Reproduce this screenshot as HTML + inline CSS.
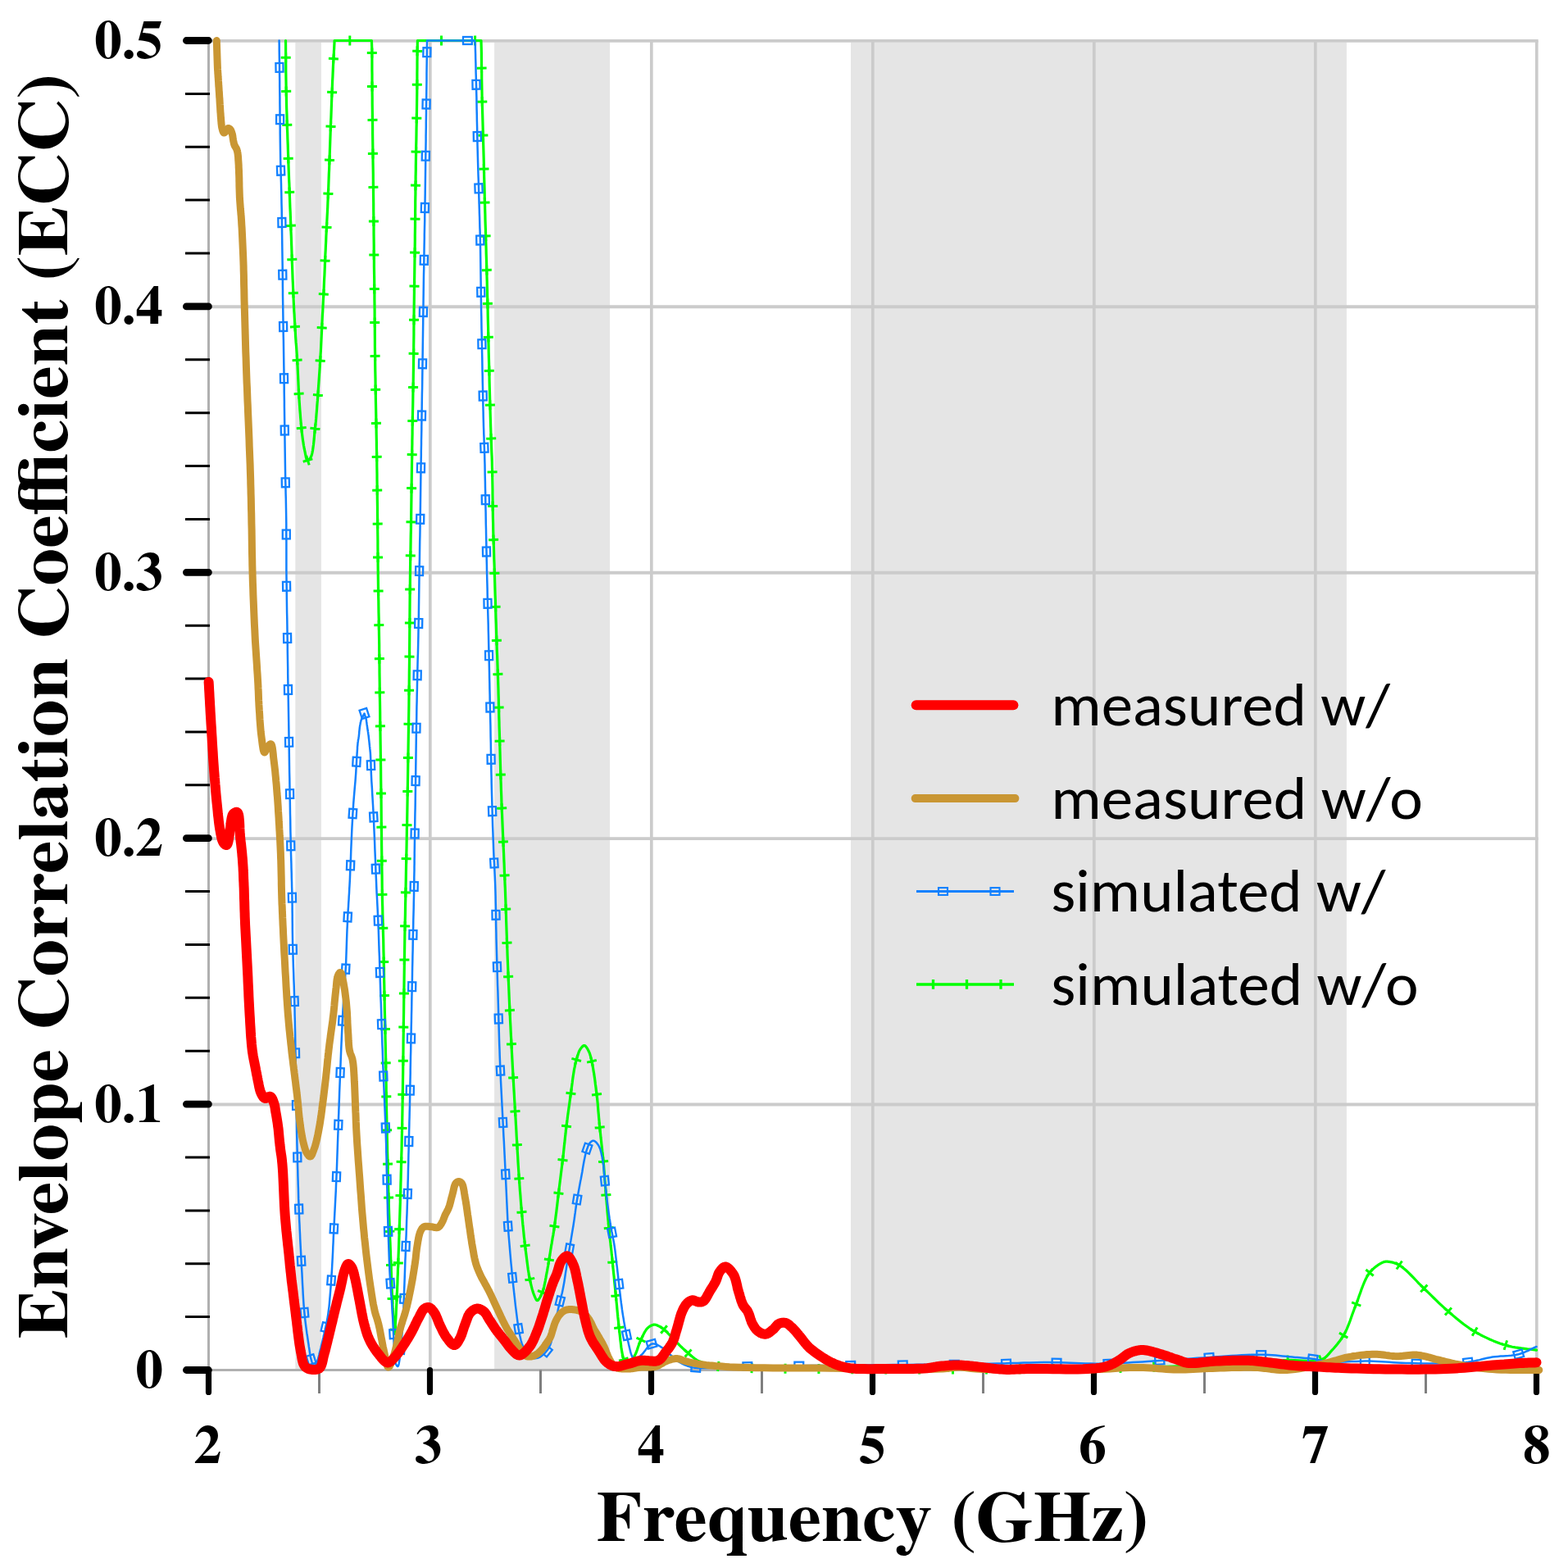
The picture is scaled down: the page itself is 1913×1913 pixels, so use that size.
<!DOCTYPE html><html><head><meta charset="utf-8"><title>Envelope Correlation Coefficient (ECC) vs Frequency</title>
<style>html,body{margin:0;padding:0;background:#fff;}svg{display:block;}</style></head><body>
<svg xmlns="http://www.w3.org/2000/svg" width="1913" height="1913" viewBox="0 0 1913 1913">
<rect x="0" y="0" width="1913" height="1913" fill="#ffffff"/>
<rect x="360.3" y="51.5" width="31.6" height="1618.5" fill="#e5e5e5"/>
<rect x="603.1" y="51.5" width="140.9" height="1618.5" fill="#e5e5e5"/>
<rect x="1038.0" y="51.5" width="604.9" height="1618.5" fill="#e5e5e5"/>
<path d="M256.0,1347.5 H1876.7 M256.0,1023.1 H1876.7 M256.0,698.7 H1876.7 M256.0,374.3 H1876.7 M256.0,49.9 H1876.7" stroke="#cbcbcb" stroke-width="3.9" fill="none"/>
<path d="M524.8,49.9 V1670.0 M794.8,49.9 V1670.0 M1064.8,49.9 V1670.0 M1334.8,49.9 V1670.0 M1604.8,49.9 V1670.0 M1874.8,49.9 V1670.0" stroke="#cbcbcb" stroke-width="3.7" fill="none"/>
<path d="M254.5,47.7 V1671.5 M254.5,1671.5 H1876.2" stroke="#b0b0b0" stroke-width="3" fill="none"/>
<path d="M389.5,1671.5 V1700 M659.5,1671.5 V1700 M929.5,1671.5 V1700 M1199.5,1671.5 V1700 M1469.5,1671.5 V1700 M1739.5,1671.5 V1700" stroke="#7f7f7f" stroke-width="3" fill="none"/>
<path d="M226,1606.6 H256 M226,1541.7 H256 M226,1476.9 H256 M226,1412.0 H256 M226,1282.2 H256 M226,1217.3 H256 M226,1152.5 H256 M226,1087.6 H256 M226,957.8 H256 M226,892.9 H256 M226,828.1 H256 M226,763.2 H256 M226,633.4 H256 M226,568.5 H256 M226,503.7 H256 M226,438.8 H256 M226,309.0 H256 M226,244.1 H256 M226,179.3 H256 M226,114.4 H256" stroke="#000" stroke-width="3" fill="none"/>
<path d="M227.4,1671.5 H254.4 M227.4,1347.1 H254.4 M227.4,1022.7 H254.4 M227.4,698.3 H254.4 M227.4,373.9 H254.4 M227.4,49.5 H254.4" stroke="#000" stroke-width="8.8" stroke-linecap="round" fill="none"/>
<path d="M254.5,1671.5 V1698.4 M524.5,1671.5 V1698.4 M794.5,1671.5 V1698.4 M1064.5,1671.5 V1698.4 M1334.5,1671.5 V1698.4 M1604.5,1671.5 V1698.4 M1874.5,1671.5 V1698.4" stroke="#000" stroke-width="7.2" stroke-linecap="round" fill="none"/>
<path d="M348.5,49.5 L348.6,55.7 L348.6,61.9 L348.7,68.1 L348.7,74.2 L348.8,80.4 L348.8,86.6 L348.9,92.9 L349.0,99.1 L349.1,105.5 L349.2,111.9 L349.4,118.9 L349.5,126.1 L349.7,133.3 L350.0,140.7 L350.2,148.0 L350.4,155.4 L350.7,162.7 L350.9,169.9 L351.2,176.9 L351.4,183.8 L351.6,189.8 L351.8,195.7 L352.0,201.5 L352.2,207.2 L352.4,212.9 L352.6,218.6 L352.9,224.2 L353.1,229.9 L353.3,235.6 L353.5,241.3 L353.7,247.1 L353.9,253.0 L354.2,258.9 L354.4,264.8 L354.6,270.6 L354.8,276.5 L355.0,282.4 L355.3,288.3 L355.5,294.2 L355.7,300.0 L355.9,305.8 L356.1,311.7 L356.3,317.6 L356.5,323.4 L356.7,329.3 L356.9,335.1 L357.1,340.9 L357.4,346.5 L357.6,352.1 L357.8,357.5 L358.0,362.1 L358.2,366.5 L358.4,370.9 L358.6,375.2 L358.8,379.4 L359.1,383.7 L359.3,387.9 L359.5,392.1 L359.8,396.3 L360.0,400.6 L360.3,404.9 L360.5,409.2 L360.8,413.6 L361.1,417.9 L361.5,422.2 L361.8,426.5 L362.1,430.8 L362.4,435.2 L362.6,439.5 L362.9,443.8 L363.1,448.1 L363.3,452.4 L363.5,456.7 L363.7,461.0 L363.9,465.4 L364.1,469.7 L364.3,474.0 L364.5,478.3 L364.7,482.6 L365.0,486.9 L365.3,491.3 L365.6,495.8 L365.9,500.3 L366.3,504.9 L366.6,509.4 L367.0,513.9 L367.4,518.2 L367.8,522.4 L368.2,526.3 L368.6,530.0 L368.9,532.4 L369.2,534.8 L369.5,537.1 L369.9,539.3 L370.2,541.4 L370.5,543.5 L370.9,545.5 L371.2,547.4 L371.6,549.2 L372.0,551.0 L372.3,552.3 L372.5,553.7 L372.8,555.1 L373.1,556.4 L373.3,557.7 L373.6,558.9 L373.9,559.9 L374.3,560.7 L374.7,561.3 L375.1,561.6 L375.5,561.6 L375.9,561.5 L376.3,561.3 L376.8,560.9 L377.2,560.5 L377.7,559.9 L378.2,559.4 L378.6,558.7 L379.0,558.0 L379.4,557.3 L380.2,555.3 L380.9,552.6 L381.5,549.6 L382.0,546.1 L382.5,542.4 L382.9,538.5 L383.3,534.5 L383.6,530.5 L384.0,526.6 L384.4,522.8 L384.8,518.7 L385.3,514.5 L385.7,510.2 L386.0,505.9 L386.4,501.6 L386.7,497.2 L387.0,492.8 L387.4,488.4 L387.7,484.0 L388.0,479.7 L388.3,475.4 L388.6,471.1 L388.9,466.8 L389.2,462.5 L389.5,458.2 L389.8,453.8 L390.1,449.5 L390.4,445.2 L390.6,440.9 L390.9,436.6 L391.1,432.3 L391.4,428.0 L391.6,423.6 L391.8,419.3 L392.0,415.0 L392.2,410.7 L392.4,406.4 L392.6,402.0 L392.8,397.7 L393.0,393.4 L393.2,389.1 L393.4,384.8 L393.7,380.6 L393.9,376.3 L394.1,372.1 L394.3,367.8 L394.5,363.5 L394.8,359.1 L395.0,354.7 L395.2,350.3 L395.4,345.4 L395.6,340.6 L395.9,335.6 L396.1,330.6 L396.3,325.6 L396.5,320.6 L396.7,315.5 L396.9,310.4 L397.2,305.2 L397.4,300.0 L397.7,294.3 L397.9,288.5 L398.2,282.7 L398.5,276.8 L398.8,270.9 L399.1,265.0 L399.4,259.0 L399.7,253.1 L399.9,247.2 L400.2,241.3 L400.4,235.5 L400.7,229.8 L400.9,224.0 L401.1,218.3 L401.3,212.5 L401.6,206.8 L401.8,201.0 L402.0,195.3 L402.2,189.5 L402.4,183.8 L402.6,178.0 L402.8,172.2 L403.0,166.4 L403.2,160.6 L403.4,154.8 L403.6,149.0 L403.9,143.3 L404.1,137.6 L404.3,131.9 L404.5,126.3 L404.7,121.0 L404.9,115.6 L405.2,110.0 L405.4,104.5 L405.6,99.1 L405.9,93.9 L406.1,88.8 L406.3,84.1 L406.5,79.8 L406.7,75.9 L406.8,73.9 L406.9,72.1 L407.0,70.4 L407.1,68.7 L407.2,67.2 L407.3,65.7 L407.4,64.2 L407.4,62.8 L407.5,61.4 L407.6,60.0 L407.7,58.9 L407.7,57.8 L407.8,56.7 L407.8,55.6 L407.9,54.6 L407.9,53.6 L408.0,52.6 L408.0,51.6 L408.1,50.5 L408.1,49.5 L453.4,49.5 L453.8,60.0 L453.8,65.2 L453.9,70.2 L453.9,75.3 L453.9,80.4 L453.9,85.4 L454.0,90.5 L454.0,95.7 L454.0,101.0 L454.1,106.4 L454.1,111.9 L454.2,118.7 L454.2,125.7 L454.3,132.9 L454.4,140.2 L454.5,147.6 L454.6,155.1 L454.6,162.5 L454.7,169.7 L454.8,176.9 L454.9,183.8 L455.0,189.8 L455.0,195.6 L455.1,201.3 L455.2,207.0 L455.3,212.6 L455.3,218.1 L455.4,223.8 L455.5,229.5 L455.5,235.3 L455.6,241.3 L455.7,248.2 L455.7,255.3 L455.8,262.5 L455.9,269.8 L456.0,277.1 L456.0,284.5 L456.1,291.8 L456.2,299.1 L456.2,306.2 L456.3,313.1 L456.4,319.2 L456.4,325.1 L456.5,331.0 L456.6,336.8 L456.7,342.5 L456.7,348.2 L456.8,354.0 L456.9,359.9 L456.9,365.8 L457.0,371.9 L457.1,378.8 L457.1,385.7 L457.2,392.7 L457.3,399.8 L457.3,407.0 L457.4,414.2 L457.4,421.5 L457.5,428.9 L457.6,436.3 L457.7,443.8 L457.8,452.2 L458.0,461.0 L458.1,470.0 L458.3,479.1 L458.4,488.3 L458.6,497.3 L458.8,506.1 L458.9,514.5 L459.1,522.5 L459.2,530.0 L459.3,534.9 L459.4,539.5 L459.4,543.8 L459.5,548.0 L459.6,552.1 L459.6,556.1 L459.7,560.1 L459.8,564.3 L459.8,568.6 L459.9,573.1 L460.0,578.6 L460.0,584.2 L460.1,589.9 L460.2,595.7 L460.3,601.6 L460.3,607.5 L460.4,613.5 L460.5,619.6 L460.5,625.7 L460.6,631.9 L460.7,638.8 L460.7,645.8 L460.8,652.9 L460.9,660.1 L460.9,667.4 L461.0,674.7 L461.1,682.0 L461.1,689.3 L461.2,696.6 L461.3,703.8 L461.4,711.0 L461.5,718.3 L461.6,725.6 L461.8,732.9 L461.9,740.2 L462.0,747.5 L462.2,754.6 L462.3,761.8 L462.4,768.7 L462.5,775.6 L462.6,781.5 L462.7,787.1 L462.7,792.6 L462.8,797.9 L462.9,803.3 L462.9,808.7 L463.0,814.3 L463.0,820.2 L463.1,826.4 L463.2,833.1 L463.3,844.0 L463.5,855.9 L463.7,868.4 L463.8,881.6 L464.0,895.2 L464.2,909.0 L464.4,923.0 L464.6,936.9 L464.7,950.5 L464.9,963.8 L465.1,977.0 L465.2,990.5 L465.3,1004.2 L465.5,1018.0 L465.6,1031.6 L465.8,1045.0 L465.9,1058.0 L466.1,1070.5 L466.2,1082.2 L466.4,1093.1 L466.5,1099.9 L466.7,1106.2 L466.8,1112.2 L466.9,1118.0 L467.1,1123.6 L467.2,1129.1 L467.4,1134.5 L467.5,1140.1 L467.7,1145.9 L467.8,1151.9 L467.9,1158.8 L468.1,1165.8 L468.2,1172.9 L468.4,1180.1 L468.5,1187.4 L468.6,1194.7 L468.8,1202.0 L468.9,1209.3 L469.1,1216.6 L469.2,1223.8 L469.3,1231.0 L469.5,1238.3 L469.7,1245.6 L469.8,1252.8 L470.0,1260.1 L470.1,1267.4 L470.3,1274.6 L470.4,1281.7 L470.6,1288.7 L470.7,1295.6 L470.8,1301.8 L470.9,1308.0 L471.0,1314.1 L471.1,1320.2 L471.2,1326.3 L471.2,1332.2 L471.3,1338.1 L471.4,1343.8 L471.5,1349.5 L471.6,1355.0 L471.7,1359.5 L471.8,1363.8 L471.8,1367.9 L471.9,1372.0 L472.0,1376.0 L472.1,1380.0 L472.2,1384.2 L472.3,1388.4 L472.4,1392.8 L472.5,1397.5 L472.6,1404.0 L472.8,1410.8 L473.0,1417.9 L473.1,1425.3 L473.3,1432.8 L473.5,1440.3 L473.7,1447.8 L473.9,1455.2 L474.1,1462.5 L474.3,1469.4 L474.5,1475.4 L474.7,1481.3 L474.9,1487.1 L475.1,1492.9 L475.3,1498.6 L475.5,1504.2 L475.7,1509.9 L476.0,1515.5 L476.2,1521.2 L476.4,1526.9 L476.6,1532.7 L476.8,1538.7 L477.0,1544.8 L477.3,1550.9 L477.5,1557.0 L477.7,1562.9 L477.9,1568.7 L478.2,1574.2 L478.4,1579.5 L478.6,1584.4 L478.8,1587.6 L478.9,1590.7 L479.1,1593.8 L479.2,1596.7 L479.4,1599.5 L479.5,1602.3 L479.7,1604.9 L479.9,1607.4 L480.0,1609.7 L480.2,1612.0 L480.3,1613.5 L480.5,1615.1 L480.6,1616.7 L480.7,1618.3 L480.9,1619.8 L481.0,1621.2 L481.1,1622.3 L481.2,1623.2 L481.4,1623.8 L481.5,1624.0 L481.6,1623.8 L481.7,1623.2 L481.8,1622.4 L482.0,1621.2 L482.1,1619.9 L482.2,1618.4 L482.3,1616.8 L482.4,1615.2 L482.5,1613.6 L482.6,1612.0 L482.8,1609.3 L483.0,1606.3 L483.2,1603.0 L483.3,1599.6 L483.5,1596.0 L483.7,1592.3 L483.9,1588.6 L484.1,1584.9 L484.2,1581.2 L484.4,1577.6 L484.6,1573.9 L484.7,1570.1 L484.9,1566.3 L485.0,1562.4 L485.1,1558.5 L485.3,1554.7 L485.4,1550.9 L485.5,1547.2 L485.7,1543.5 L485.8,1540.0 L485.9,1537.1 L486.0,1534.4 L486.1,1531.8 L486.2,1529.2 L486.3,1526.6 L486.4,1524.0 L486.5,1521.4 L486.6,1518.6 L486.7,1515.6 L486.8,1512.5 L487.0,1507.6 L487.1,1502.3 L487.3,1496.8 L487.5,1491.0 L487.7,1485.1 L487.9,1479.0 L488.1,1472.9 L488.3,1466.8 L488.4,1460.8 L488.6,1455.0 L488.8,1449.3 L488.9,1443.5 L489.1,1437.8 L489.2,1432.0 L489.4,1426.3 L489.5,1420.5 L489.7,1414.8 L489.8,1409.0 L490.0,1403.3 L490.1,1397.5 L490.2,1391.8 L490.3,1386.3 L490.5,1380.9 L490.6,1375.5 L490.7,1370.0 L490.8,1364.4 L490.9,1358.7 L491.0,1352.8 L491.1,1346.6 L491.2,1340.0 L491.4,1329.9 L491.5,1318.9 L491.7,1307.2 L491.8,1295.1 L492.0,1282.7 L492.1,1270.2 L492.3,1257.9 L492.4,1245.9 L492.6,1234.5 L492.7,1223.8 L492.8,1215.9 L492.9,1208.3 L493.0,1201.0 L493.1,1193.8 L493.2,1186.8 L493.3,1179.8 L493.4,1172.9 L493.5,1166.0 L493.6,1159.0 L493.7,1151.9 L493.8,1144.8 L493.9,1137.8 L494.1,1130.9 L494.2,1124.0 L494.4,1117.0 L494.5,1110.0 L494.6,1102.8 L494.8,1095.5 L494.9,1087.9 L495.1,1080.0 L495.3,1069.5 L495.5,1058.6 L495.7,1047.4 L496.0,1035.8 L496.2,1024.1 L496.4,1012.1 L496.7,1000.0 L496.9,987.9 L497.1,975.8 L497.3,963.8 L497.5,951.0 L497.7,938.1 L497.9,925.1 L498.1,912.0 L498.3,898.8 L498.5,885.6 L498.7,872.4 L498.9,859.2 L499.0,846.1 L499.2,833.0 L499.3,819.9 L499.5,806.5 L499.6,793.0 L499.7,779.5 L499.8,766.0 L499.9,752.7 L500.0,739.8 L500.1,727.2 L500.3,715.2 L500.4,703.8 L500.5,695.8 L500.6,688.1 L500.7,680.7 L500.9,673.5 L501.0,666.5 L501.1,659.7 L501.2,652.8 L501.4,645.9 L501.5,639.0 L501.6,631.9 L501.7,624.6 L501.8,617.2 L501.9,609.8 L502.0,602.3 L502.1,594.9 L502.2,587.5 L502.3,580.3 L502.4,573.3 L502.5,566.5 L502.6,560.0 L502.7,555.2 L502.7,550.6 L502.8,546.2 L502.9,542.0 L502.9,537.8 L503.0,533.6 L503.1,529.4 L503.1,525.0 L503.2,520.4 L503.3,515.6 L503.4,509.1 L503.5,502.3 L503.7,495.3 L503.8,488.1 L503.9,480.8 L504.0,473.3 L504.2,465.9 L504.3,458.4 L504.4,451.1 L504.5,443.8 L504.6,436.6 L504.7,429.4 L504.7,422.2 L504.8,415.0 L504.9,407.9 L504.9,400.7 L505.0,393.5 L505.0,386.3 L505.1,379.1 L505.2,371.9 L505.3,364.7 L505.4,357.4 L505.5,350.1 L505.6,342.8 L505.7,335.5 L505.8,328.2 L505.9,321.0 L506.0,313.9 L506.1,306.9 L506.2,300.0 L506.3,293.8 L506.3,287.7 L506.4,281.7 L506.5,275.7 L506.5,269.7 L506.6,263.8 L506.6,258.1 L506.7,252.4 L506.7,246.8 L506.8,241.3 L506.9,236.8 L506.9,232.4 L507.0,228.2 L507.0,224.1 L507.1,220.0 L507.1,215.8 L507.2,211.7 L507.3,207.3 L507.3,202.8 L507.4,198.1 L507.5,191.6 L507.6,184.9 L507.7,177.8 L507.9,170.5 L508.0,163.2 L508.1,155.7 L508.3,148.2 L508.4,140.8 L508.5,133.4 L508.6,126.3 L508.7,119.3 L508.8,112.0 L508.8,104.4 L508.9,96.8 L508.9,89.4 L509.0,82.3 L509.0,75.6 L509.1,69.6 L509.1,64.3 L509.2,60.0 L509.2,58.6 L509.2,57.3 L509.3,56.2 L509.3,55.1 L509.3,54.2 L509.3,53.3 L509.3,52.4 L509.4,51.5 L509.4,50.5 L509.4,49.5 L587.0,49.5 L587.3,60.0 L587.4,65.2 L587.4,70.2 L587.5,75.3 L587.5,80.4 L587.6,85.4 L587.7,90.5 L587.7,95.7 L587.8,101.0 L587.9,106.4 L588.0,111.9 L588.1,118.6 L588.3,125.5 L588.5,132.6 L588.7,139.8 L588.9,147.1 L589.1,154.5 L589.3,161.9 L589.5,169.2 L589.7,176.6 L589.9,183.8 L590.1,191.0 L590.3,198.3 L590.4,205.6 L590.6,212.9 L590.8,220.1 L591.0,227.4 L591.2,234.6 L591.3,241.7 L591.5,248.7 L591.7,255.6 L591.9,261.8 L592.0,267.9 L592.2,273.9 L592.4,279.8 L592.6,285.7 L592.7,291.6 L592.9,297.5 L593.1,303.3 L593.2,309.1 L593.4,315.0 L593.6,320.7 L593.7,326.4 L593.9,332.0 L594.0,337.5 L594.2,343.1 L594.3,348.7 L594.5,354.4 L594.6,360.1 L594.8,365.9 L594.9,371.9 L595.1,378.7 L595.2,385.7 L595.4,392.9 L595.6,400.1 L595.7,407.3 L595.9,414.6 L596.1,422.0 L596.2,429.3 L596.4,436.6 L596.6,443.8 L596.8,451.0 L597.0,458.3 L597.1,465.6 L597.3,472.9 L597.5,480.1 L597.7,487.4 L597.9,494.6 L598.1,501.7 L598.3,508.7 L598.5,515.6 L598.7,521.8 L598.9,527.9 L599.1,533.9 L599.4,539.8 L599.6,545.7 L599.8,551.6 L600.1,557.5 L600.3,563.3 L600.4,569.1 L600.6,575.0 L600.7,580.7 L600.8,586.4 L600.9,591.9 L601.0,597.5 L601.0,603.1 L601.1,608.7 L601.1,614.4 L601.2,620.1 L601.3,625.9 L601.4,631.9 L601.6,638.8 L601.7,645.7 L601.9,652.9 L602.1,660.1 L602.4,667.3 L602.6,674.6 L602.8,682.0 L603.1,689.3 L603.3,696.6 L603.5,703.8 L603.7,711.0 L603.9,718.3 L604.1,725.6 L604.4,732.9 L604.6,740.1 L604.8,747.4 L605.0,754.6 L605.3,761.7 L605.5,768.7 L605.7,775.6 L605.9,781.8 L606.1,787.9 L606.3,793.9 L606.6,799.8 L606.8,805.7 L607.0,811.6 L607.2,817.5 L607.4,823.3 L607.6,829.1 L607.8,835.0 L608.0,840.7 L608.1,846.4 L608.3,851.9 L608.4,857.5 L608.6,863.1 L608.7,868.7 L608.8,874.4 L609.0,880.1 L609.1,885.9 L609.3,891.9 L609.5,898.8 L609.7,905.7 L609.9,912.9 L610.1,920.1 L610.3,927.3 L610.5,934.6 L610.7,942.0 L610.9,949.3 L611.2,956.6 L611.4,963.8 L611.7,971.0 L611.9,978.3 L612.2,985.6 L612.5,992.9 L612.8,1000.1 L613.1,1007.4 L613.4,1014.6 L613.7,1021.7 L614.0,1028.7 L614.3,1035.6 L614.6,1041.8 L614.8,1047.9 L615.1,1053.9 L615.3,1059.8 L615.5,1065.7 L615.8,1071.6 L616.0,1077.5 L616.3,1083.3 L616.5,1089.1 L616.7,1095.0 L616.9,1100.7 L617.1,1106.4 L617.3,1112.0 L617.5,1117.5 L617.6,1123.1 L617.8,1128.7 L618.0,1134.4 L618.2,1140.1 L618.4,1145.9 L618.6,1151.9 L618.9,1158.8 L619.1,1165.7 L619.4,1172.9 L619.7,1180.1 L620.0,1187.3 L620.3,1194.6 L620.6,1202.0 L620.9,1209.3 L621.2,1216.6 L621.5,1223.8 L621.8,1231.0 L622.2,1238.1 L622.5,1245.3 L622.9,1252.4 L623.2,1259.5 L623.6,1266.7 L624.0,1273.9 L624.3,1281.1 L624.7,1288.3 L625.1,1295.6 L625.5,1303.3 L625.9,1311.0 L626.4,1318.8 L626.8,1326.7 L627.3,1334.6 L627.7,1342.4 L628.2,1350.2 L628.6,1357.9 L629.1,1365.5 L629.5,1372.9 L629.9,1379.5 L630.2,1386.0 L630.6,1392.4 L631.0,1398.7 L631.3,1405.0 L631.7,1411.2 L632.0,1417.4 L632.4,1423.5 L632.8,1429.6 L633.2,1435.7 L633.6,1441.4 L634.0,1447.0 L634.4,1452.7 L634.9,1458.4 L635.3,1464.0 L635.7,1469.5 L636.2,1474.9 L636.6,1480.1 L637.1,1485.2 L637.5,1490.0 L637.8,1493.5 L638.2,1496.9 L638.5,1500.1 L638.8,1503.2 L639.1,1506.3 L639.4,1509.3 L639.8,1512.3 L640.1,1515.4 L640.5,1518.6 L640.9,1521.8 L641.3,1525.5 L641.8,1529.3 L642.3,1533.2 L642.8,1537.2 L643.3,1541.2 L643.8,1545.1 L644.3,1548.9 L644.9,1552.6 L645.5,1556.1 L646.1,1559.4 L646.6,1561.7 L647.1,1564.0 L647.6,1566.2 L648.1,1568.3 L648.6,1570.4 L649.1,1572.4 L649.7,1574.3 L650.2,1576.1 L650.8,1577.8 L651.4,1579.3 L651.8,1580.3 L652.2,1581.3 L652.6,1582.3 L653.0,1583.2 L653.4,1584.1 L653.8,1584.9 L654.2,1585.6 L654.6,1586.1 L655.0,1586.5 L655.5,1586.6 L656.1,1586.4 L656.7,1585.9 L657.3,1585.2 L658.0,1584.2 L658.7,1583.0 L659.4,1581.7 L660.0,1580.4 L660.7,1578.9 L661.3,1577.5 L661.8,1576.2 L662.5,1574.3 L663.1,1572.3 L663.7,1570.1 L664.2,1567.9 L664.7,1565.6 L665.2,1563.1 L665.6,1560.7 L666.1,1558.2 L666.5,1555.7 L667.0,1553.2 L667.6,1550.2 L668.1,1547.2 L668.7,1544.1 L669.2,1540.9 L669.7,1537.6 L670.3,1534.4 L670.8,1531.2 L671.3,1528.0 L671.8,1524.8 L672.3,1521.8 L672.7,1519.1 L673.2,1516.6 L673.6,1514.1 L674.0,1511.6 L674.4,1509.1 L674.9,1506.6 L675.3,1504.1 L675.7,1501.5 L676.1,1498.8 L676.5,1496.0 L677.0,1492.2 L677.5,1488.3 L678.0,1484.3 L678.6,1480.1 L679.1,1475.8 L679.6,1471.5 L680.1,1467.2 L680.6,1462.9 L681.1,1458.7 L681.6,1454.5 L682.1,1450.5 L682.6,1446.4 L683.1,1442.4 L683.6,1438.4 L684.1,1434.4 L684.6,1430.3 L685.1,1426.3 L685.6,1422.3 L686.1,1418.3 L686.6,1414.3 L687.1,1410.3 L687.5,1406.3 L687.9,1402.3 L688.3,1398.3 L688.8,1394.3 L689.2,1390.3 L689.6,1386.3 L690.1,1382.3 L690.5,1378.2 L691.0,1374.2 L691.5,1370.0 L692.1,1365.8 L692.6,1361.6 L693.2,1357.3 L693.8,1353.0 L694.4,1348.8 L695.0,1344.6 L695.5,1340.6 L696.1,1336.6 L696.6,1332.8 L697.0,1329.8 L697.4,1326.7 L697.8,1323.8 L698.2,1320.9 L698.5,1318.0 L698.9,1315.2 L699.3,1312.5 L699.7,1309.9 L700.1,1307.4 L700.5,1305.0 L700.8,1303.3 L701.2,1301.6 L701.5,1300.0 L701.8,1298.5 L702.2,1297.0 L702.5,1295.5 L702.9,1294.1 L703.3,1292.7 L703.7,1291.3 L704.1,1290.0 L704.4,1288.9 L704.8,1287.8 L705.1,1286.7 L705.5,1285.6 L705.8,1284.6 L706.2,1283.5 L706.6,1282.6 L707.0,1281.7 L707.5,1280.8 L708.0,1280.0 L708.4,1279.4 L708.9,1278.8 L709.4,1278.1 L709.9,1277.5 L710.4,1277.0 L710.9,1276.5 L711.4,1276.0 L711.9,1275.7 L712.4,1275.5 L712.9,1275.5 L713.4,1275.6 L714.0,1276.0 L714.5,1276.5 L715.0,1277.1 L715.6,1277.8 L716.1,1278.6 L716.6,1279.4 L717.1,1280.3 L717.6,1281.2 L718.0,1282.0 L718.5,1283.1 L719.0,1284.2 L719.5,1285.4 L719.9,1286.7 L720.3,1288.0 L720.6,1289.3 L721.0,1290.8 L721.4,1292.3 L721.7,1293.9 L722.1,1295.6 L722.8,1298.7 L723.4,1302.2 L724.0,1305.9 L724.7,1309.9 L725.3,1314.1 L725.9,1318.4 L726.4,1322.7 L727.0,1327.0 L727.5,1331.2 L728.0,1335.3 L728.5,1339.3 L728.9,1343.3 L729.3,1347.3 L729.6,1351.3 L729.9,1355.3 L730.3,1359.3 L730.6,1363.3 L731.0,1367.3 L731.3,1371.4 L731.7,1375.4 L732.1,1379.5 L732.6,1383.6 L733.0,1387.8 L733.5,1391.9 L733.9,1396.1 L734.4,1400.2 L734.8,1404.4 L735.3,1408.5 L735.7,1412.7 L736.1,1416.8 L736.5,1420.8 L736.8,1424.9 L737.1,1428.9 L737.4,1432.9 L737.7,1436.8 L738.0,1440.8 L738.3,1444.9 L738.7,1448.9 L739.0,1452.9 L739.3,1457.0 L739.7,1461.3 L740.0,1465.7 L740.4,1470.3 L740.8,1474.8 L741.1,1479.3 L741.5,1483.8 L741.9,1488.1 L742.3,1492.3 L742.6,1496.3 L743.0,1500.0 L743.2,1502.4 L743.5,1504.7 L743.7,1506.8 L743.9,1508.8 L744.2,1510.8 L744.4,1512.8 L744.6,1514.8 L744.9,1517.0 L745.1,1519.3 L745.4,1521.8 L745.9,1526.1 L746.3,1530.8 L746.9,1535.8 L747.4,1541.1 L747.9,1546.5 L748.5,1552.1 L749.1,1557.7 L749.6,1563.3 L750.2,1568.8 L750.7,1574.1 L751.2,1579.4 L751.7,1584.8 L752.3,1590.3 L752.8,1595.8 L753.3,1601.3 L753.8,1606.7 L754.4,1611.9 L754.9,1617.0 L755.4,1621.8 L755.9,1626.3 L756.3,1629.4 L756.6,1632.5 L756.9,1635.4 L757.3,1638.4 L757.6,1641.2 L757.9,1643.8 L758.3,1646.4 L758.7,1648.8 L759.1,1651.0 L759.5,1653.0 L759.8,1654.1 L760.0,1655.2 L760.2,1656.3 L760.5,1657.3 L760.7,1658.2 L761.0,1659.1 L761.3,1659.9 L761.6,1660.6 L762.0,1661.1 L762.5,1661.5 L762.9,1661.7 L763.3,1661.8 L763.7,1661.8 L764.1,1661.8 L764.6,1661.8 L765.1,1661.7 L765.6,1661.5 L766.1,1661.4 L766.5,1661.2 L767.0,1661.0 L767.7,1660.7 L768.3,1660.3 L769.0,1659.8 L769.7,1659.3 L770.4,1658.7 L771.1,1658.1 L771.8,1657.4 L772.4,1656.6 L773.1,1655.8 L773.7,1655.0 L774.5,1653.6 L775.3,1652.0 L776.1,1650.3 L776.8,1648.4 L777.5,1646.5 L778.1,1644.5 L778.8,1642.5 L779.5,1640.5 L780.2,1638.6 L781.0,1636.8 L781.8,1635.1 L782.6,1633.4 L783.4,1631.6 L784.2,1629.9 L785.0,1628.1 L785.8,1626.5 L786.7,1624.9 L787.6,1623.5 L788.4,1622.2 L789.3,1621.1 L789.9,1620.5 L790.4,1619.9 L791.0,1619.4 L791.6,1619.0 L792.1,1618.6 L792.7,1618.2 L793.3,1617.8 L793.9,1617.5 L794.4,1617.3 L795.0,1617.0 L795.5,1616.8 L795.9,1616.6 L796.3,1616.5 L796.8,1616.4 L797.2,1616.2 L797.7,1616.2 L798.1,1616.1 L798.6,1616.1 L799.1,1616.1 L799.6,1616.2 L800.5,1616.4 L801.4,1616.7 L802.4,1617.2 L803.5,1617.7 L804.6,1618.3 L805.7,1619.0 L806.8,1619.7 L807.8,1620.4 L808.9,1621.2 L809.9,1621.9 L811.0,1622.8 L812.0,1623.7 L813.1,1624.7 L814.1,1625.7 L815.1,1626.8 L816.2,1627.9 L817.2,1629.0 L818.2,1630.1 L819.2,1631.2 L820.3,1632.3 L821.4,1633.4 L822.6,1634.6 L823.7,1635.7 L824.8,1636.9 L826.0,1638.1 L827.2,1639.2 L828.3,1640.4 L829.5,1641.6 L830.6,1642.7 L831.8,1643.8 L832.9,1644.9 L834.1,1646.0 L835.3,1647.1 L836.5,1648.1 L837.6,1649.2 L838.8,1650.3 L840.0,1651.3 L841.1,1652.3 L842.2,1653.2 L843.3,1654.1 L844.1,1654.8 L844.9,1655.4 L845.6,1656.0 L846.4,1656.6 L847.1,1657.2 L847.8,1657.8 L848.6,1658.3 L849.4,1658.9 L850.3,1659.4 L851.3,1659.9 L852.8,1660.6 L854.4,1661.3 L856.1,1662.0 L857.9,1662.7 L859.8,1663.3 L861.7,1663.9 L863.8,1664.5 L865.8,1665.1 L867.9,1665.5 L870.0,1666.0 L872.6,1666.5 L875.2,1666.9 L877.9,1667.2 L880.6,1667.5 L883.4,1667.7 L886.4,1667.9 L889.5,1668.0 L892.8,1668.2 L896.3,1668.3 L900.0,1668.5 L907.4,1668.8 L915.4,1669.1 L924.0,1669.3 L933.2,1669.4 L943.0,1669.6 L953.3,1669.7 L964.2,1669.8 L975.6,1669.8 L987.6,1669.9 L1000.0,1670.0 L1024.2,1670.2 L1052.3,1670.3 L1083.2,1670.4 L1116.1,1670.4 L1150.0,1670.5 L1183.9,1670.5 L1216.8,1670.4 L1247.7,1670.3 L1275.8,1670.2 L1300.0,1670.0 L1312.2,1669.9 L1323.4,1669.7 L1333.9,1669.6 L1343.9,1669.4 L1353.4,1669.2 L1362.6,1669.0 L1371.7,1668.8 L1380.9,1668.6 L1390.2,1668.3 L1400.0,1668.0 L1410.1,1667.7 L1420.3,1667.4 L1430.6,1667.0 L1440.9,1666.6 L1451.1,1666.2 L1461.3,1665.8 L1471.3,1665.4 L1481.1,1664.9 L1490.7,1664.5 L1500.0,1664.0 L1507.6,1663.6 L1515.1,1663.1 L1522.5,1662.6 L1529.8,1662.1 L1536.9,1661.5 L1543.9,1661.0 L1550.7,1660.6 L1557.3,1660.1 L1563.8,1659.8 L1570.0,1659.5 L1574.7,1659.4 L1579.5,1659.6 L1584.1,1659.8 L1588.7,1660.1 L1593.2,1660.4 L1597.4,1660.6 L1601.5,1660.6 L1605.3,1660.4 L1608.7,1659.9 L1611.8,1659.0 L1613.6,1658.2 L1615.2,1657.3 L1616.6,1656.3 L1618.0,1655.2 L1619.2,1654.0 L1620.4,1652.7 L1621.6,1651.4 L1622.7,1650.0 L1623.9,1648.6 L1625.2,1647.2 L1626.8,1645.5 L1628.3,1643.7 L1629.9,1641.9 L1631.5,1640.0 L1633.0,1638.0 L1634.6,1636.0 L1636.1,1633.9 L1637.5,1631.7 L1638.9,1629.4 L1640.3,1627.1 L1641.8,1624.2 L1643.3,1621.1 L1644.6,1617.9 L1645.9,1614.6 L1647.2,1611.2 L1648.4,1607.8 L1649.6,1604.3 L1650.9,1600.7 L1652.2,1597.2 L1653.6,1593.7 L1655.2,1589.7 L1656.7,1585.5 L1658.2,1581.1 L1659.8,1576.7 L1661.3,1572.3 L1663.0,1568.0 L1664.7,1563.9 L1666.5,1560.0 L1668.4,1556.5 L1670.4,1553.5 L1671.9,1551.6 L1673.6,1549.8 L1675.3,1548.1 L1677.1,1546.5 L1678.9,1545.1 L1680.7,1543.8 L1682.4,1542.6 L1684.1,1541.6 L1685.7,1540.8 L1687.1,1540.1 L1687.8,1539.8 L1688.5,1539.6 L1689.2,1539.4 L1689.8,1539.3 L1690.4,1539.2 L1691.1,1539.2 L1691.7,1539.2 L1692.4,1539.2 L1693.1,1539.2 L1693.8,1539.3 L1694.9,1539.4 L1696.1,1539.6 L1697.4,1539.8 L1698.7,1540.1 L1700.0,1540.4 L1701.4,1540.9 L1702.8,1541.4 L1704.3,1542.0 L1705.7,1542.7 L1707.2,1543.5 L1709.8,1545.3 L1712.6,1547.5 L1715.6,1550.0 L1718.6,1552.9 L1721.7,1556.0 L1724.8,1559.2 L1728.0,1562.5 L1731.1,1565.8 L1734.3,1568.9 L1737.3,1571.9 L1740.3,1574.8 L1743.3,1577.7 L1746.3,1580.6 L1749.2,1583.5 L1752.2,1586.4 L1755.2,1589.3 L1758.2,1592.1 L1761.2,1594.9 L1764.3,1597.7 L1767.4,1600.4 L1770.5,1603.0 L1773.5,1605.6 L1776.6,1608.2 L1779.7,1610.7 L1782.8,1613.2 L1786.0,1615.7 L1789.2,1618.0 L1792.4,1620.3 L1795.8,1622.5 L1799.2,1624.6 L1802.8,1626.7 L1806.5,1628.7 L1810.3,1630.6 L1814.1,1632.4 L1818.0,1634.2 L1822.0,1635.9 L1825.9,1637.4 L1829.9,1638.9 L1833.8,1640.2 L1837.7,1641.4 L1841.4,1642.4 L1845.0,1643.2 L1848.7,1643.9 L1852.4,1644.4 L1856.1,1644.9 L1859.8,1645.3 L1863.4,1645.8 L1867.1,1646.2 L1870.8,1646.7 L1874.5,1647.2" stroke="#00ff00" stroke-width="3.2" stroke-linecap="round" stroke-linejoin="round" fill="none"/>
<path d="M348.6,64.2 L348.7,76.2 M354.7,70.2 L342.7,70.2 M349.1,105.4 L349.3,117.4 M355.2,111.3 L343.2,111.5 M350.1,146.4 L350.5,158.4 M356.3,152.2 L344.3,152.6 M351.5,187.4 L351.9,199.4 M357.7,193.2 L345.7,193.6 M353.0,228.5 L353.5,240.5 M359.2,234.3 L347.3,234.7 M354.5,269.3 L355.0,281.3 M360.8,275.0 L348.8,275.5 M356.1,310.5 L356.5,322.5 M362.3,316.3 L350.3,316.7 M357.5,351.5 L358.1,363.5 M363.8,357.2 L351.8,357.8 M359.5,392.5 L360.2,404.5 M365.9,398.2 L353.9,398.9 M362.2,433.4 L363.0,445.4 M368.6,439.0 L356.6,439.8 M364.3,474.4 L364.9,486.4 M370.6,480.1 L358.6,480.7 M367.2,516.1 L368.3,528.1 M373.7,521.5 L361.8,522.7 M369.7,563.3 L381.3,559.9 M373.8,555.8 L377.2,567.4 M383.8,528.8 L385.0,516.9 M378.4,522.2 L390.4,523.5 M387.4,487.9 L388.3,475.9 M381.9,481.5 L393.8,482.4 M390.3,446.2 L391.0,434.2 M384.7,439.8 L396.7,440.5 M392.4,405.9 L393.0,393.9 M386.7,399.6 L398.7,400.2 M394.5,364.9 L395.1,352.9 M388.8,358.6 L400.8,359.2 M396.4,324.0 L396.9,312.0 M390.6,317.7 L402.6,318.3 M398.2,283.2 L398.8,271.2 M392.5,276.9 L404.5,277.5 M400.2,242.2 L400.7,230.2 M394.4,235.9 L406.4,236.4 M401.8,201.3 L402.2,189.3 M396.0,195.1 L408.0,195.5 M403.2,160.3 L403.7,148.3 M397.5,154.1 L409.5,154.5 M404.8,118.6 L405.3,106.6 M399.1,112.3 L411.1,112.8 M406.6,77.6 L407.3,65.6 M400.9,71.3 L412.9,72.0 M420.8,49.5 L432.8,49.5 M426.8,43.5 L426.8,55.5 M453.8,58.4 L453.9,70.4 M459.8,64.4 L447.8,64.4 M454.0,99.4 L454.1,111.4 M460.0,105.4 L448.0,105.4 M454.4,140.4 L454.5,152.4 M460.5,146.3 L448.5,146.5 M454.9,181.4 L455.0,193.4 M460.9,187.3 L448.9,187.5 M455.4,222.3 L455.5,234.3 M461.4,228.2 L449.5,228.4 M455.8,264.0 L455.9,276.0 M461.9,269.9 L449.9,270.1 M456.2,305.0 L456.3,317.0 M462.3,310.9 L450.3,311.1 M456.7,346.5 L456.8,358.5 M462.8,352.4 L450.8,352.6 M457.2,387.4 L457.3,399.4 M463.2,393.4 L451.2,393.5 M457.5,428.4 L457.7,440.4 M463.6,434.3 L451.6,434.5 M458.1,469.4 L458.3,481.4 M464.2,475.3 L452.2,475.5 M458.9,510.4 L459.1,522.4 M465.0,516.3 L453.0,516.5 M459.6,551.3 L459.8,563.3 M465.7,557.2 L453.7,557.4 M460.1,592.1 L460.3,604.1 M466.2,598.0 L454.2,598.2 M460.6,633.1 L460.7,645.1 M466.7,639.0 L454.7,639.2 M461.0,674.0 L461.1,686.0 M467.0,679.9 L455.0,680.1 M461.5,715.0 L461.7,727.0 M467.6,720.9 L455.6,721.1 M462.2,756.7 L462.4,768.7 M468.3,762.6 L456.3,762.8 M462.8,797.7 L462.9,809.7 M468.9,803.6 L456.9,803.8 M463.3,838.8 L463.4,850.8 M469.3,844.7 L457.3,844.9 M463.8,879.9 L464.0,891.9 M469.9,885.8 L457.9,886.0 M464.4,921.0 L464.5,933.0 M470.4,926.9 L458.4,927.1 M464.9,962.1 L465.0,974.1 M470.9,968.0 L459.0,968.1 M465.3,1003.2 L465.5,1015.2 M471.4,1009.1 L459.4,1009.2 M465.8,1044.2 L465.9,1056.2 M471.8,1050.2 L459.8,1050.3 M466.3,1085.3 L466.5,1097.3 M472.4,1091.2 L460.4,1091.4 M467.2,1126.4 L467.5,1138.4 M473.3,1132.3 L461.3,1132.6 M468.1,1167.5 L468.4,1179.5 M474.2,1173.4 L462.2,1173.6 M468.9,1208.6 L469.1,1220.6 M475.0,1214.5 L463.0,1214.7 M469.7,1249.7 L470.0,1261.7 M475.9,1255.5 L463.9,1255.8 M470.6,1290.8 L470.8,1302.8 M476.7,1296.7 L464.7,1296.9 M471.2,1331.9 L471.4,1343.8 M477.3,1337.8 L465.3,1337.9 M471.9,1372.9 L472.2,1384.9 M478.1,1378.8 L466.1,1379.1 M472.9,1414.0 L473.2,1426.0 M479.0,1419.9 L467.0,1420.2 M473.9,1455.1 L474.2,1467.1 M480.1,1460.9 L468.1,1461.3 M475.2,1496.2 L475.7,1508.2 M481.4,1501.9 L469.5,1502.4 M476.8,1537.2 L477.2,1549.2 M483.0,1543.0 L471.0,1543.4 M478.3,1578.3 L478.9,1590.3 M484.6,1584.0 L472.6,1584.6 M481.0,1628.8 L482.6,1616.9 M475.8,1622.0 L487.7,1623.6 M483.9,1587.8 L484.5,1575.8 M478.2,1581.5 L490.2,1582.1 M485.6,1546.7 L486.0,1534.7 M479.8,1540.5 L491.8,1540.9 M487.0,1505.6 L487.4,1493.7 M481.2,1499.5 L493.2,1499.8 M488.3,1464.6 L488.7,1452.6 M482.5,1458.4 L494.5,1458.8 M489.5,1423.5 L489.8,1411.5 M483.6,1417.3 L495.6,1417.7 M490.4,1382.4 L490.7,1370.4 M484.6,1376.3 L496.5,1376.5 M491.2,1341.3 L491.4,1329.3 M485.3,1335.2 L497.3,1335.4 M491.8,1300.2 L491.9,1288.2 M485.8,1294.2 L497.8,1294.3 M492.3,1259.1 L492.4,1247.1 M486.3,1253.1 L498.3,1253.2 M492.8,1218.1 L492.9,1206.1 M486.9,1212.0 L498.9,1212.1 M493.3,1177.0 L493.5,1165.0 M487.4,1170.9 L499.4,1171.1 M494.0,1135.9 L494.2,1123.9 M488.1,1129.8 L500.1,1130.0 M494.8,1094.8 L495.0,1082.8 M488.9,1088.7 L500.9,1088.9 M495.6,1053.7 L495.9,1041.7 M489.7,1047.6 L501.7,1047.8 M496.4,1012.6 L496.6,1000.6 M490.5,1006.5 L502.5,1006.7 M497.2,971.5 L497.4,959.5 M491.3,965.4 L503.3,965.6 M497.8,930.4 L498.0,918.4 M491.9,924.4 L503.9,924.5 M498.5,889.4 L498.6,877.4 M492.5,883.3 L504.5,883.4 M499.0,848.3 L499.2,836.3 M493.1,842.2 L505.1,842.3 M499.5,807.2 L499.6,795.2 M493.5,801.1 L505.5,801.2 M499.8,766.1 L499.9,754.1 M493.9,760.0 L505.9,760.1 M500.2,725.0 L500.3,713.0 M494.2,718.9 L506.2,719.1 M500.7,683.9 L500.9,671.9 M494.8,677.8 L506.8,678.0 M501.4,642.8 L501.6,630.8 M495.5,636.7 L507.5,636.9 M502.0,601.7 L502.2,589.7 M496.1,595.6 L508.1,595.8 M502.6,560.6 L502.8,548.6 M496.7,554.5 L508.7,554.7 M503.2,519.5 L503.4,507.5 M497.3,513.4 L509.3,513.6 M504.0,478.5 L504.2,466.5 M498.1,472.4 L510.1,472.6 M504.6,437.4 L504.7,425.4 M498.6,431.3 L510.6,431.4 M505.0,396.3 L505.1,384.3 M499.0,390.2 L511.0,390.3 M505.4,355.2 L505.6,343.2 M499.5,349.1 L511.5,349.3 M506.0,314.1 L506.2,302.1 M500.1,308.0 L512.1,308.2 M506.5,273.1 L506.6,261.1 M500.5,267.0 L512.5,267.2 M506.9,232.2 L507.1,220.2 M501.0,226.1 L513.0,226.3 M507.5,191.2 L507.7,179.2 M501.6,185.1 L513.6,185.3 M508.2,150.2 L508.4,138.2 M502.3,144.1 L514.3,144.3 M508.8,109.3 L508.9,97.3 M502.8,103.3 L514.8,103.3 M509.1,68.3 L509.2,56.3 M503.2,62.2 L515.2,62.4 M532.5,49.5 L544.5,49.5 M538.5,43.5 L538.5,55.5 M573.6,49.5 L585.6,49.5 M579.6,43.5 L579.6,55.5 M587.5,77.1 L587.6,89.1 M593.6,83.0 L581.6,83.2 M588.1,118.1 L588.4,130.1 M594.3,124.0 L582.3,124.3 M589.2,159.1 L589.6,171.1 M595.4,164.9 L583.4,165.3 M590.3,200.0 L590.6,212.0 M596.5,205.9 L584.5,206.2 M591.3,241.0 L591.6,253.0 M597.5,246.9 L585.5,247.2 M592.4,282.0 L592.8,294.0 M598.6,287.8 L586.6,288.2 M593.6,323.5 L594.0,335.5 M599.8,329.3 L587.8,329.7 M594.7,364.4 L595.0,376.4 M600.9,370.3 L588.9,370.6 M595.7,405.4 L596.0,417.4 M601.8,411.3 L589.8,411.5 M596.7,446.4 L597.0,458.4 M602.8,452.3 L590.8,452.6 M597.7,488.1 L598.0,500.1 M603.9,493.9 L591.9,494.3 M599.0,529.0 L599.4,541.0 M605.2,534.8 L593.2,535.2 M600.5,569.8 L600.7,581.8 M606.6,575.7 L594.6,575.9 M601.1,611.5 L601.2,623.5 M607.2,617.4 L595.2,617.6 M601.9,652.5 L602.3,664.5 M608.1,658.3 L596.1,658.7 M603.2,693.4 L603.5,705.4 M609.4,699.2 L597.4,699.6 M604.4,734.4 L604.8,746.4 M610.6,740.2 L598.6,740.6 M605.7,775.4 L606.1,787.4 M611.9,781.2 L599.9,781.6 M607.2,816.4 L607.6,828.4 M613.4,822.2 L601.4,822.7 M608.4,857.1 L608.7,869.1 M614.6,863.0 L602.6,863.3 M609.5,898.1 L609.8,910.1 M615.6,904.0 L603.6,904.3 M610.6,939.1 L611.0,951.1 M616.8,945.0 L604.8,945.3 M612.0,980.1 L612.5,992.1 M618.2,985.8 L606.2,986.3 M613.7,1021.0 L614.2,1033.0 M619.9,1026.8 L608.0,1027.3 M615.4,1062.0 L615.9,1074.0 M621.6,1067.8 L609.6,1068.3 M617.0,1103.2 L617.4,1115.2 M623.2,1109.0 L611.2,1109.4 M618.3,1144.3 L618.8,1156.3 M624.5,1150.1 L612.5,1150.5 M619.9,1185.4 L620.4,1197.4 M626.1,1191.2 L614.1,1191.7 M621.6,1226.6 L622.2,1238.6 M627.9,1232.3 L615.9,1232.9 M623.6,1267.7 L624.3,1279.7 M629.9,1273.4 L618.0,1274.0 M625.8,1308.8 L626.5,1320.8 M632.1,1314.5 L620.2,1315.1 M628.2,1349.9 L628.9,1361.9 M634.5,1355.5 L622.5,1356.2 M630.5,1390.8 L631.2,1402.8 M636.8,1396.5 L624.9,1397.1 M632.9,1431.8 L633.8,1443.8 M639.3,1437.4 L627.4,1438.2 M636.0,1472.7 L637.0,1484.7 M642.5,1478.2 L630.5,1479.2 M639.9,1513.8 L641.4,1525.7 M646.6,1519.0 L634.7,1520.5 M645.1,1554.7 L647.6,1566.5 M652.2,1559.4 L640.5,1561.8 M659.3,1582.3 L663.8,1571.2 M656.0,1574.5 L667.1,1579.0 M668.9,1542.8 L670.8,1531.0 M663.9,1535.9 L675.8,1537.8 M675.6,1502.1 L677.3,1490.2 M670.5,1495.3 L682.4,1497.0 M680.7,1461.6 L682.2,1449.7 M675.5,1454.9 L687.4,1456.4 M685.8,1421.2 L687.2,1409.3 M680.5,1414.5 L692.5,1415.9 M690.3,1379.9 L691.8,1368.0 M685.1,1373.2 L697.0,1374.7 M695.6,1339.9 L697.3,1328.0 M690.5,1333.2 L702.4,1334.8 M701.6,1298.8 L704.8,1287.2 M697.4,1291.4 L709.0,1294.5 M720.6,1288.9 L723.2,1300.6 M727.8,1293.5 L716.1,1296.1 M727.3,1329.3 L728.7,1341.3 M734.0,1334.6 L722.0,1336.0 M731.1,1369.3 L732.3,1381.3 M737.7,1374.7 L725.7,1375.9 M735.6,1410.9 L736.6,1422.9 M742.1,1416.4 L730.1,1417.4 M738.9,1451.9 L739.9,1463.8 M745.4,1457.4 L733.4,1458.3 M742.2,1492.1 L743.4,1504.1 M748.8,1497.5 L736.8,1498.7 M746.6,1533.7 L747.8,1545.6 M753.2,1539.0 L741.3,1540.3 M750.8,1574.7 L751.9,1586.7 M757.3,1580.1 L745.4,1581.3 M754.5,1613.8 L755.8,1625.7 M761.1,1619.1 L749.2,1620.4 M759.0,1652.8 L762.6,1664.3 M766.5,1656.8 L755.1,1660.3 M779.5,1640.1 L784.4,1629.2 M776.5,1632.2 L787.4,1637.2 M805.3,1618.3 L814.7,1625.7 M813.8,1617.3 L806.3,1626.7 M835.1,1647.0 L844.1,1654.9 M843.5,1646.4 L835.6,1655.4 M870.3,1666.3 L882.3,1667.7 M877.0,1661.0 L875.6,1673.0 M911.1,1669.0 L923.1,1669.3 M917.3,1663.1 L917.0,1675.1 M952.0,1669.7 L964.0,1669.8 M958.1,1663.7 L958.0,1675.7 M992.9,1669.9 L1004.9,1670.0 M999.0,1664.0 L998.9,1676.0 M1033.8,1670.2 L1045.8,1670.3 M1039.8,1664.2 L1039.8,1676.2 M1074.7,1670.4 L1086.7,1670.4 M1080.7,1664.4 L1080.7,1676.4 M1115.6,1670.4 L1127.6,1670.5 M1121.6,1664.5 L1121.6,1676.5 M1156.5,1670.5 L1168.5,1670.5 M1162.5,1664.5 L1162.5,1676.5 M1197.4,1670.5 L1209.4,1670.4 M1203.4,1664.4 L1203.4,1676.4 M1238.3,1670.4 L1250.3,1670.3 M1244.3,1664.3 L1244.3,1676.3 M1279.2,1670.2 L1291.2,1670.1 M1285.1,1664.1 L1285.2,1676.1 M1320.1,1669.8 L1332.1,1669.6 M1326.0,1663.7 L1326.1,1675.7 M1360.9,1669.1 L1372.9,1668.8 M1366.8,1662.9 L1367.1,1674.9 M1401.8,1667.9 L1413.8,1667.6 M1407.6,1661.8 L1408.0,1673.8 M1442.7,1666.5 L1454.7,1666.1 M1448.5,1660.3 L1448.9,1672.3 M1483.5,1664.8 L1495.5,1664.2 M1489.2,1658.5 L1489.8,1670.5 M1524.4,1662.5 L1536.3,1661.6 M1529.9,1656.0 L1530.8,1668.0 M1565.2,1659.6 L1577.2,1659.4 M1571.1,1653.5 L1571.2,1665.5 M1606.4,1661.4 L1617.3,1656.6 M1609.4,1653.5 L1614.3,1664.5 M1636.1,1634.3 L1642.2,1623.9 M1633.9,1626.1 L1644.3,1632.1 M1652.5,1596.5 L1656.8,1585.4 M1649.1,1588.8 L1660.3,1593.1 M1667.3,1557.4 L1674.8,1548.0 M1666.4,1549.0 L1675.7,1556.5 M1702.2,1540.2 L1712.2,1546.8 M1710.5,1538.5 L1703.9,1548.5 M1733.0,1567.8 L1741.6,1576.0 M1741.4,1567.6 L1733.2,1576.2 M1762.4,1596.1 L1771.5,1603.9 M1770.9,1595.5 L1763.0,1604.5 M1794.0,1621.6 L1804.4,1627.6 M1802.2,1619.4 L1796.2,1629.8 M1831.1,1639.4 L1842.6,1642.9 M1838.6,1635.4 L1835.1,1646.9" stroke="#00ff00" stroke-width="3" fill="none"/>
<path d="M340.6,49.5 L340.7,55.7 L340.7,61.9 L340.8,68.1 L340.9,74.2 L341.0,80.4 L341.0,86.6 L341.1,92.9 L341.2,99.1 L341.2,105.5 L341.3,111.9 L341.4,118.9 L341.4,126.1 L341.5,133.3 L341.5,140.7 L341.6,148.0 L341.7,155.4 L341.7,162.7 L341.8,169.9 L341.9,176.9 L342.0,183.8 L342.1,189.8 L342.2,195.6 L342.4,201.3 L342.5,207.0 L342.7,212.6 L342.8,218.1 L343.0,223.8 L343.1,229.5 L343.3,235.3 L343.4,241.3 L343.5,248.2 L343.7,255.3 L343.8,262.5 L343.9,269.8 L344.0,277.1 L344.1,284.5 L344.2,291.8 L344.3,299.1 L344.4,306.2 L344.5,313.1 L344.6,319.2 L344.7,325.1 L344.7,331.0 L344.8,336.8 L344.9,342.5 L344.9,348.2 L345.0,354.0 L345.0,359.9 L345.1,365.8 L345.2,371.9 L345.3,378.8 L345.4,385.9 L345.5,393.2 L345.6,400.5 L345.7,407.9 L345.9,415.3 L346.0,422.6 L346.1,429.8 L346.2,436.9 L346.3,443.8 L346.4,449.8 L346.5,455.6 L346.5,461.3 L346.6,467.0 L346.7,472.6 L346.7,478.1 L346.8,483.8 L346.9,489.5 L346.9,495.3 L347.0,501.3 L347.1,508.2 L347.2,515.3 L347.3,522.5 L347.4,529.8 L347.5,537.2 L347.6,544.5 L347.7,551.8 L347.8,559.1 L347.9,566.2 L348.0,573.1 L348.1,579.2 L348.2,585.1 L348.4,591.0 L348.5,596.8 L348.6,602.5 L348.8,608.2 L348.9,614.0 L349.0,619.9 L349.1,625.8 L349.2,631.9 L349.3,638.8 L349.3,645.8 L349.3,652.9 L349.4,660.1 L349.4,667.4 L349.4,674.7 L349.4,682.0 L349.4,689.3 L349.4,696.6 L349.5,703.8 L349.6,711.0 L349.7,718.3 L349.8,725.6 L349.9,732.9 L350.0,740.2 L350.1,747.5 L350.3,754.6 L350.4,761.8 L350.5,768.7 L350.6,775.6 L350.7,781.6 L350.8,787.5 L350.8,793.3 L350.9,799.0 L351.0,804.7 L351.1,810.4 L351.2,816.0 L351.2,821.7 L351.3,827.4 L351.4,833.1 L351.5,838.9 L351.6,844.7 L351.7,850.5 L351.8,856.3 L351.9,862.1 L352.0,867.9 L352.1,873.8 L352.2,879.8 L352.3,885.8 L352.4,891.9 L352.5,898.8 L352.6,905.8 L352.7,912.9 L352.8,920.1 L352.9,927.4 L353.0,934.7 L353.1,942.0 L353.3,949.3 L353.4,956.6 L353.5,963.8 L353.6,971.0 L353.8,978.3 L353.9,985.6 L354.0,992.9 L354.2,1000.2 L354.3,1007.5 L354.4,1014.6 L354.6,1021.8 L354.7,1028.7 L354.9,1035.6 L355.0,1041.6 L355.2,1047.5 L355.4,1053.3 L355.5,1059.0 L355.7,1064.7 L355.8,1070.4 L356.0,1076.0 L356.1,1081.7 L356.3,1087.4 L356.4,1093.1 L356.5,1098.9 L356.6,1104.7 L356.6,1110.5 L356.7,1116.3 L356.7,1122.1 L356.8,1127.9 L356.8,1133.8 L356.9,1139.8 L357.0,1145.8 L357.1,1151.9 L357.3,1158.8 L357.5,1165.8 L357.7,1172.9 L357.9,1180.1 L358.2,1187.4 L358.4,1194.7 L358.7,1202.0 L358.9,1209.3 L359.1,1216.6 L359.3,1223.8 L359.5,1231.0 L359.6,1238.1 L359.8,1245.2 L359.9,1252.3 L360.1,1259.5 L360.2,1266.6 L360.3,1273.8 L360.4,1281.0 L360.6,1288.3 L360.7,1295.6 L360.8,1303.4 L361.0,1311.3 L361.1,1319.4 L361.2,1327.4 L361.3,1335.5 L361.5,1343.6 L361.6,1351.6 L361.7,1359.5 L361.9,1367.3 L362.0,1375.0 L362.1,1381.9 L362.3,1388.7 L362.4,1395.6 L362.6,1402.3 L362.8,1409.0 L362.9,1415.6 L363.1,1422.1 L363.3,1428.5 L363.4,1434.6 L363.6,1440.6 L363.7,1445.3 L363.9,1449.7 L364.0,1454.0 L364.1,1458.3 L364.2,1462.4 L364.4,1466.5 L364.5,1470.7 L364.7,1474.9 L364.8,1479.3 L365.0,1483.8 L365.2,1489.1 L365.5,1494.5 L365.7,1500.0 L366.0,1505.6 L366.2,1511.2 L366.5,1516.9 L366.8,1522.7 L367.1,1528.4 L367.4,1534.2 L367.7,1540.0 L368.0,1546.2 L368.4,1552.6 L368.7,1559.1 L369.0,1565.6 L369.4,1572.1 L369.7,1578.6 L370.1,1585.0 L370.5,1591.1 L371.0,1597.1 L371.5,1602.7 L371.9,1606.9 L372.4,1611.1 L372.9,1615.1 L373.4,1619.1 L373.9,1622.9 L374.4,1626.7 L375.0,1630.3 L375.5,1633.8 L376.0,1637.2 L376.5,1640.4 L376.8,1642.7 L377.2,1644.9 L377.5,1647.1 L377.8,1649.3 L378.1,1651.3 L378.5,1653.3 L378.8,1655.2 L379.2,1656.9 L379.6,1658.5 L380.0,1660.0 L380.3,1660.8 L380.5,1661.6 L380.8,1662.4 L381.1,1663.2 L381.4,1663.9 L381.7,1664.6 L382.0,1665.1 L382.3,1665.6 L382.7,1665.9 L383.0,1666.0 L383.3,1666.0 L383.7,1665.8 L384.0,1665.6 L384.4,1665.2 L384.8,1664.8 L385.1,1664.3 L385.5,1663.7 L385.8,1663.2 L386.2,1662.6 L386.5,1662.0 L387.0,1661.0 L387.4,1659.8 L387.9,1658.6 L388.3,1657.2 L388.6,1655.7 L389.0,1654.2 L389.4,1652.7 L389.7,1651.1 L390.1,1649.5 L390.5,1648.0 L391.0,1646.1 L391.5,1644.2 L391.9,1642.3 L392.4,1640.3 L392.9,1638.3 L393.4,1636.2 L393.9,1634.1 L394.4,1632.0 L394.8,1629.9 L395.3,1627.8 L395.8,1625.4 L396.4,1623.1 L396.9,1620.7 L397.4,1618.4 L398.0,1615.9 L398.5,1613.5 L399.0,1610.9 L399.5,1608.3 L400.0,1605.6 L400.4,1602.7 L400.9,1598.6 L401.5,1594.3 L401.9,1589.8 L402.3,1585.2 L402.7,1580.4 L403.1,1575.5 L403.5,1570.6 L403.8,1565.6 L404.2,1560.6 L404.5,1555.6 L404.9,1550.1 L405.2,1544.5 L405.5,1538.8 L405.8,1533.0 L406.1,1527.2 L406.3,1521.4 L406.6,1515.5 L406.8,1509.7 L407.1,1503.9 L407.4,1498.1 L407.7,1492.4 L408.0,1486.6 L408.3,1480.9 L408.6,1475.1 L408.9,1469.4 L409.2,1463.6 L409.5,1457.9 L409.8,1452.1 L410.0,1446.4 L410.3,1440.6 L410.5,1434.8 L410.8,1429.0 L411.0,1423.1 L411.2,1417.2 L411.4,1411.3 L411.6,1405.5 L411.8,1399.7 L412.0,1394.1 L412.2,1388.5 L412.4,1383.1 L412.6,1378.6 L412.7,1374.3 L412.9,1370.1 L413.0,1366.0 L413.1,1361.9 L413.3,1357.8 L413.4,1353.6 L413.6,1349.2 L413.7,1344.7 L413.9,1340.0 L414.1,1333.4 L414.4,1326.3 L414.7,1318.9 L415.0,1311.2 L415.3,1303.4 L415.6,1295.7 L415.9,1288.0 L416.2,1280.6 L416.5,1273.5 L416.8,1266.9 L417.0,1262.1 L417.2,1257.6 L417.4,1253.1 L417.6,1248.8 L417.8,1244.6 L418.0,1240.5 L418.2,1236.4 L418.4,1232.2 L418.7,1228.1 L418.9,1223.8 L419.2,1219.5 L419.4,1215.3 L419.7,1211.0 L420.0,1206.8 L420.4,1202.6 L420.7,1198.3 L421.0,1194.0 L421.3,1189.6 L421.5,1185.2 L421.8,1180.6 L422.1,1175.1 L422.3,1169.5 L422.5,1163.7 L422.7,1157.8 L422.9,1151.8 L423.1,1145.9 L423.3,1140.0 L423.5,1134.2 L423.8,1128.6 L424.0,1123.1 L424.2,1118.6 L424.5,1114.3 L424.7,1110.2 L425.0,1106.1 L425.2,1102.1 L425.5,1098.0 L425.7,1093.8 L426.0,1089.5 L426.2,1084.9 L426.5,1080.0 L426.9,1072.4 L427.2,1064.0 L427.6,1055.2 L428.0,1045.9 L428.3,1036.5 L428.7,1027.1 L429.1,1017.8 L429.5,1008.8 L430.0,1000.3 L430.4,992.5 L430.8,987.1 L431.1,981.8 L431.5,976.7 L431.9,971.7 L432.3,966.8 L432.7,962.2 L433.1,957.6 L433.5,953.2 L433.8,949.0 L434.1,945.0 L434.3,942.2 L434.4,939.6 L434.6,937.0 L434.7,934.5 L434.9,932.1 L435.0,929.8 L435.1,927.5 L435.2,925.3 L435.4,923.1 L435.5,921.0 L435.6,919.4 L435.7,917.9 L435.8,916.3 L435.9,914.9 L436.0,913.4 L436.0,912.0 L436.1,910.7 L436.3,909.3 L436.4,908.0 L436.5,906.7 L436.6,905.7 L436.8,904.7 L436.9,903.7 L437.0,902.8 L437.2,901.9 L437.4,901.0 L437.5,900.1 L437.6,899.1 L437.8,898.2 L437.9,897.3 L438.0,896.4 L438.1,895.4 L438.2,894.5 L438.2,893.6 L438.3,892.7 L438.4,891.7 L438.5,890.8 L438.6,889.9 L438.7,888.9 L438.8,888.0 L438.9,887.0 L439.1,886.1 L439.2,885.1 L439.4,884.1 L439.6,883.2 L439.7,882.2 L439.9,881.3 L440.2,880.3 L440.4,879.4 L440.7,878.5 L441.0,877.7 L441.3,876.8 L441.7,876.0 L442.1,875.2 L442.5,874.4 L442.9,873.6 L443.3,872.9 L443.7,872.1 L444.1,871.3 L444.5,870.5 L446.8,877.6 L446.9,878.6 L447.1,879.7 L447.2,880.7 L447.4,881.8 L447.5,882.8 L447.6,883.9 L447.8,884.9 L447.9,886.0 L448.1,887.0 L448.2,888.0 L448.3,889.0 L448.5,889.9 L448.6,890.8 L448.8,891.8 L448.9,892.7 L449.1,893.6 L449.2,894.5 L449.3,895.4 L449.5,896.4 L449.6,897.3 L449.7,898.2 L449.8,899.1 L449.9,900.1 L450.0,901.0 L450.1,901.9 L450.2,902.8 L450.3,903.7 L450.4,904.7 L450.5,905.7 L450.6,906.7 L450.7,908.0 L450.9,909.3 L451.0,910.7 L451.2,912.0 L451.3,913.4 L451.5,914.9 L451.6,916.3 L451.8,917.9 L451.9,919.4 L452.0,921.0 L452.1,923.1 L452.2,925.3 L452.3,927.5 L452.4,929.8 L452.5,932.1 L452.5,934.5 L452.6,937.0 L452.7,939.6 L452.8,942.2 L452.9,945.0 L453.1,949.0 L453.3,953.2 L453.6,957.6 L453.9,962.2 L454.1,966.8 L454.4,971.7 L454.7,976.7 L455.0,981.8 L455.3,987.1 L455.6,992.5 L456.0,1000.3 L456.3,1008.8 L456.7,1017.8 L457.1,1027.1 L457.4,1036.5 L457.8,1045.9 L458.2,1055.2 L458.5,1064.0 L458.9,1072.4 L459.2,1080.0 L459.4,1084.9 L459.6,1089.5 L459.9,1093.8 L460.1,1097.9 L460.3,1102.0 L460.5,1106.0 L460.7,1110.0 L460.9,1114.2 L461.1,1118.5 L461.3,1123.1 L461.5,1128.9 L461.8,1135.0 L462.0,1141.2 L462.2,1147.5 L462.4,1154.0 L462.6,1160.5 L462.9,1167.0 L463.1,1173.5 L463.3,1180.0 L463.5,1186.4 L463.7,1192.7 L463.9,1199.0 L464.1,1205.4 L464.3,1211.7 L464.5,1218.0 L464.8,1224.3 L465.0,1230.6 L465.2,1237.0 L465.4,1243.3 L465.6,1249.6 L465.8,1255.9 L466.0,1262.2 L466.2,1268.5 L466.4,1274.8 L466.7,1281.0 L466.9,1287.3 L467.1,1293.7 L467.3,1300.0 L467.6,1306.4 L467.8,1312.9 L468.1,1319.8 L468.4,1326.8 L468.7,1333.9 L469.0,1341.1 L469.3,1348.2 L469.6,1355.3 L469.9,1362.4 L470.2,1369.4 L470.5,1376.3 L470.7,1383.1 L470.9,1389.1 L471.1,1395.0 L471.2,1400.8 L471.3,1406.5 L471.5,1412.2 L471.6,1417.9 L471.7,1423.5 L471.8,1429.2 L472.0,1434.9 L472.1,1440.6 L472.2,1446.4 L472.4,1452.1 L472.5,1457.9 L472.6,1463.6 L472.8,1469.4 L472.9,1475.1 L473.0,1480.9 L473.2,1486.6 L473.3,1492.4 L473.5,1498.1 L473.7,1503.9 L473.9,1509.7 L474.1,1515.6 L474.3,1521.5 L474.5,1527.4 L474.7,1533.2 L474.9,1539.0 L475.2,1544.6 L475.4,1550.2 L475.7,1555.6 L476.0,1560.2 L476.2,1564.6 L476.5,1569.0 L476.8,1573.4 L477.1,1577.6 L477.5,1581.9 L477.8,1586.1 L478.1,1590.3 L478.3,1594.5 L478.6,1598.8 L478.8,1603.0 L479.1,1607.4 L479.3,1611.7 L479.5,1616.1 L479.7,1620.4 L479.9,1624.7 L480.1,1628.9 L480.3,1632.9 L480.5,1636.8 L480.7,1640.4 L480.8,1643.0 L481.0,1645.7 L481.0,1648.3 L481.1,1650.9 L481.2,1653.3 L481.4,1655.7 L481.5,1657.8 L481.8,1659.8 L482.1,1661.5 L482.5,1663.0 L482.7,1663.6 L483.0,1664.2 L483.3,1664.8 L483.6,1665.3 L483.9,1665.8 L484.2,1666.2 L484.5,1666.6 L484.8,1666.8 L485.0,1667.0 L485.3,1667.0 L485.7,1666.7 L486.0,1666.0 L486.4,1665.0 L486.7,1663.7 L486.9,1662.2 L487.2,1660.5 L487.5,1658.6 L487.7,1656.7 L487.9,1654.8 L488.2,1652.9 L488.7,1649.1 L489.1,1644.6 L489.6,1639.6 L490.0,1634.2 L490.4,1628.7 L490.8,1623.1 L491.1,1617.5 L491.5,1612.2 L491.7,1607.2 L492.0,1602.7 L492.2,1599.9 L492.3,1597.2 L492.4,1594.7 L492.5,1592.4 L492.6,1590.1 L492.6,1587.7 L492.7,1585.3 L492.8,1582.8 L492.9,1580.1 L493.0,1577.2 L493.2,1572.4 L493.4,1567.2 L493.6,1561.8 L493.8,1556.0 L494.0,1550.1 L494.2,1544.1 L494.4,1537.9 L494.7,1531.8 L494.9,1525.7 L495.1,1519.7 L495.3,1513.4 L495.6,1506.9 L495.8,1500.5 L496.0,1493.9 L496.2,1487.4 L496.5,1480.8 L496.7,1474.3 L496.9,1467.8 L497.1,1461.3 L497.3,1455.0 L497.5,1449.1 L497.6,1443.3 L497.8,1437.5 L497.9,1431.8 L498.0,1426.0 L498.2,1420.3 L498.3,1414.6 L498.4,1408.9 L498.6,1403.2 L498.7,1397.5 L498.8,1391.7 L499.0,1385.9 L499.1,1380.0 L499.3,1374.1 L499.4,1368.3 L499.6,1362.5 L499.7,1356.7 L499.9,1351.0 L500.0,1345.4 L500.1,1340.0 L500.2,1335.4 L500.3,1330.9 L500.4,1326.6 L500.4,1322.3 L500.5,1318.1 L500.6,1313.8 L500.7,1309.5 L500.7,1305.1 L500.8,1300.4 L500.9,1295.6 L501.0,1289.1 L501.2,1282.3 L501.3,1275.3 L501.4,1268.1 L501.6,1260.8 L501.7,1253.3 L501.9,1245.9 L502.0,1238.4 L502.2,1231.1 L502.3,1223.8 L502.4,1216.6 L502.6,1209.4 L502.7,1202.2 L502.9,1195.0 L503.0,1187.9 L503.1,1180.7 L503.3,1173.5 L503.4,1166.3 L503.6,1159.1 L503.7,1151.9 L503.8,1144.6 L504.0,1137.2 L504.2,1129.8 L504.3,1122.3 L504.5,1114.9 L504.7,1107.5 L504.8,1100.3 L505.0,1093.3 L505.1,1086.5 L505.2,1080.0 L505.3,1075.2 L505.3,1070.6 L505.4,1066.2 L505.5,1062.0 L505.5,1057.8 L505.6,1053.6 L505.6,1049.4 L505.7,1045.0 L505.7,1040.4 L505.8,1035.6 L505.9,1029.1 L506.0,1022.3 L506.1,1015.3 L506.2,1008.1 L506.3,1000.8 L506.4,993.3 L506.6,985.9 L506.7,978.4 L506.8,971.1 L506.9,963.8 L507.0,956.6 L507.1,949.4 L507.2,942.2 L507.3,935.0 L507.4,927.9 L507.5,920.7 L507.6,913.5 L507.7,906.3 L507.8,899.1 L507.9,891.9 L508.0,884.6 L508.2,877.2 L508.3,869.8 L508.4,862.3 L508.6,854.9 L508.7,847.5 L508.9,840.3 L509.0,833.3 L509.2,826.5 L509.3,820.0 L509.4,815.2 L509.5,810.6 L509.6,806.2 L509.7,802.0 L509.9,797.8 L510.0,793.6 L510.1,789.4 L510.2,785.0 L510.3,780.4 L510.4,775.6 L510.5,769.1 L510.6,762.3 L510.8,755.3 L510.9,748.1 L511.0,740.8 L511.1,733.3 L511.2,725.9 L511.3,718.4 L511.4,711.1 L511.5,703.8 L511.6,696.6 L511.7,689.4 L511.9,682.2 L512.0,675.0 L512.1,667.9 L512.2,660.7 L512.4,653.5 L512.5,646.3 L512.6,639.1 L512.7,631.9 L512.8,624.6 L512.9,617.2 L513.0,609.8 L513.1,602.3 L513.2,594.9 L513.3,587.5 L513.4,580.3 L513.5,573.3 L513.6,566.5 L513.7,560.0 L513.8,555.2 L513.8,550.6 L513.9,546.2 L514.0,542.0 L514.0,537.8 L514.1,533.6 L514.2,529.4 L514.3,525.0 L514.3,520.4 L514.4,515.6 L514.5,509.1 L514.6,502.3 L514.7,495.3 L514.8,488.1 L514.9,480.8 L515.1,473.3 L515.2,465.9 L515.3,458.4 L515.4,451.1 L515.5,443.8 L515.6,436.6 L515.7,429.4 L515.8,422.2 L515.9,415.0 L516.0,407.9 L516.1,400.7 L516.2,393.5 L516.3,386.3 L516.4,379.1 L516.5,371.9 L516.6,364.6 L516.7,357.2 L516.8,349.8 L516.9,342.3 L517.0,334.9 L517.2,327.5 L517.3,320.3 L517.4,313.3 L517.5,306.5 L517.6,300.0 L517.7,295.2 L517.8,290.6 L517.8,286.2 L517.9,282.0 L518.0,277.8 L518.1,273.6 L518.2,269.4 L518.2,265.0 L518.3,260.4 L518.4,255.6 L518.5,249.1 L518.6,242.2 L518.7,235.1 L518.8,227.7 L518.9,220.3 L519.0,212.8 L519.1,205.3 L519.2,197.9 L519.3,190.7 L519.4,183.8 L519.5,177.8 L519.6,172.0 L519.6,166.2 L519.7,160.5 L519.8,154.9 L519.8,149.3 L519.9,143.6 L520.0,138.0 L520.0,132.2 L520.1,126.3 L520.2,119.6 L520.3,112.4 L520.4,105.0 L520.5,97.4 L520.5,89.9 L520.6,82.6 L520.7,75.8 L520.8,69.7 L520.9,64.3 L520.9,60.0 L520.9,58.6 L520.9,57.3 L520.9,56.2 L520.9,55.1 L521.0,54.2 L521.0,53.3 L521.0,52.4 L521.0,51.5 L521.0,50.5 L521.0,49.5 L579.1,49.5 L579.8,54.4 L579.9,60.1 L580.1,65.8 L580.2,71.4 L580.4,77.1 L580.5,82.7 L580.6,88.4 L580.8,94.2 L580.9,100.0 L581.1,105.9 L581.2,111.9 L581.4,118.8 L581.5,125.8 L581.6,132.9 L581.8,140.1 L581.9,147.4 L582.1,154.7 L582.2,162.0 L582.4,169.3 L582.5,176.6 L582.7,183.8 L582.9,191.1 L583.1,198.4 L583.3,205.9 L583.5,213.3 L583.8,220.8 L584.0,228.1 L584.2,235.3 L584.4,242.3 L584.6,249.1 L584.8,255.6 L584.9,260.4 L585.1,265.0 L585.2,269.4 L585.3,273.6 L585.4,277.8 L585.6,282.0 L585.7,286.2 L585.8,290.6 L585.9,295.2 L586.0,300.0 L586.1,306.5 L586.2,313.3 L586.3,320.3 L586.4,327.5 L586.5,334.9 L586.6,342.3 L586.7,349.8 L586.8,357.2 L586.9,364.6 L587.0,371.9 L587.1,379.1 L587.3,386.3 L587.4,393.5 L587.5,400.7 L587.7,407.9 L587.8,415.0 L588.0,422.2 L588.1,429.4 L588.3,436.6 L588.4,443.8 L588.5,451.1 L588.7,458.4 L588.8,465.9 L589.0,473.3 L589.1,480.8 L589.3,488.1 L589.4,495.3 L589.6,502.3 L589.7,509.1 L589.9,515.6 L590.0,520.4 L590.2,525.0 L590.3,529.4 L590.5,533.6 L590.6,537.8 L590.7,542.0 L590.9,546.2 L591.0,550.6 L591.2,555.2 L591.3,560.0 L591.5,566.5 L591.6,573.3 L591.7,580.3 L591.9,587.5 L592.0,594.9 L592.2,602.3 L592.3,609.8 L592.4,617.2 L592.6,624.6 L592.7,631.9 L592.8,639.1 L593.0,646.3 L593.1,653.5 L593.3,660.7 L593.4,667.9 L593.6,675.0 L593.7,682.2 L593.9,689.4 L594.0,696.6 L594.2,703.8 L594.4,711.1 L594.6,718.4 L594.7,725.9 L594.9,733.3 L595.1,740.8 L595.3,748.1 L595.5,755.3 L595.7,762.3 L595.8,769.1 L596.0,775.6 L596.1,780.4 L596.2,785.0 L596.3,789.4 L596.4,793.6 L596.5,797.8 L596.6,802.0 L596.7,806.2 L596.8,810.6 L596.9,815.2 L597.0,820.0 L597.1,826.5 L597.3,833.3 L597.4,840.3 L597.6,847.5 L597.7,854.9 L597.9,862.3 L598.0,869.8 L598.2,877.2 L598.4,884.6 L598.5,891.9 L598.6,899.1 L598.8,906.3 L598.9,913.5 L599.0,920.7 L599.2,927.9 L599.3,935.0 L599.4,942.2 L599.6,949.4 L599.7,956.6 L599.9,963.8 L600.1,971.1 L600.3,978.4 L600.5,985.9 L600.7,993.3 L600.9,1000.8 L601.1,1008.1 L601.4,1015.3 L601.6,1022.3 L601.9,1029.1 L602.1,1035.6 L602.3,1040.4 L602.5,1045.0 L602.7,1049.4 L603.0,1053.6 L603.2,1057.8 L603.4,1062.0 L603.6,1066.2 L603.8,1070.6 L604.0,1075.2 L604.2,1080.0 L604.4,1086.5 L604.6,1093.3 L604.7,1100.3 L604.9,1107.5 L605.0,1114.9 L605.1,1122.3 L605.2,1129.8 L605.4,1137.2 L605.5,1144.6 L605.7,1151.9 L605.9,1159.1 L606.1,1166.3 L606.3,1173.5 L606.5,1180.7 L606.7,1187.9 L606.9,1195.0 L607.1,1202.2 L607.4,1209.4 L607.6,1216.6 L607.8,1223.8 L608.0,1231.0 L608.2,1238.1 L608.4,1245.3 L608.6,1252.4 L608.8,1259.5 L609.0,1266.7 L609.2,1273.9 L609.5,1281.1 L609.7,1288.3 L610.0,1295.6 L610.3,1303.3 L610.7,1311.0 L611.0,1318.8 L611.4,1326.7 L611.8,1334.6 L612.2,1342.4 L612.6,1350.2 L613.0,1357.9 L613.4,1365.5 L613.8,1372.9 L614.1,1379.4 L614.4,1385.9 L614.8,1392.2 L615.1,1398.5 L615.4,1404.7 L615.7,1410.8 L616.0,1417.0 L616.3,1423.2 L616.6,1429.4 L616.9,1435.7 L617.2,1442.1 L617.5,1448.6 L617.8,1455.0 L618.1,1461.5 L618.4,1468.0 L618.7,1474.5 L619.0,1480.9 L619.3,1487.3 L619.7,1493.7 L620.1,1500.0 L620.5,1506.0 L621.0,1512.0 L621.5,1517.9 L622.0,1523.9 L622.5,1529.8 L623.0,1535.6 L623.5,1541.4 L624.1,1547.2 L624.6,1552.8 L625.2,1558.4 L625.7,1563.4 L626.2,1568.4 L626.8,1573.5 L627.3,1578.5 L627.9,1583.4 L628.4,1588.2 L628.9,1592.8 L629.5,1597.3 L630.0,1601.5 L630.5,1605.4 L630.8,1607.8 L631.1,1610.2 L631.4,1612.4 L631.7,1614.5 L632.0,1616.6 L632.2,1618.6 L632.5,1620.5 L632.9,1622.5 L633.2,1624.4 L633.6,1626.3 L634.0,1628.0 L634.3,1629.7 L634.7,1631.3 L635.0,1632.9 L635.4,1634.5 L635.8,1636.1 L636.3,1637.6 L636.7,1639.1 L637.3,1640.6 L637.8,1642.0 L638.3,1643.2 L638.8,1644.5 L639.4,1645.7 L640.0,1646.9 L640.6,1648.1 L641.2,1649.2 L641.9,1650.3 L642.5,1651.3 L643.3,1652.2 L644.0,1653.0 L644.6,1653.6 L645.3,1654.2 L646.0,1654.7 L646.6,1655.2 L647.4,1655.6 L648.1,1656.0 L648.8,1656.3 L649.5,1656.6 L650.3,1656.8 L651.0,1657.0 L651.7,1657.1 L652.4,1657.2 L653.1,1657.2 L653.8,1657.1 L654.5,1657.0 L655.2,1656.9 L655.9,1656.7 L656.6,1656.5 L657.3,1656.3 L658.0,1656.0 L658.8,1655.6 L659.7,1655.1 L660.5,1654.5 L661.4,1653.8 L662.2,1653.1 L663.0,1652.4 L663.8,1651.6 L664.6,1650.9 L665.3,1650.1 L666.0,1649.3 L666.6,1648.6 L667.2,1647.8 L667.8,1647.1 L668.3,1646.4 L668.8,1645.6 L669.3,1644.8 L669.8,1644.0 L670.3,1643.0 L670.7,1642.1 L671.2,1641.0 L671.9,1639.0 L672.6,1636.8 L673.2,1634.3 L673.8,1631.7 L674.3,1628.9 L674.8,1626.1 L675.4,1623.3 L675.9,1620.4 L676.4,1617.7 L677.0,1615.0 L677.6,1612.4 L678.2,1609.9 L678.7,1607.3 L679.3,1604.7 L679.9,1602.1 L680.5,1599.5 L681.0,1597.0 L681.6,1594.6 L682.2,1592.1 L682.7,1589.8 L683.1,1587.9 L683.6,1586.2 L684.0,1584.5 L684.4,1582.8 L684.8,1581.2 L685.2,1579.5 L685.7,1577.8 L686.1,1576.0 L686.5,1574.1 L686.9,1572.0 L687.5,1568.7 L688.2,1565.1 L688.8,1561.2 L689.4,1557.2 L690.0,1553.0 L690.7,1548.8 L691.3,1544.6 L691.9,1540.4 L692.6,1536.3 L693.2,1532.3 L693.8,1528.6 L694.5,1524.8 L695.1,1521.1 L695.7,1517.4 L696.4,1513.8 L697.0,1510.1 L697.6,1506.5 L698.2,1502.9 L698.8,1499.3 L699.4,1495.7 L699.9,1492.4 L700.4,1489.1 L700.9,1485.8 L701.3,1482.5 L701.8,1479.2 L702.2,1476.0 L702.7,1472.8 L703.1,1469.6 L703.6,1466.4 L704.1,1463.3 L704.6,1460.5 L705.1,1457.7 L705.6,1454.9 L706.1,1452.2 L706.6,1449.5 L707.1,1446.8 L707.6,1444.0 L708.1,1441.3 L708.7,1438.5 L709.2,1435.7 L709.8,1432.6 L710.4,1429.3 L710.9,1425.9 L711.5,1422.4 L712.1,1419.0 L712.7,1415.7 L713.4,1412.5 L714.0,1409.5 L714.7,1406.7 L715.4,1404.3 L715.8,1403.0 L716.2,1401.7 L716.7,1400.5 L717.1,1399.3 L717.5,1398.2 L718.0,1397.2 L718.4,1396.3 L718.9,1395.4 L719.4,1394.7 L720.0,1394.0 L720.4,1393.6 L720.8,1393.2 L721.2,1392.9 L721.6,1392.5 L722.0,1392.3 L722.4,1392.0 L722.9,1391.9 L723.3,1391.7 L723.8,1391.7 L724.2,1391.7 L724.8,1391.9 L725.5,1392.2 L726.1,1392.6 L726.8,1393.2 L727.5,1393.8 L728.1,1394.6 L728.8,1395.4 L729.4,1396.2 L730.0,1397.1 L730.5,1398.0 L731.2,1399.4 L731.9,1401.0 L732.5,1402.7 L733.0,1404.6 L733.5,1406.5 L733.9,1408.5 L734.4,1410.6 L734.8,1412.7 L735.1,1414.7 L735.5,1416.8 L735.9,1419.1 L736.2,1421.5 L736.5,1424.0 L736.7,1426.4 L736.9,1428.9 L737.1,1431.5 L737.3,1434.0 L737.5,1436.6 L737.7,1439.3 L738.0,1441.9 L738.3,1444.9 L738.7,1448.1 L739.1,1451.2 L739.4,1454.5 L739.8,1457.7 L740.2,1461.0 L740.6,1464.2 L741.0,1467.3 L741.4,1470.4 L741.8,1473.3 L742.1,1475.6 L742.4,1477.9 L742.7,1480.1 L743.0,1482.2 L743.3,1484.3 L743.6,1486.4 L744.0,1488.5 L744.3,1490.6 L744.6,1492.8 L745.0,1495.0 L745.4,1497.4 L745.9,1499.8 L746.3,1502.2 L746.8,1504.5 L747.3,1507.0 L747.7,1509.4 L748.2,1511.9 L748.7,1514.5 L749.2,1517.2 L749.6,1520.0 L750.2,1523.9 L750.7,1528.0 L751.2,1532.2 L751.7,1536.6 L752.2,1541.1 L752.8,1545.6 L753.3,1550.2 L753.8,1554.7 L754.3,1559.2 L754.8,1563.6 L755.3,1567.8 L755.8,1572.1 L756.3,1576.4 L756.8,1580.7 L757.3,1584.9 L757.8,1589.2 L758.4,1593.3 L758.9,1597.4 L759.5,1601.5 L760.1,1605.4 L760.7,1608.8 L761.2,1612.1 L761.8,1615.4 L762.4,1618.7 L763.1,1621.9 L763.7,1625.1 L764.3,1628.1 L765.0,1631.1 L765.6,1634.0 L766.3,1636.8 L766.8,1639.0 L767.3,1641.2 L767.8,1643.4 L768.3,1645.5 L768.8,1647.6 L769.3,1649.6 L769.8,1651.4 L770.4,1653.0 L771.0,1654.4 L771.6,1655.6 L771.9,1656.1 L772.2,1656.5 L772.5,1656.9 L772.8,1657.3 L773.2,1657.6 L773.5,1657.9 L773.8,1658.2 L774.2,1658.3 L774.6,1658.5 L775.0,1658.5 L775.7,1658.4 L776.4,1658.1 L777.2,1657.7 L778.1,1657.1 L778.9,1656.4 L779.8,1655.6 L780.7,1654.8 L781.5,1654.0 L782.3,1653.2 L783.1,1652.5 L783.9,1651.7 L784.6,1650.9 L785.3,1650.0 L786.0,1649.1 L786.7,1648.2 L787.4,1647.3 L788.0,1646.4 L788.7,1645.5 L789.3,1644.7 L790.0,1644.0 L790.5,1643.5 L791.0,1642.9 L791.5,1642.4 L792.0,1641.9 L792.5,1641.4 L793.0,1641.0 L793.5,1640.6 L794.0,1640.2 L794.5,1639.9 L795.0,1639.7 L795.5,1639.6 L795.9,1639.5 L796.4,1639.4 L796.9,1639.4 L797.4,1639.5 L797.9,1639.5 L798.4,1639.6 L798.9,1639.7 L799.5,1639.8 L800.0,1640.0 L800.8,1640.3 L801.6,1640.6 L802.5,1641.0 L803.4,1641.5 L804.3,1642.0 L805.2,1642.5 L806.1,1643.1 L807.0,1643.7 L807.9,1644.3 L808.8,1644.9 L809.7,1645.6 L810.7,1646.3 L811.6,1647.1 L812.5,1647.9 L813.4,1648.8 L814.3,1649.6 L815.2,1650.5 L816.1,1651.3 L817.0,1652.2 L818.0,1653.0 L819.1,1653.9 L820.2,1654.9 L821.3,1655.8 L822.4,1656.8 L823.5,1657.8 L824.7,1658.8 L825.8,1659.7 L827.0,1660.6 L828.3,1661.4 L829.5,1662.2 L830.8,1662.9 L832.1,1663.6 L833.5,1664.3 L834.9,1665.0 L836.3,1665.6 L837.7,1666.1 L839.1,1666.7 L840.5,1667.1 L841.9,1667.5 L843.3,1667.9 L844.5,1668.2 L845.6,1668.4 L846.6,1668.5 L847.7,1668.7 L848.7,1668.8 L849.8,1668.8 L850.9,1668.9 L852.2,1668.9 L853.5,1669.0 L855.0,1669.0 L858.2,1669.0 L861.8,1668.9 L865.8,1668.8 L870.0,1668.5 L874.6,1668.3 L879.3,1668.0 L884.3,1667.7 L889.4,1667.4 L894.6,1667.2 L900.0,1667.0 L908.4,1666.8 L917.5,1666.6 L927.1,1666.5 L937.2,1666.4 L947.5,1666.4 L958.1,1666.3 L968.8,1666.2 L979.4,1666.2 L989.8,1666.1 L1000.0,1666.0 L1010.0,1665.9 L1020.0,1665.8 L1030.0,1665.7 L1040.0,1665.6 L1050.0,1665.5 L1060.0,1665.4 L1070.0,1665.3 L1080.0,1665.2 L1090.0,1665.1 L1100.0,1665.0 L1110.1,1664.9 L1120.2,1664.8 L1130.4,1664.7 L1140.5,1664.7 L1150.7,1664.6 L1160.8,1664.5 L1170.8,1664.4 L1180.7,1664.3 L1190.5,1664.1 L1200.0,1664.0 L1208.4,1663.8 L1216.7,1663.6 L1225.0,1663.4 L1233.1,1663.1 L1241.2,1662.9 L1249.1,1662.6 L1257.0,1662.4 L1264.8,1662.2 L1272.4,1662.1 L1280.0,1662.1 L1286.6,1662.2 L1293.1,1662.3 L1299.5,1662.5 L1305.8,1662.7 L1312.0,1663.0 L1318.2,1663.2 L1324.3,1663.5 L1330.5,1663.6 L1336.6,1663.7 L1342.7,1663.7 L1348.5,1663.6 L1354.2,1663.5 L1359.8,1663.2 L1365.4,1663.0 L1371.0,1662.7 L1376.6,1662.4 L1382.3,1662.1 L1388.1,1661.7 L1394.0,1661.4 L1400.0,1661.0 L1407.2,1660.6 L1414.6,1660.1 L1422.2,1659.6 L1430.0,1659.0 L1437.8,1658.5 L1445.6,1657.9 L1453.4,1657.4 L1461.1,1656.8 L1468.6,1656.4 L1476.0,1655.9 L1482.6,1655.5 L1489.1,1655.0 L1495.7,1654.6 L1502.1,1654.1 L1508.5,1653.7 L1514.8,1653.3 L1521.0,1653.0 L1527.1,1652.8 L1533.0,1652.7 L1538.7,1652.7 L1543.2,1652.8 L1547.7,1653.0 L1552.1,1653.3 L1556.4,1653.6 L1560.6,1654.0 L1564.7,1654.4 L1568.7,1654.8 L1572.6,1655.2 L1576.4,1655.6 L1580.0,1655.9 L1582.6,1656.1 L1585.2,1656.3 L1587.7,1656.5 L1590.1,1656.7 L1592.4,1656.9 L1594.7,1657.1 L1597.0,1657.3 L1599.2,1657.5 L1601.3,1657.8 L1603.5,1658.1 L1605.2,1658.4 L1606.9,1658.7 L1608.4,1659.1 L1610.0,1659.5 L1611.5,1659.8 L1613.0,1660.2 L1614.6,1660.6 L1616.3,1660.9 L1618.2,1661.2 L1620.2,1661.4 L1624.1,1661.6 L1628.5,1661.7 L1633.3,1661.7 L1638.3,1661.5 L1643.6,1661.3 L1649.0,1661.1 L1654.5,1660.9 L1659.9,1660.7 L1665.3,1660.6 L1670.4,1660.6 L1675.4,1660.7 L1680.3,1660.9 L1685.2,1661.2 L1690.1,1661.5 L1695.0,1661.8 L1700.0,1662.2 L1705.0,1662.5 L1710.1,1662.7 L1715.3,1663.0 L1720.6,1663.1 L1727.0,1663.2 L1733.7,1663.4 L1740.7,1663.5 L1747.8,1663.5 L1754.9,1663.6 L1762.0,1663.5 L1768.9,1663.4 L1775.5,1663.2 L1781.7,1662.8 L1787.5,1662.3 L1791.3,1661.8 L1795.0,1661.2 L1798.4,1660.6 L1801.7,1659.8 L1805.0,1659.1 L1808.2,1658.3 L1811.3,1657.5 L1814.4,1656.8 L1817.6,1656.2 L1820.9,1655.6 L1824.1,1655.2 L1827.4,1654.9 L1830.7,1654.6 L1834.0,1654.4 L1837.3,1654.2 L1840.5,1654.0 L1843.7,1653.7 L1846.8,1653.3 L1849.8,1652.8 L1852.7,1652.2 L1855.1,1651.5 L1857.4,1650.7 L1859.6,1649.9 L1861.8,1648.9 L1863.9,1648.0 L1866.0,1647.0 L1868.1,1645.9 L1870.2,1644.9 L1872.3,1643.9 L1874.5,1643.0" stroke="#1281ff" stroke-width="2.5" stroke-linecap="round" stroke-linejoin="round" fill="none"/>
<rect x="-5.4" y="-4.5" width="10.8" height="9" transform="translate(341.0,82.4) rotate(89)" stroke="#1281ff" stroke-width="2.3" fill="none"/>
<rect x="-5.4" y="-4.5" width="10.8" height="9" transform="translate(341.6,145.7) rotate(90)" stroke="#1281ff" stroke-width="2.3" fill="none"/>
<rect x="-5.4" y="-4.5" width="10.8" height="9" transform="translate(342.6,208.2) rotate(88)" stroke="#1281ff" stroke-width="2.3" fill="none"/>
<rect x="-5.4" y="-4.5" width="10.8" height="9" transform="translate(343.9,271.5) rotate(89)" stroke="#1281ff" stroke-width="2.3" fill="none"/>
<rect x="-5.4" y="-4.5" width="10.8" height="9" transform="translate(344.8,335.2) rotate(89)" stroke="#1281ff" stroke-width="2.3" fill="none"/>
<rect x="-5.4" y="-4.5" width="10.8" height="9" transform="translate(345.6,398.5) rotate(89)" stroke="#1281ff" stroke-width="2.3" fill="none"/>
<rect x="-5.4" y="-4.5" width="10.8" height="9" transform="translate(346.5,461.7) rotate(89)" stroke="#1281ff" stroke-width="2.3" fill="none"/>
<rect x="-5.4" y="-4.5" width="10.8" height="9" transform="translate(347.3,525.0) rotate(89)" stroke="#1281ff" stroke-width="2.3" fill="none"/>
<rect x="-5.4" y="-4.5" width="10.8" height="9" transform="translate(348.3,588.8) rotate(89)" stroke="#1281ff" stroke-width="2.3" fill="none"/>
<rect x="-5.4" y="-4.5" width="10.8" height="9" transform="translate(349.3,652.0) rotate(90)" stroke="#1281ff" stroke-width="2.3" fill="none"/>
<rect x="-5.4" y="-4.5" width="10.8" height="9" transform="translate(349.6,715.3) rotate(89)" stroke="#1281ff" stroke-width="2.3" fill="none"/>
<rect x="-5.4" y="-4.5" width="10.8" height="9" transform="translate(350.6,778.5) rotate(89)" stroke="#1281ff" stroke-width="2.3" fill="none"/>
<rect x="-5.4" y="-4.5" width="10.8" height="9" transform="translate(351.5,841.5) rotate(89)" stroke="#1281ff" stroke-width="2.3" fill="none"/>
<rect x="-5.4" y="-4.5" width="10.8" height="9" transform="translate(352.6,905.4) rotate(89)" stroke="#1281ff" stroke-width="2.3" fill="none"/>
<rect x="-5.4" y="-4.5" width="10.8" height="9" transform="translate(353.6,968.6) rotate(89)" stroke="#1281ff" stroke-width="2.3" fill="none"/>
<rect x="-5.4" y="-4.5" width="10.8" height="9" transform="translate(354.8,1031.8) rotate(89)" stroke="#1281ff" stroke-width="2.3" fill="none"/>
<rect x="-5.4" y="-4.5" width="10.8" height="9" transform="translate(356.4,1095.1) rotate(89)" stroke="#1281ff" stroke-width="2.3" fill="none"/>
<rect x="-5.4" y="-4.5" width="10.8" height="9" transform="translate(357.3,1158.3) rotate(89)" stroke="#1281ff" stroke-width="2.3" fill="none"/>
<rect x="-5.4" y="-4.5" width="10.8" height="9" transform="translate(359.2,1221.6) rotate(88)" stroke="#1281ff" stroke-width="2.3" fill="none"/>
<rect x="-5.4" y="-4.5" width="10.8" height="9" transform="translate(360.5,1284.9) rotate(89)" stroke="#1281ff" stroke-width="2.3" fill="none"/>
<rect x="-5.4" y="-4.5" width="10.8" height="9" transform="translate(361.5,1348.4) rotate(89)" stroke="#1281ff" stroke-width="2.3" fill="none"/>
<rect x="-5.4" y="-4.5" width="10.8" height="9" transform="translate(362.8,1411.9) rotate(89)" stroke="#1281ff" stroke-width="2.3" fill="none"/>
<rect x="-5.4" y="-4.5" width="10.8" height="9" transform="translate(364.7,1475.1) rotate(88)" stroke="#1281ff" stroke-width="2.3" fill="none"/>
<rect x="-5.4" y="-4.5" width="10.8" height="9" transform="translate(367.6,1538.4) rotate(87)" stroke="#1281ff" stroke-width="2.3" fill="none"/>
<rect x="-5.4" y="-4.5" width="10.8" height="9" transform="translate(371.4,1601.5) rotate(85)" stroke="#1281ff" stroke-width="2.3" fill="none"/>
<rect x="-5.4" y="-4.5" width="10.8" height="9" transform="translate(379.6,1658.7) rotate(73)" stroke="#1281ff" stroke-width="2.3" fill="none"/>
<rect x="-5.4" y="-4.5" width="10.8" height="9" transform="translate(397.2,1619.3) rotate(-77)" stroke="#1281ff" stroke-width="2.3" fill="none"/>
<rect x="-5.4" y="-4.5" width="10.8" height="9" transform="translate(404.1,1562.1) rotate(-86)" stroke="#1281ff" stroke-width="2.3" fill="none"/>
<rect x="-5.4" y="-4.5" width="10.8" height="9" transform="translate(407.4,1498.9) rotate(-87)" stroke="#1281ff" stroke-width="2.3" fill="none"/>
<rect x="-5.4" y="-4.5" width="10.8" height="9" transform="translate(410.5,1435.6) rotate(-88)" stroke="#1281ff" stroke-width="2.3" fill="none"/>
<rect x="-5.4" y="-4.5" width="10.8" height="9" transform="translate(412.8,1372.3) rotate(-88)" stroke="#1281ff" stroke-width="2.3" fill="none"/>
<rect x="-5.4" y="-4.5" width="10.8" height="9" transform="translate(415.1,1308.6) rotate(-88)" stroke="#1281ff" stroke-width="2.3" fill="none"/>
<rect x="-5.4" y="-4.5" width="10.8" height="9" transform="translate(417.8,1245.3) rotate(-87)" stroke="#1281ff" stroke-width="2.3" fill="none"/>
<rect x="-5.4" y="-4.5" width="10.8" height="9" transform="translate(421.7,1182.1) rotate(-87)" stroke="#1281ff" stroke-width="2.3" fill="none"/>
<rect x="-5.4" y="-4.5" width="10.8" height="9" transform="translate(424.2,1118.8) rotate(-87)" stroke="#1281ff" stroke-width="2.3" fill="none"/>
<rect x="-5.4" y="-4.5" width="10.8" height="9" transform="translate(427.6,1055.8) rotate(-88)" stroke="#1281ff" stroke-width="2.3" fill="none"/>
<rect x="-5.4" y="-4.5" width="10.8" height="9" transform="translate(430.4,992.5) rotate(-86)" stroke="#1281ff" stroke-width="2.3" fill="none"/>
<rect x="-5.4" y="-4.5" width="10.8" height="9" transform="translate(435.0,929.3) rotate(-87)" stroke="#1281ff" stroke-width="2.3" fill="none"/>
<rect x="-5.4" y="-4.5" width="10.8" height="9" transform="translate(444.5,870.5) rotate(72)" stroke="#1281ff" stroke-width="2.3" fill="none"/>
<rect x="-5.4" y="-4.5" width="10.8" height="9" transform="translate(452.5,933.6) rotate(88)" stroke="#1281ff" stroke-width="2.3" fill="none"/>
<rect x="-5.4" y="-4.5" width="10.8" height="9" transform="translate(455.8,996.8) rotate(87)" stroke="#1281ff" stroke-width="2.3" fill="none"/>
<rect x="-5.4" y="-4.5" width="10.8" height="9" transform="translate(458.4,1060.1) rotate(88)" stroke="#1281ff" stroke-width="2.3" fill="none"/>
<rect x="-5.4" y="-4.5" width="10.8" height="9" transform="translate(461.3,1123.1) rotate(88)" stroke="#1281ff" stroke-width="2.3" fill="none"/>
<rect x="-5.4" y="-4.5" width="10.8" height="9" transform="translate(463.5,1186.4) rotate(88)" stroke="#1281ff" stroke-width="2.3" fill="none"/>
<rect x="-5.4" y="-4.5" width="10.8" height="9" transform="translate(465.6,1249.6) rotate(88)" stroke="#1281ff" stroke-width="2.3" fill="none"/>
<rect x="-5.4" y="-4.5" width="10.8" height="9" transform="translate(467.8,1312.9) rotate(88)" stroke="#1281ff" stroke-width="2.3" fill="none"/>
<rect x="-5.4" y="-4.5" width="10.8" height="9" transform="translate(470.4,1375.9) rotate(88)" stroke="#1281ff" stroke-width="2.3" fill="none"/>
<rect x="-5.4" y="-4.5" width="10.8" height="9" transform="translate(472.1,1439.2) rotate(89)" stroke="#1281ff" stroke-width="2.3" fill="none"/>
<rect x="-5.4" y="-4.5" width="10.8" height="9" transform="translate(473.6,1502.4) rotate(88)" stroke="#1281ff" stroke-width="2.3" fill="none"/>
<rect x="-5.4" y="-4.5" width="10.8" height="9" transform="translate(476.3,1565.8) rotate(86)" stroke="#1281ff" stroke-width="2.3" fill="none"/>
<rect x="-5.4" y="-4.5" width="10.8" height="9" transform="translate(480.0,1627.6) rotate(87)" stroke="#1281ff" stroke-width="2.3" fill="none"/>
<rect x="-5.4" y="-4.5" width="10.8" height="9" transform="translate(489.0,1646.2) rotate(-84)" stroke="#1281ff" stroke-width="2.3" fill="none"/>
<rect x="-5.4" y="-4.5" width="10.8" height="9" transform="translate(492.8,1584.4) rotate(-88)" stroke="#1281ff" stroke-width="2.3" fill="none"/>
<rect x="-5.4" y="-4.5" width="10.8" height="9" transform="translate(495.1,1520.4) rotate(-88)" stroke="#1281ff" stroke-width="2.3" fill="none"/>
<rect x="-5.4" y="-4.5" width="10.8" height="9" transform="translate(497.3,1456.4) rotate(-88)" stroke="#1281ff" stroke-width="2.3" fill="none"/>
<rect x="-5.4" y="-4.5" width="10.8" height="9" transform="translate(498.8,1392.5) rotate(-89)" stroke="#1281ff" stroke-width="2.3" fill="none"/>
<rect x="-5.4" y="-4.5" width="10.8" height="9" transform="translate(500.3,1330.1) rotate(-89)" stroke="#1281ff" stroke-width="2.3" fill="none"/>
<rect x="-5.4" y="-4.5" width="10.8" height="9" transform="translate(501.5,1266.9) rotate(-89)" stroke="#1281ff" stroke-width="2.3" fill="none"/>
<rect x="-5.4" y="-4.5" width="10.8" height="9" transform="translate(502.7,1203.6) rotate(-89)" stroke="#1281ff" stroke-width="2.3" fill="none"/>
<rect x="-5.4" y="-4.5" width="10.8" height="9" transform="translate(503.9,1140.4) rotate(-89)" stroke="#1281ff" stroke-width="2.3" fill="none"/>
<rect x="-5.4" y="-4.5" width="10.8" height="9" transform="translate(505.2,1081.4) rotate(-89)" stroke="#1281ff" stroke-width="2.3" fill="none"/>
<rect x="-5.4" y="-4.5" width="10.8" height="9" transform="translate(506.1,1017.0) rotate(-89)" stroke="#1281ff" stroke-width="2.3" fill="none"/>
<rect x="-5.4" y="-4.5" width="10.8" height="9" transform="translate(507.1,952.6) rotate(-89)" stroke="#1281ff" stroke-width="2.3" fill="none"/>
<rect x="-5.4" y="-4.5" width="10.8" height="9" transform="translate(508.0,888.2) rotate(-89)" stroke="#1281ff" stroke-width="2.3" fill="none"/>
<rect x="-5.4" y="-4.5" width="10.8" height="9" transform="translate(509.2,823.8) rotate(-89)" stroke="#1281ff" stroke-width="2.3" fill="none"/>
<rect x="-5.4" y="-4.5" width="10.8" height="9" transform="translate(510.7,760.5) rotate(-89)" stroke="#1281ff" stroke-width="2.3" fill="none"/>
<rect x="-5.4" y="-4.5" width="10.8" height="9" transform="translate(511.6,696.6) rotate(-89)" stroke="#1281ff" stroke-width="2.3" fill="none"/>
<rect x="-5.4" y="-4.5" width="10.8" height="9" transform="translate(512.7,633.3) rotate(-89)" stroke="#1281ff" stroke-width="2.3" fill="none"/>
<rect x="-5.4" y="-4.5" width="10.8" height="9" transform="translate(513.5,570.8) rotate(-89)" stroke="#1281ff" stroke-width="2.3" fill="none"/>
<rect x="-5.4" y="-4.5" width="10.8" height="9" transform="translate(514.5,507.0) rotate(-89)" stroke="#1281ff" stroke-width="2.3" fill="none"/>
<rect x="-5.4" y="-4.5" width="10.8" height="9" transform="translate(515.5,443.8) rotate(-89)" stroke="#1281ff" stroke-width="2.3" fill="none"/>
<rect x="-5.4" y="-4.5" width="10.8" height="9" transform="translate(516.4,380.5) rotate(-89)" stroke="#1281ff" stroke-width="2.3" fill="none"/>
<rect x="-5.4" y="-4.5" width="10.8" height="9" transform="translate(517.3,317.3) rotate(-89)" stroke="#1281ff" stroke-width="2.3" fill="none"/>
<rect x="-5.4" y="-4.5" width="10.8" height="9" transform="translate(518.4,253.5) rotate(-89)" stroke="#1281ff" stroke-width="2.3" fill="none"/>
<rect x="-5.4" y="-4.5" width="10.8" height="9" transform="translate(519.3,190.2) rotate(-89)" stroke="#1281ff" stroke-width="2.3" fill="none"/>
<rect x="-5.4" y="-4.5" width="10.8" height="9" transform="translate(520.1,127.0) rotate(-89)" stroke="#1281ff" stroke-width="2.3" fill="none"/>
<rect x="-5.4" y="-4.5" width="10.8" height="9" transform="translate(520.9,63.7) rotate(-89)" stroke="#1281ff" stroke-width="2.3" fill="none"/>
<rect x="-5.4" y="-4.5" width="10.8" height="9" transform="translate(570.4,49.5) rotate(0)" stroke="#1281ff" stroke-width="2.3" fill="none"/>
<rect x="-5.4" y="-4.5" width="10.8" height="9" transform="translate(581.0,103.3) rotate(89)" stroke="#1281ff" stroke-width="2.3" fill="none"/>
<rect x="-5.4" y="-4.5" width="10.8" height="9" transform="translate(582.3,166.5) rotate(89)" stroke="#1281ff" stroke-width="2.3" fill="none"/>
<rect x="-5.4" y="-4.5" width="10.8" height="9" transform="translate(584.0,229.8) rotate(88)" stroke="#1281ff" stroke-width="2.3" fill="none"/>
<rect x="-5.4" y="-4.5" width="10.8" height="9" transform="translate(585.8,293.0) rotate(89)" stroke="#1281ff" stroke-width="2.3" fill="none"/>
<rect x="-5.4" y="-4.5" width="10.8" height="9" transform="translate(586.8,356.3) rotate(89)" stroke="#1281ff" stroke-width="2.3" fill="none"/>
<rect x="-5.4" y="-4.5" width="10.8" height="9" transform="translate(587.9,419.7) rotate(89)" stroke="#1281ff" stroke-width="2.3" fill="none"/>
<rect x="-5.4" y="-4.5" width="10.8" height="9" transform="translate(589.2,483.0) rotate(89)" stroke="#1281ff" stroke-width="2.3" fill="none"/>
<rect x="-5.4" y="-4.5" width="10.8" height="9" transform="translate(590.9,546.3) rotate(88)" stroke="#1281ff" stroke-width="2.3" fill="none"/>
<rect x="-5.4" y="-4.5" width="10.8" height="9" transform="translate(592.3,609.7) rotate(89)" stroke="#1281ff" stroke-width="2.3" fill="none"/>
<rect x="-5.4" y="-4.5" width="10.8" height="9" transform="translate(593.5,673.0) rotate(89)" stroke="#1281ff" stroke-width="2.3" fill="none"/>
<rect x="-5.4" y="-4.5" width="10.8" height="9" transform="translate(595.0,736.3) rotate(89)" stroke="#1281ff" stroke-width="2.3" fill="none"/>
<rect x="-5.4" y="-4.5" width="10.8" height="9" transform="translate(596.6,799.7) rotate(89)" stroke="#1281ff" stroke-width="2.3" fill="none"/>
<rect x="-5.4" y="-4.5" width="10.8" height="9" transform="translate(597.9,863.0) rotate(89)" stroke="#1281ff" stroke-width="2.3" fill="none"/>
<rect x="-5.4" y="-4.5" width="10.8" height="9" transform="translate(599.1,926.3) rotate(89)" stroke="#1281ff" stroke-width="2.3" fill="none"/>
<rect x="-5.4" y="-4.5" width="10.8" height="9" transform="translate(600.6,989.7) rotate(88)" stroke="#1281ff" stroke-width="2.3" fill="none"/>
<rect x="-5.4" y="-4.5" width="10.8" height="9" transform="translate(602.9,1053.0) rotate(87)" stroke="#1281ff" stroke-width="2.3" fill="none"/>
<rect x="-5.4" y="-4.5" width="10.8" height="9" transform="translate(605.0,1116.3) rotate(89)" stroke="#1281ff" stroke-width="2.3" fill="none"/>
<rect x="-5.4" y="-4.5" width="10.8" height="9" transform="translate(606.5,1179.6) rotate(88)" stroke="#1281ff" stroke-width="2.3" fill="none"/>
<rect x="-5.4" y="-4.5" width="10.8" height="9" transform="translate(608.3,1242.9) rotate(88)" stroke="#1281ff" stroke-width="2.3" fill="none"/>
<rect x="-5.4" y="-4.5" width="10.8" height="9" transform="translate(610.5,1306.2) rotate(87)" stroke="#1281ff" stroke-width="2.3" fill="none"/>
<rect x="-5.4" y="-4.5" width="10.8" height="9" transform="translate(613.6,1369.5) rotate(87)" stroke="#1281ff" stroke-width="2.3" fill="none"/>
<rect x="-5.4" y="-4.5" width="10.8" height="9" transform="translate(616.8,1432.7) rotate(87)" stroke="#1281ff" stroke-width="2.3" fill="none"/>
<rect x="-5.4" y="-4.5" width="10.8" height="9" transform="translate(619.8,1496.1) rotate(86)" stroke="#1281ff" stroke-width="2.3" fill="none"/>
<rect x="-5.4" y="-4.5" width="10.8" height="9" transform="translate(625.2,1558.8) rotate(84)" stroke="#1281ff" stroke-width="2.3" fill="none"/>
<rect x="-5.4" y="-4.5" width="10.8" height="9" transform="translate(632.6,1621.1) rotate(81)" stroke="#1281ff" stroke-width="2.3" fill="none"/>
<rect x="-5.4" y="-4.5" width="10.8" height="9" transform="translate(666.9,1648.3) rotate(-51)" stroke="#1281ff" stroke-width="2.3" fill="none"/>
<rect x="-5.4" y="-4.5" width="10.8" height="9" transform="translate(683.3,1587.4) rotate(-76)" stroke="#1281ff" stroke-width="2.3" fill="none"/>
<rect x="-5.4" y="-4.5" width="10.8" height="9" transform="translate(694.7,1523.5) rotate(-80)" stroke="#1281ff" stroke-width="2.3" fill="none"/>
<rect x="-5.4" y="-4.5" width="10.8" height="9" transform="translate(704.1,1463.5) rotate(-81)" stroke="#1281ff" stroke-width="2.3" fill="none"/>
<rect x="-5.4" y="-4.5" width="10.8" height="9" transform="translate(716.4,1401.2) rotate(-71)" stroke="#1281ff" stroke-width="2.3" fill="none"/>
<rect x="-5.4" y="-4.5" width="10.8" height="9" transform="translate(737.9,1440.7) rotate(84)" stroke="#1281ff" stroke-width="2.3" fill="none"/>
<rect x="-5.4" y="-4.5" width="10.8" height="9" transform="translate(746.6,1503.8) rotate(79)" stroke="#1281ff" stroke-width="2.3" fill="none"/>
<rect x="-5.4" y="-4.5" width="10.8" height="9" transform="translate(755.2,1566.6) rotate(83)" stroke="#1281ff" stroke-width="2.3" fill="none"/>
<rect x="-5.4" y="-4.5" width="10.8" height="9" transform="translate(764.5,1628.9) rotate(78)" stroke="#1281ff" stroke-width="2.3" fill="none"/>
<rect x="-5.4" y="-4.5" width="10.8" height="9" transform="translate(795.0,1639.7) rotate(-16)" stroke="#1281ff" stroke-width="2.3" fill="none"/>
<rect x="-5.4" y="-4.5" width="10.8" height="9" transform="translate(849.0,1668.8) rotate(4)" stroke="#1281ff" stroke-width="2.3" fill="none"/>
<rect x="-5.4" y="-4.5" width="10.8" height="9" transform="translate(911.9,1666.7) rotate(-1)" stroke="#1281ff" stroke-width="2.3" fill="none"/>
<rect x="-5.4" y="-4.5" width="10.8" height="9" transform="translate(974.8,1666.2) rotate(-0)" stroke="#1281ff" stroke-width="2.3" fill="none"/>
<rect x="-5.4" y="-4.5" width="10.8" height="9" transform="translate(1037.8,1665.6) rotate(-1)" stroke="#1281ff" stroke-width="2.3" fill="none"/>
<rect x="-5.4" y="-4.5" width="10.8" height="9" transform="translate(1101.3,1665.0) rotate(-1)" stroke="#1281ff" stroke-width="2.3" fill="none"/>
<rect x="-5.4" y="-4.5" width="10.8" height="9" transform="translate(1164.4,1664.4) rotate(-1)" stroke="#1281ff" stroke-width="2.3" fill="none"/>
<rect x="-5.4" y="-4.5" width="10.8" height="9" transform="translate(1227.6,1663.3) rotate(-2)" stroke="#1281ff" stroke-width="2.3" fill="none"/>
<rect x="-5.4" y="-4.5" width="10.8" height="9" transform="translate(1289.0,1662.2) rotate(1)" stroke="#1281ff" stroke-width="2.3" fill="none"/>
<rect x="-5.4" y="-4.5" width="10.8" height="9" transform="translate(1352.0,1663.5) rotate(-2)" stroke="#1281ff" stroke-width="2.3" fill="none"/>
<rect x="-5.4" y="-4.5" width="10.8" height="9" transform="translate(1414.8,1660.1) rotate(-4)" stroke="#1281ff" stroke-width="2.3" fill="none"/>
<rect x="-5.4" y="-4.5" width="10.8" height="9" transform="translate(1475.2,1655.9) rotate(-4)" stroke="#1281ff" stroke-width="2.3" fill="none"/>
<rect x="-5.4" y="-4.5" width="10.8" height="9" transform="translate(1538.7,1652.7) rotate(0)" stroke="#1281ff" stroke-width="2.3" fill="none"/>
<rect x="-5.4" y="-4.5" width="10.8" height="9" transform="translate(1601.6,1657.8) rotate(8)" stroke="#1281ff" stroke-width="2.3" fill="none"/>
<rect x="-5.4" y="-4.5" width="10.8" height="9" transform="translate(1665.3,1660.6) rotate(0)" stroke="#1281ff" stroke-width="2.3" fill="none"/>
<rect x="-5.4" y="-4.5" width="10.8" height="9" transform="translate(1728.1,1663.2) rotate(1)" stroke="#1281ff" stroke-width="2.3" fill="none"/>
<rect x="-5.4" y="-4.5" width="10.8" height="9" transform="translate(1790.9,1661.9) rotate(-7)" stroke="#1281ff" stroke-width="2.3" fill="none"/>
<rect x="-5.4" y="-4.5" width="10.8" height="9" transform="translate(1852.7,1652.2) rotate(-16)" stroke="#1281ff" stroke-width="2.3" fill="none"/>
<path d="M264.3,49.5 L264.4,52.6 L264.5,55.7 L264.6,58.8 L264.7,61.9 L264.8,65.0 L264.9,68.1 L265.0,71.2 L265.1,74.2 L265.2,77.1 L265.3,80.0 L265.4,82.4 L265.5,84.8 L265.7,87.1 L265.8,89.4 L266.0,91.7 L266.1,93.9 L266.3,96.1 L266.4,98.3 L266.6,100.5 L266.7,102.7 L266.8,104.7 L267.0,106.7 L267.1,108.6 L267.2,110.6 L267.4,112.5 L267.5,114.4 L267.6,116.3 L267.7,118.2 L267.9,120.1 L268.0,122.0 L268.1,123.9 L268.2,125.7 L268.3,127.6 L268.5,129.5 L268.6,131.3 L268.7,133.2 L268.8,135.0 L268.9,136.8 L269.1,138.6 L269.2,140.4 L269.3,142.1 L269.5,143.8 L269.6,145.6 L269.7,147.3 L269.9,149.1 L270.0,150.7 L270.2,152.3 L270.4,153.9 L270.6,155.2 L270.9,156.5 L271.1,157.2 L271.3,158.0 L271.5,158.7 L271.7,159.4 L271.9,160.1 L272.1,160.6 L272.4,161.2 L272.6,161.6 L272.9,161.9 L273.2,162.0 L273.4,162.0 L273.7,161.9 L274.0,161.7 L274.3,161.5 L274.6,161.2 L274.9,160.8 L275.2,160.5 L275.5,160.1 L275.7,159.8 L276.0,159.5 L276.3,159.2 L276.5,158.9 L276.7,158.5 L277.0,158.1 L277.2,157.7 L277.4,157.4 L277.7,157.0 L277.9,156.8 L278.1,156.6 L278.4,156.5 L278.6,156.5 L278.9,156.5 L279.2,156.6 L279.4,156.7 L279.7,156.9 L280.0,157.1 L280.3,157.3 L280.5,157.5 L280.8,157.8 L281.0,158.0 L281.3,158.4 L281.6,158.8 L281.8,159.3 L282.1,159.8 L282.3,160.4 L282.5,161.0 L282.7,161.6 L282.9,162.2 L283.1,162.8 L283.3,163.4 L283.5,164.1 L283.6,164.8 L283.8,165.6 L283.9,166.4 L284.0,167.2 L284.1,168.0 L284.2,168.7 L284.3,169.5 L284.5,170.3 L284.6,171.0 L284.7,171.6 L284.8,172.3 L285.0,172.9 L285.1,173.5 L285.2,174.1 L285.3,174.7 L285.5,175.3 L285.6,175.9 L285.8,176.4 L286.0,177.0 L286.2,177.5 L286.4,177.9 L286.7,178.4 L287.0,178.8 L287.2,179.3 L287.5,179.7 L287.8,180.1 L288.0,180.6 L288.3,181.0 L288.5,181.5 L288.7,182.0 L288.9,182.5 L289.1,183.0 L289.2,183.6 L289.4,184.1 L289.5,184.7 L289.6,185.2 L289.8,185.8 L289.9,186.4 L290.0,187.0 L290.1,187.8 L290.2,188.6 L290.3,189.4 L290.4,190.3 L290.5,191.2 L290.6,192.1 L290.6,193.0 L290.7,194.0 L290.7,195.0 L290.8,196.0 L290.9,197.4 L291.0,198.9 L291.1,200.4 L291.2,202.0 L291.2,203.7 L291.3,205.3 L291.4,207.1 L291.5,208.8 L291.5,210.6 L291.6,212.5 L291.7,215.1 L291.8,217.8 L291.8,220.6 L291.9,223.4 L291.9,226.4 L292.0,229.4 L292.1,232.4 L292.2,235.4 L292.3,238.4 L292.4,241.3 L292.6,244.1 L292.8,247.0 L293.0,249.7 L293.2,252.5 L293.4,255.3 L293.7,258.1 L293.9,261.0 L294.2,263.9 L294.4,266.9 L294.6,270.0 L294.8,273.9 L295.1,278.0 L295.3,282.1 L295.5,286.3 L295.7,290.6 L295.9,295.0 L296.1,299.4 L296.3,303.9 L296.5,308.5 L296.7,313.1 L296.9,318.6 L297.1,324.2 L297.2,329.9 L297.4,335.7 L297.5,341.6 L297.6,347.5 L297.8,353.5 L297.9,359.6 L298.0,365.7 L298.2,371.9 L298.4,378.8 L298.6,385.9 L298.8,393.2 L299.0,400.5 L299.2,407.9 L299.4,415.3 L299.6,422.6 L299.8,429.8 L300.1,436.9 L300.3,443.8 L300.5,449.8 L300.7,455.6 L300.9,461.3 L301.1,467.0 L301.4,472.6 L301.6,478.1 L301.8,483.8 L302.0,489.5 L302.3,495.3 L302.5,501.3 L302.8,508.2 L303.1,515.3 L303.4,522.5 L303.7,529.8 L304.0,537.1 L304.2,544.5 L304.5,551.8 L304.8,559.1 L305.1,566.2 L305.3,573.1 L305.5,579.2 L305.7,585.1 L305.8,591.0 L306.0,596.8 L306.1,602.5 L306.3,608.2 L306.4,614.0 L306.5,619.9 L306.7,625.8 L306.8,631.9 L306.9,638.8 L307.1,645.8 L307.2,652.9 L307.3,660.1 L307.4,667.4 L307.5,674.7 L307.7,682.0 L307.8,689.3 L308.0,696.6 L308.2,703.8 L308.4,711.0 L308.7,718.3 L308.9,725.6 L309.2,732.9 L309.5,740.2 L309.8,747.5 L310.1,754.7 L310.4,761.8 L310.8,768.7 L311.1,775.6 L311.4,781.7 L311.8,787.8 L312.2,793.9 L312.6,800.0 L313.0,805.9 L313.4,811.7 L313.7,817.4 L314.1,822.9 L314.4,828.1 L314.7,833.1 L314.9,836.5 L315.0,839.7 L315.2,842.7 L315.3,845.7 L315.4,848.5 L315.5,851.4 L315.6,854.2 L315.8,857.1 L315.9,860.0 L316.1,863.1 L316.3,866.6 L316.6,870.3 L316.8,874.0 L317.0,877.8 L317.3,881.6 L317.6,885.4 L317.9,889.1 L318.2,892.6 L318.6,896.0 L319.0,899.1 L319.3,901.4 L319.6,903.9 L319.9,906.4 L320.2,908.8 L320.6,911.2 L320.9,913.3 L321.3,915.2 L321.7,916.6 L322.1,917.6 L322.6,918.0 L322.9,917.9 L323.2,917.6 L323.5,917.1 L323.8,916.5 L324.2,915.7 L324.5,914.9 L324.8,914.1 L325.2,913.3 L325.6,912.6 L326.0,912.0 L326.4,911.5 L326.8,910.9 L327.3,910.3 L327.8,909.7 L328.3,909.1 L328.8,908.6 L329.2,908.1 L329.7,907.8 L330.1,907.7 L330.5,907.7 L331.1,908.2 L331.6,909.3 L332.0,910.9 L332.4,912.9 L332.7,915.1 L333.0,917.6 L333.3,920.2 L333.5,922.8 L333.8,925.4 L334.1,927.8 L334.5,931.0 L334.9,934.3 L335.3,937.7 L335.7,941.3 L336.0,944.9 L336.4,948.7 L336.7,952.4 L337.1,956.2 L337.4,960.0 L337.7,963.8 L338.0,968.0 L338.4,972.2 L338.7,976.4 L339.0,980.8 L339.3,985.1 L339.5,989.5 L339.8,993.8 L340.1,998.2 L340.3,1002.6 L340.6,1006.9 L340.8,1011.2 L341.1,1015.5 L341.3,1019.9 L341.6,1024.2 L341.8,1028.5 L342.0,1032.9 L342.2,1037.2 L342.4,1041.5 L342.5,1045.8 L342.7,1050.0 L342.8,1054.1 L342.9,1058.2 L343.0,1062.2 L343.1,1066.3 L343.2,1070.3 L343.3,1074.3 L343.3,1078.3 L343.4,1082.3 L343.5,1086.2 L343.6,1090.0 L343.7,1093.4 L343.8,1096.7 L343.9,1099.9 L344.0,1103.0 L344.2,1106.2 L344.3,1109.4 L344.4,1112.6 L344.6,1115.9 L344.7,1119.4 L344.9,1123.1 L345.1,1128.2 L345.4,1133.6 L345.6,1139.2 L345.9,1145.0 L346.2,1150.9 L346.5,1156.8 L346.8,1162.9 L347.2,1168.8 L347.5,1174.8 L347.8,1180.6 L348.1,1186.4 L348.5,1192.2 L348.8,1198.1 L349.1,1204.0 L349.5,1209.9 L349.8,1215.7 L350.2,1221.5 L350.6,1227.1 L351.0,1232.7 L351.4,1238.1 L351.8,1242.7 L352.2,1247.3 L352.6,1251.8 L353.0,1256.3 L353.5,1260.7 L353.9,1265.0 L354.4,1269.2 L354.8,1273.4 L355.3,1277.4 L355.7,1281.3 L356.0,1284.3 L356.4,1287.3 L356.7,1290.1 L357.1,1292.9 L357.4,1295.6 L357.7,1298.3 L358.1,1301.0 L358.4,1303.8 L358.8,1306.5 L359.1,1309.3 L359.5,1312.2 L359.8,1315.1 L360.2,1318.0 L360.6,1321.0 L360.9,1323.9 L361.3,1326.8 L361.7,1329.8 L362.0,1332.7 L362.4,1335.7 L362.7,1338.6 L363.0,1341.5 L363.3,1344.5 L363.6,1347.4 L363.9,1350.4 L364.1,1353.3 L364.4,1356.3 L364.7,1359.2 L365.0,1362.1 L365.3,1365.0 L365.7,1367.8 L366.1,1370.5 L366.4,1373.2 L366.8,1375.9 L367.2,1378.6 L367.6,1381.3 L368.1,1383.9 L368.5,1386.5 L369.0,1388.9 L369.5,1391.3 L370.0,1393.5 L370.4,1395.1 L370.8,1396.6 L371.2,1398.2 L371.6,1399.7 L372.0,1401.1 L372.4,1402.5 L372.9,1403.7 L373.3,1404.9 L373.9,1406.0 L374.4,1407.0 L374.8,1407.6 L375.2,1408.2 L375.6,1408.8 L376.0,1409.3 L376.4,1409.8 L376.8,1410.2 L377.3,1410.6 L377.7,1410.9 L378.1,1411.0 L378.5,1411.0 L379.1,1410.7 L379.6,1410.2 L380.2,1409.4 L380.7,1408.4 L381.2,1407.2 L381.7,1405.9 L382.2,1404.6 L382.7,1403.2 L383.2,1401.8 L383.7,1400.4 L384.4,1398.4 L385.0,1396.3 L385.6,1394.0 L386.2,1391.6 L386.8,1389.1 L387.3,1386.6 L387.9,1383.9 L388.4,1381.3 L388.9,1378.6 L389.4,1375.9 L390.0,1372.6 L390.6,1369.1 L391.1,1365.5 L391.7,1361.8 L392.2,1358.0 L392.7,1354.3 L393.1,1350.6 L393.6,1346.9 L394.1,1343.4 L394.5,1340.0 L394.9,1337.2 L395.2,1334.6 L395.5,1332.0 L395.8,1329.4 L396.1,1326.9 L396.4,1324.4 L396.7,1321.9 L397.0,1319.3 L397.3,1316.7 L397.6,1314.0 L397.9,1310.9 L398.3,1307.6 L398.6,1304.3 L399.0,1300.9 L399.3,1297.5 L399.6,1294.1 L400.0,1290.7 L400.3,1287.5 L400.7,1284.3 L401.0,1281.3 L401.3,1279.0 L401.6,1276.7 L401.8,1274.5 L402.1,1272.3 L402.4,1270.2 L402.7,1268.1 L403.0,1266.0 L403.2,1263.9 L403.5,1261.8 L403.8,1259.7 L404.1,1257.6 L404.4,1255.4 L404.7,1253.3 L405.0,1251.2 L405.3,1249.1 L405.6,1247.0 L405.9,1244.8 L406.1,1242.6 L406.4,1240.4 L406.7,1238.1 L407.0,1235.4 L407.3,1232.5 L407.6,1229.6 L407.9,1226.6 L408.1,1223.7 L408.4,1220.7 L408.7,1217.7 L409.0,1214.8 L409.3,1212.1 L409.6,1209.4 L409.8,1207.2 L410.1,1205.0 L410.3,1202.8 L410.5,1200.6 L410.7,1198.4 L410.9,1196.4 L411.2,1194.5 L411.6,1192.8 L411.9,1191.3 L412.4,1190.0 L412.7,1189.5 L412.9,1188.9 L413.2,1188.4 L413.5,1187.9 L413.8,1187.5 L414.1,1187.1 L414.4,1186.8 L414.7,1186.6 L415.0,1186.5 L415.3,1186.5 L415.6,1186.7 L416.0,1187.1 L416.3,1187.7 L416.6,1188.5 L416.9,1189.4 L417.1,1190.5 L417.4,1191.6 L417.7,1192.7 L417.9,1193.9 L418.2,1195.0 L418.7,1197.2 L419.2,1199.6 L419.6,1202.3 L420.1,1205.1 L420.6,1208.1 L421.0,1211.2 L421.4,1214.4 L421.8,1217.5 L422.2,1220.7 L422.5,1223.8 L422.8,1227.3 L423.1,1230.9 L423.4,1234.6 L423.6,1238.4 L423.8,1242.2 L423.9,1246.0 L424.1,1249.7 L424.3,1253.3 L424.5,1256.7 L424.7,1260.0 L424.9,1262.5 L425.0,1264.9 L425.1,1267.3 L425.2,1269.7 L425.4,1271.9 L425.5,1274.2 L425.7,1276.3 L425.9,1278.3 L426.2,1280.2 L426.5,1282.0 L426.8,1283.1 L427.1,1284.1 L427.4,1285.1 L427.7,1286.0 L428.1,1286.9 L428.5,1287.8 L428.8,1288.7 L429.1,1289.5 L429.4,1290.4 L429.7,1291.3 L429.9,1292.2 L430.1,1293.0 L430.2,1293.8 L430.4,1294.6 L430.5,1295.4 L430.6,1296.2 L430.8,1297.1 L430.9,1298.0 L431.0,1298.9 L431.1,1300.0 L431.3,1301.9 L431.5,1304.1 L431.6,1306.4 L431.8,1308.8 L431.9,1311.4 L432.1,1314.0 L432.2,1316.6 L432.3,1319.3 L432.5,1321.9 L432.6,1324.4 L432.7,1326.9 L432.8,1329.4 L432.9,1331.9 L433.0,1334.4 L433.1,1337.0 L433.2,1339.5 L433.3,1342.1 L433.4,1344.7 L433.5,1347.3 L433.6,1350.0 L433.7,1353.1 L433.8,1356.2 L434.0,1359.3 L434.1,1362.5 L434.2,1365.7 L434.3,1368.9 L434.5,1372.3 L434.6,1375.8 L434.8,1379.3 L435.0,1383.0 L435.3,1388.1 L435.6,1393.5 L436.0,1399.1 L436.4,1404.9 L436.8,1410.8 L437.2,1416.8 L437.7,1422.8 L438.1,1428.8 L438.6,1434.8 L439.0,1440.6 L439.4,1446.4 L439.8,1452.1 L440.3,1457.9 L440.7,1463.6 L441.1,1469.4 L441.5,1475.1 L442.0,1480.9 L442.5,1486.6 L443.0,1492.4 L443.5,1498.1 L444.1,1503.9 L444.6,1509.7 L445.3,1515.6 L445.9,1521.5 L446.5,1527.4 L447.2,1533.2 L447.9,1539.0 L448.6,1544.6 L449.3,1550.2 L450.0,1555.6 L450.6,1560.3 L451.3,1565.0 L452.0,1569.7 L452.7,1574.3 L453.4,1578.9 L454.1,1583.3 L454.8,1587.6 L455.5,1591.6 L456.3,1595.3 L457.0,1598.8 L457.5,1600.8 L457.9,1602.5 L458.4,1604.2 L458.9,1605.7 L459.4,1607.2 L459.9,1608.7 L460.4,1610.2 L460.8,1611.8 L461.3,1613.5 L461.8,1615.3 L462.4,1618.0 L463.1,1621.0 L463.7,1624.1 L464.3,1627.4 L464.9,1630.7 L465.6,1634.0 L466.2,1637.3 L466.8,1640.6 L467.4,1643.7 L468.1,1646.6 L468.6,1649.1 L469.2,1651.8 L469.7,1654.6 L470.2,1657.5 L470.8,1660.2 L471.3,1662.6 L471.9,1664.8 L472.5,1666.5 L473.1,1667.6 L473.8,1668.0 L474.4,1667.8 L475.1,1667.1 L475.8,1666.0 L476.5,1664.5 L477.2,1662.8 L477.9,1660.9 L478.7,1658.9 L479.4,1656.8 L480.1,1654.8 L480.7,1652.9 L481.5,1650.2 L482.3,1647.3 L483.1,1644.2 L483.8,1641.0 L484.5,1637.7 L485.3,1634.4 L486.0,1631.0 L486.7,1627.7 L487.4,1624.5 L488.2,1621.5 L488.9,1618.9 L489.7,1616.3 L490.5,1613.8 L491.2,1611.3 L492.0,1608.9 L492.8,1606.4 L493.6,1604.0 L494.3,1601.5 L495.0,1599.0 L495.7,1596.5 L496.4,1593.9 L497.0,1591.3 L497.6,1588.7 L498.2,1586.1 L498.8,1583.4 L499.3,1580.8 L499.9,1578.1 L500.4,1575.4 L501.0,1572.7 L501.5,1570.0 L502.1,1567.1 L502.6,1564.0 L503.2,1561.0 L503.7,1557.9 L504.2,1554.8 L504.7,1551.7 L505.2,1548.6 L505.7,1545.6 L506.1,1542.8 L506.5,1540.0 L506.8,1537.8 L507.1,1535.7 L507.3,1533.7 L507.5,1531.6 L507.7,1529.7 L507.9,1527.7 L508.2,1525.8 L508.4,1523.8 L508.7,1521.9 L509.0,1520.0 L509.3,1518.1 L509.6,1516.2 L509.9,1514.3 L510.3,1512.4 L510.6,1510.5 L511.0,1508.6 L511.4,1506.9 L511.9,1505.2 L512.4,1503.7 L512.9,1502.4 L513.3,1501.6 L513.6,1500.9 L514.0,1500.2 L514.4,1499.6 L514.8,1498.9 L515.2,1498.4 L515.7,1497.9 L516.2,1497.4 L516.7,1497.0 L517.3,1496.7 L518.0,1496.4 L518.8,1496.3 L519.6,1496.2 L520.5,1496.2 L521.4,1496.2 L522.3,1496.3 L523.2,1496.4 L524.1,1496.6 L525.0,1496.6 L525.9,1496.7 L526.8,1496.8 L527.7,1496.9 L528.6,1497.1 L529.5,1497.3 L530.4,1497.5 L531.3,1497.6 L532.2,1497.7 L533.0,1497.7 L533.8,1497.6 L534.5,1497.4 L535.1,1497.0 L535.7,1496.6 L536.3,1496.0 L536.8,1495.4 L537.3,1494.7 L537.8,1494.0 L538.2,1493.3 L538.7,1492.5 L539.1,1491.7 L539.5,1491.0 L539.9,1490.2 L540.3,1489.4 L540.7,1488.5 L541.0,1487.6 L541.4,1486.8 L541.7,1485.9 L542.0,1485.0 L542.4,1484.1 L542.7,1483.2 L543.1,1482.3 L543.5,1481.4 L543.9,1480.6 L544.4,1479.8 L544.8,1479.0 L545.3,1478.2 L545.7,1477.3 L546.1,1476.5 L546.6,1475.6 L547.0,1474.7 L547.4,1473.7 L547.9,1472.3 L548.4,1470.9 L548.8,1469.3 L549.3,1467.7 L549.7,1466.1 L550.1,1464.4 L550.5,1462.7 L550.9,1461.1 L551.4,1459.5 L551.8,1457.9 L552.2,1456.4 L552.6,1454.8 L553.0,1453.1 L553.4,1451.4 L553.7,1449.8 L554.1,1448.2 L554.6,1446.8 L555.0,1445.5 L555.5,1444.4 L556.1,1443.5 L556.4,1443.1 L556.8,1442.8 L557.1,1442.5 L557.5,1442.2 L557.8,1442.0 L558.2,1441.8 L558.6,1441.7 L559.0,1441.6 L559.3,1441.5 L559.7,1441.5 L560.1,1441.5 L560.4,1441.6 L560.8,1441.7 L561.2,1441.8 L561.6,1442.0 L561.9,1442.2 L562.3,1442.5 L562.6,1442.8 L563.0,1443.1 L563.3,1443.5 L563.9,1444.6 L564.5,1445.9 L565.0,1447.5 L565.4,1449.4 L565.8,1451.4 L566.2,1453.5 L566.5,1455.7 L566.9,1457.9 L567.2,1460.1 L567.6,1462.2 L568.1,1464.8 L568.5,1467.6 L569.0,1470.4 L569.4,1473.3 L569.8,1476.2 L570.2,1479.2 L570.6,1482.2 L571.1,1485.1 L571.5,1488.1 L571.9,1491.0 L572.3,1493.9 L572.7,1496.8 L573.2,1499.7 L573.6,1502.7 L574.0,1505.6 L574.4,1508.5 L574.9,1511.4 L575.3,1514.2 L575.7,1517.0 L576.2,1519.7 L576.6,1522.0 L577.0,1524.3 L577.4,1526.6 L577.8,1528.8 L578.1,1531.0 L578.6,1533.1 L579.0,1535.3 L579.5,1537.3 L580.0,1539.3 L580.5,1541.3 L581.0,1542.9 L581.5,1544.5 L582.1,1546.1 L582.7,1547.7 L583.3,1549.2 L583.9,1550.7 L584.5,1552.1 L585.2,1553.5 L585.7,1554.8 L586.3,1556.0 L586.7,1556.8 L587.0,1557.5 L587.4,1558.2 L587.7,1558.9 L588.1,1559.5 L588.4,1560.2 L588.8,1560.8 L589.2,1561.5 L589.6,1562.2 L590.0,1563.0 L590.6,1564.1 L591.3,1565.3 L591.9,1566.6 L592.7,1567.9 L593.4,1569.2 L594.1,1570.5 L594.9,1571.9 L595.6,1573.3 L596.3,1574.6 L597.0,1576.0 L597.7,1577.4 L598.4,1578.9 L599.1,1580.4 L599.8,1581.9 L600.5,1583.4 L601.2,1584.9 L601.9,1586.5 L602.6,1588.0 L603.3,1589.5 L604.0,1591.0 L604.7,1592.5 L605.4,1594.0 L606.1,1595.5 L606.8,1597.0 L607.5,1598.5 L608.2,1600.0 L608.9,1601.5 L609.6,1603.0 L610.3,1604.5 L611.0,1606.0 L611.7,1607.4 L612.4,1608.8 L613.0,1610.3 L613.7,1611.7 L614.4,1613.1 L615.1,1614.5 L615.8,1615.8 L616.5,1617.2 L617.2,1618.6 L618.0,1620.0 L618.8,1621.4 L619.7,1622.9 L620.6,1624.3 L621.5,1625.7 L622.5,1627.1 L623.4,1628.5 L624.3,1629.9 L625.2,1631.3 L626.1,1632.7 L627.0,1634.0 L627.7,1635.2 L628.5,1636.3 L629.2,1637.4 L629.8,1638.6 L630.5,1639.7 L631.2,1640.8 L631.9,1641.8 L632.6,1642.9 L633.3,1644.0 L634.0,1645.0 L634.7,1646.0 L635.3,1647.0 L636.0,1648.1 L636.7,1649.1 L637.3,1650.1 L638.0,1651.1 L638.7,1652.0 L639.5,1652.8 L640.2,1653.5 L641.0,1654.0 L641.6,1654.3 L642.3,1654.6 L643.0,1654.8 L643.7,1655.0 L644.4,1655.1 L645.2,1655.1 L645.9,1655.1 L646.6,1655.1 L647.3,1655.1 L648.0,1655.0 L648.7,1654.9 L649.4,1654.7 L650.2,1654.5 L650.9,1654.2 L651.6,1653.9 L652.3,1653.6 L653.0,1653.2 L653.7,1652.8 L654.3,1652.4 L655.0,1652.0 L655.7,1651.6 L656.3,1651.1 L656.9,1650.6 L657.5,1650.0 L658.1,1649.5 L658.7,1648.9 L659.3,1648.3 L659.9,1647.7 L660.4,1647.1 L661.0,1646.5 L661.6,1645.8 L662.2,1645.1 L662.7,1644.4 L663.3,1643.6 L663.8,1642.9 L664.4,1642.1 L664.9,1641.3 L665.4,1640.5 L666.0,1639.8 L666.5,1639.0 L667.0,1638.3 L667.5,1637.5 L668.1,1636.8 L668.6,1636.0 L669.1,1635.3 L669.6,1634.5 L670.1,1633.8 L670.5,1633.0 L671.0,1632.2 L671.4,1631.4 L671.8,1630.5 L672.2,1629.6 L672.5,1628.7 L672.8,1627.7 L673.1,1626.8 L673.4,1625.8 L673.6,1624.9 L673.9,1623.9 L674.2,1622.9 L674.5,1622.0 L674.8,1621.1 L675.1,1620.2 L675.3,1619.3 L675.6,1618.4 L675.9,1617.5 L676.2,1616.5 L676.5,1615.7 L676.8,1614.8 L677.1,1613.9 L677.5,1613.0 L677.9,1612.1 L678.3,1611.2 L678.8,1610.3 L679.2,1609.4 L679.7,1608.5 L680.2,1607.6 L680.7,1606.8 L681.2,1605.9 L681.8,1605.2 L682.4,1604.4 L683.0,1603.7 L683.7,1603.0 L684.3,1602.3 L685.0,1601.6 L685.7,1601.0 L686.5,1600.4 L687.3,1599.8 L688.0,1599.3 L688.9,1598.9 L689.7,1598.5 L690.6,1598.2 L691.6,1597.9 L692.6,1597.8 L693.6,1597.6 L694.7,1597.6 L695.7,1597.5 L696.8,1597.6 L697.9,1597.6 L699.0,1597.7 L700.0,1597.8 L701.1,1597.9 L702.2,1598.1 L703.4,1598.3 L704.5,1598.6 L705.6,1598.9 L706.7,1599.2 L707.8,1599.6 L708.9,1600.1 L709.9,1600.6 L710.9,1601.2 L711.9,1601.9 L712.8,1602.7 L713.7,1603.6 L714.6,1604.5 L715.5,1605.5 L716.3,1606.5 L717.1,1607.6 L717.9,1608.6 L718.6,1609.7 L719.3,1610.7 L719.9,1611.7 L720.5,1612.7 L721.0,1613.7 L721.5,1614.8 L722.0,1615.8 L722.5,1616.9 L723.0,1618.0 L723.4,1619.0 L724.0,1620.1 L724.5,1621.1 L725.1,1622.2 L725.7,1623.2 L726.3,1624.2 L727.0,1625.3 L727.6,1626.3 L728.2,1627.4 L728.9,1628.4 L729.5,1629.5 L730.2,1630.5 L730.8,1631.6 L731.4,1632.7 L732.1,1633.8 L732.7,1634.9 L733.4,1636.1 L734.0,1637.2 L734.6,1638.3 L735.3,1639.5 L735.9,1640.7 L736.5,1641.9 L737.1,1643.1 L737.7,1644.5 L738.4,1645.9 L738.9,1647.4 L739.5,1648.9 L740.1,1650.5 L740.7,1652.0 L741.3,1653.5 L741.9,1655.0 L742.6,1656.4 L743.3,1657.7 L743.9,1658.9 L744.6,1660.1 L745.2,1661.2 L745.8,1662.4 L746.5,1663.5 L747.2,1664.6 L748.0,1665.6 L748.8,1666.5 L749.7,1667.3 L750.7,1668.0 L751.9,1668.6 L753.3,1669.1 L754.8,1669.5 L756.4,1669.7 L758.0,1669.9 L759.7,1670.0 L761.4,1670.0 L763.1,1670.0 L764.7,1670.0 L766.3,1670.0 L767.9,1670.0 L769.4,1669.9 L771.0,1669.7 L772.5,1669.5 L774.1,1669.2 L775.6,1669.0 L777.2,1668.7 L778.8,1668.5 L780.4,1668.3 L782.0,1668.1 L783.8,1668.0 L785.6,1667.9 L787.4,1667.9 L789.2,1667.9 L791.1,1668.0 L792.9,1667.9 L794.8,1667.9 L796.6,1667.7 L798.3,1667.5 L800.0,1667.1 L801.6,1666.6 L803.1,1666.0 L804.6,1665.2 L806.0,1664.4 L807.5,1663.6 L808.9,1662.7 L810.3,1661.9 L811.7,1661.1 L813.1,1660.5 L814.5,1659.9 L815.7,1659.5 L816.9,1659.1 L818.0,1658.8 L819.2,1658.5 L820.3,1658.2 L821.4,1657.9 L822.6,1657.8 L823.7,1657.6 L824.9,1657.6 L826.0,1657.6 L827.1,1657.7 L828.3,1657.9 L829.4,1658.2 L830.5,1658.6 L831.6,1659.0 L832.7,1659.4 L833.9,1659.8 L835.0,1660.3 L836.2,1660.7 L837.5,1661.0 L839.0,1661.4 L840.6,1661.8 L842.2,1662.1 L843.8,1662.5 L845.5,1662.9 L847.2,1663.2 L849.0,1663.5 L850.8,1663.9 L852.8,1664.2 L854.8,1664.5 L858.0,1664.9 L861.5,1665.4 L865.0,1665.8 L868.7,1666.1 L872.7,1666.5 L876.7,1666.8 L881.0,1667.1 L885.5,1667.4 L890.1,1667.7 L895.0,1667.9 L903.4,1668.2 L912.5,1668.5 L922.3,1668.7 L932.5,1668.8 L943.2,1668.9 L954.3,1668.9 L965.6,1668.9 L977.0,1669.0 L988.5,1669.0 L1000.0,1669.1 L1014.5,1669.3 L1030.5,1669.5 L1047.4,1669.7 L1064.8,1669.9 L1082.1,1670.2 L1098.8,1670.3 L1114.4,1670.4 L1128.5,1670.4 L1140.5,1670.3 L1150.0,1670.0 L1152.8,1669.8 L1155.2,1669.6 L1157.4,1669.4 L1159.3,1669.1 L1161.2,1668.8 L1162.9,1668.6 L1164.6,1668.3 L1166.3,1668.2 L1168.1,1668.0 L1170.0,1668.0 L1171.9,1668.0 L1173.7,1668.2 L1175.4,1668.3 L1177.1,1668.6 L1178.9,1668.8 L1180.7,1669.1 L1182.7,1669.3 L1184.8,1669.6 L1187.3,1669.8 L1190.0,1670.0 L1199.0,1670.4 L1210.4,1670.7 L1223.8,1670.9 L1238.5,1671.1 L1254.1,1671.2 L1270.1,1671.3 L1285.9,1671.3 L1301.0,1671.3 L1314.9,1671.2 L1327.0,1671.0 L1334.3,1670.8 L1341.3,1670.6 L1347.9,1670.2 L1354.3,1669.9 L1360.5,1669.5 L1366.5,1669.1 L1372.4,1668.8 L1378.2,1668.6 L1384.0,1668.4 L1389.8,1668.4 L1394.8,1668.5 L1399.6,1668.7 L1404.4,1669.0 L1409.1,1669.3 L1413.7,1669.7 L1418.3,1670.1 L1422.9,1670.4 L1427.5,1670.7 L1432.1,1670.9 L1436.8,1671.0 L1441.5,1671.0 L1446.2,1670.9 L1450.9,1670.8 L1455.6,1670.5 L1460.3,1670.3 L1465.1,1670.1 L1469.8,1669.8 L1474.5,1669.6 L1479.2,1669.4 L1483.9,1669.2 L1488.6,1669.1 L1493.4,1668.9 L1498.1,1668.7 L1502.9,1668.6 L1507.7,1668.5 L1512.4,1668.4 L1517.1,1668.3 L1521.8,1668.3 L1526.4,1668.3 L1530.9,1668.4 L1534.9,1668.6 L1538.9,1669.0 L1542.8,1669.4 L1546.6,1669.9 L1550.4,1670.4 L1554.2,1670.8 L1558.0,1671.2 L1561.9,1671.5 L1565.9,1671.6 L1570.0,1671.5 L1574.9,1671.1 L1579.9,1670.5 L1585.2,1669.7 L1590.5,1668.8 L1595.8,1667.8 L1601.1,1666.6 L1606.2,1665.5 L1611.2,1664.4 L1615.9,1663.3 L1620.2,1662.3 L1623.1,1661.6 L1625.7,1660.9 L1628.3,1660.2 L1630.7,1659.5 L1633.1,1658.7 L1635.4,1658.0 L1637.8,1657.4 L1640.2,1656.7 L1642.7,1656.1 L1645.3,1655.6 L1648.3,1655.1 L1651.4,1654.5 L1654.6,1654.1 L1657.9,1653.6 L1661.1,1653.2 L1664.4,1652.9 L1667.6,1652.6 L1670.9,1652.4 L1674.0,1652.3 L1677.1,1652.2 L1679.9,1652.3 L1682.6,1652.4 L1685.3,1652.7 L1688.0,1653.0 L1690.6,1653.4 L1693.3,1653.7 L1695.9,1654.1 L1698.5,1654.4 L1701.2,1654.6 L1703.8,1654.7 L1706.3,1654.7 L1708.9,1654.5 L1711.4,1654.3 L1713.9,1654.0 L1716.4,1653.7 L1718.9,1653.4 L1721.4,1653.2 L1723.9,1653.0 L1726.4,1653.0 L1728.9,1653.1 L1731.4,1653.4 L1733.9,1653.8 L1736.5,1654.3 L1739.0,1654.9 L1741.5,1655.5 L1744.0,1656.2 L1746.5,1656.9 L1749.0,1657.6 L1751.5,1658.3 L1754.0,1658.9 L1756.5,1659.5 L1758.9,1660.1 L1761.3,1660.7 L1763.7,1661.3 L1766.1,1661.9 L1768.6,1662.5 L1771.1,1663.1 L1773.7,1663.7 L1776.3,1664.3 L1779.1,1664.8 L1782.8,1665.5 L1786.7,1666.2 L1790.6,1666.8 L1794.7,1667.5 L1798.9,1668.1 L1803.2,1668.7 L1807.5,1669.3 L1811.9,1669.8 L1816.4,1670.2 L1820.9,1670.6 L1826.2,1670.9 L1831.7,1671.2 L1837.3,1671.3 L1843.0,1671.4 L1848.8,1671.4 L1854.6,1671.4 L1860.4,1671.4 L1866.3,1671.4 L1872.1,1671.4 L1877.8,1671.5" stroke="#c99633" stroke-width="9" stroke-linecap="round" stroke-linejoin="round" fill="none"/>
<path d="M254.6,832.0 L254.9,836.5 L255.1,841.0 L255.4,845.5 L255.6,849.9 L255.9,854.4 L256.1,858.9 L256.4,863.5 L256.6,868.1 L256.9,872.7 L257.2,877.5 L257.5,883.0 L257.9,888.7 L258.2,894.5 L258.6,900.4 L258.9,906.3 L259.3,912.3 L259.7,918.1 L260.0,923.9 L260.4,929.6 L260.8,935.0 L261.1,939.6 L261.5,944.1 L261.8,948.5 L262.2,952.9 L262.5,957.2 L262.9,961.4 L263.2,965.7 L263.6,969.8 L264.0,974.0 L264.4,978.1 L264.8,981.9 L265.2,985.8 L265.6,989.7 L265.9,993.6 L266.4,997.4 L266.8,1001.1 L267.2,1004.7 L267.7,1008.0 L268.2,1011.2 L268.7,1014.1 L269.0,1015.8 L269.3,1017.5 L269.7,1019.1 L270.0,1020.7 L270.3,1022.2 L270.7,1023.6 L271.1,1024.9 L271.5,1026.0 L272.0,1027.1 L272.5,1028.0 L272.9,1028.5 L273.2,1029.0 L273.6,1029.5 L274.1,1029.9 L274.5,1030.3 L274.9,1030.6 L275.3,1030.8 L275.8,1031.0 L276.1,1031.1 L276.5,1031.0 L277.2,1030.3 L277.8,1029.0 L278.4,1027.0 L278.9,1024.7 L279.3,1022.1 L279.7,1019.4 L280.1,1016.6 L280.4,1014.1 L280.7,1011.8 L281.0,1010.0 L281.1,1009.2 L281.2,1008.4 L281.3,1007.7 L281.4,1007.0 L281.4,1006.3 L281.4,1005.7 L281.5,1005.1 L281.6,1004.4 L281.7,1003.7 L281.8,1003.0 L282.0,1002.0 L282.1,1001.0 L282.3,999.9 L282.5,998.7 L282.7,997.6 L283.0,996.5 L283.3,995.4 L283.6,994.5 L284.0,993.7 L284.5,993.0 L284.9,992.6 L285.4,992.2 L285.9,991.8 L286.4,991.5 L287.0,991.2 L287.5,991.0 L288.1,990.8 L288.6,990.8 L289.1,990.8 L289.5,991.0 L290.3,992.0 L291.0,993.9 L291.5,996.5 L291.8,999.6 L292.1,1003.1 L292.3,1006.9 L292.4,1010.7 L292.6,1014.5 L292.8,1018.1 L293.1,1021.3 L293.4,1024.2 L293.7,1027.1 L294.1,1029.9 L294.4,1032.8 L294.7,1035.7 L295.0,1038.5 L295.3,1041.4 L295.5,1044.2 L295.8,1047.1 L296.0,1050.0 L296.2,1052.9 L296.4,1055.9 L296.6,1058.8 L296.7,1061.7 L296.9,1064.6 L297.0,1067.6 L297.1,1070.6 L297.2,1073.6 L297.4,1076.8 L297.5,1080.0 L297.7,1084.0 L297.8,1088.0 L297.9,1092.1 L298.0,1096.3 L298.2,1100.6 L298.3,1105.0 L298.4,1109.4 L298.6,1113.9 L298.7,1118.4 L298.9,1123.0 L299.1,1128.4 L299.4,1134.0 L299.7,1139.7 L300.0,1145.4 L300.3,1151.3 L300.6,1157.2 L300.9,1163.1 L301.2,1168.9 L301.5,1174.8 L301.8,1180.6 L302.1,1186.4 L302.4,1192.2 L302.6,1198.1 L302.9,1204.0 L303.2,1209.9 L303.4,1215.7 L303.7,1221.5 L304.0,1227.1 L304.3,1232.7 L304.6,1238.1 L304.9,1242.7 L305.1,1247.3 L305.4,1251.9 L305.7,1256.5 L305.9,1260.9 L306.2,1265.2 L306.6,1269.5 L306.9,1273.5 L307.3,1277.4 L307.7,1281.0 L308.0,1283.4 L308.4,1285.7 L308.7,1287.9 L309.1,1290.0 L309.5,1292.1 L309.9,1294.1 L310.3,1296.0 L310.7,1298.0 L311.1,1300.0 L311.5,1302.0 L311.9,1303.9 L312.2,1305.8 L312.6,1307.7 L312.9,1309.6 L313.3,1311.5 L313.7,1313.3 L314.0,1315.1 L314.4,1316.9 L314.7,1318.6 L315.1,1320.3 L315.4,1321.7 L315.6,1323.0 L315.9,1324.3 L316.1,1325.6 L316.4,1326.9 L316.7,1328.1 L317.0,1329.4 L317.3,1330.5 L317.7,1331.6 L318.1,1332.7 L318.5,1333.6 L318.9,1334.5 L319.4,1335.4 L319.8,1336.3 L320.3,1337.2 L320.9,1338.0 L321.4,1338.7 L322.0,1339.2 L322.6,1339.7 L323.2,1340.0 L323.8,1340.1 L324.4,1339.9 L325.1,1339.7 L325.8,1339.3 L326.5,1338.9 L327.3,1338.5 L327.9,1338.1 L328.6,1337.8 L329.2,1337.7 L329.8,1337.8 L330.4,1338.1 L330.9,1338.7 L331.4,1339.3 L331.9,1340.1 L332.4,1341.0 L332.8,1342.0 L333.2,1343.0 L333.5,1344.0 L333.9,1345.0 L334.2,1345.9 L334.5,1346.9 L334.8,1347.9 L335.1,1349.0 L335.3,1350.0 L335.5,1351.1 L335.7,1352.2 L335.8,1353.3 L336.0,1354.5 L336.2,1355.7 L336.4,1356.9 L336.7,1358.5 L337.0,1360.2 L337.3,1362.0 L337.6,1363.8 L337.9,1365.7 L338.2,1367.5 L338.5,1369.4 L338.8,1371.4 L339.0,1373.3 L339.3,1375.2 L339.6,1377.3 L339.8,1379.4 L340.0,1381.6 L340.2,1383.8 L340.4,1386.0 L340.6,1388.2 L340.8,1390.4 L341.0,1392.7 L341.3,1394.9 L341.5,1397.1 L341.8,1399.3 L342.0,1401.5 L342.3,1403.6 L342.6,1405.7 L342.9,1407.8 L343.3,1410.0 L343.6,1412.3 L343.9,1414.7 L344.1,1417.2 L344.4,1420.0 L344.8,1425.1 L345.2,1430.9 L345.5,1437.2 L345.8,1443.8 L346.1,1450.7 L346.4,1457.6 L346.7,1464.6 L347.0,1471.3 L347.4,1477.8 L347.8,1483.8 L348.2,1488.5 L348.6,1493.1 L349.0,1497.5 L349.4,1501.9 L349.9,1506.2 L350.3,1510.5 L350.8,1514.7 L351.2,1518.8 L351.7,1522.9 L352.1,1526.9 L352.5,1530.4 L352.8,1534.0 L353.2,1537.5 L353.5,1541.0 L353.8,1544.4 L354.2,1547.7 L354.5,1551.0 L354.9,1554.1 L355.2,1557.1 L355.5,1560.0 L355.7,1562.0 L355.9,1563.8 L356.2,1565.5 L356.4,1567.2 L356.6,1568.8 L356.8,1570.5 L357.0,1572.1 L357.2,1573.8 L357.5,1575.7 L357.7,1577.6 L358.0,1580.4 L358.4,1583.3 L358.7,1586.3 L359.1,1589.4 L359.5,1592.6 L359.9,1595.8 L360.3,1599.1 L360.7,1602.4 L361.1,1605.7 L361.5,1609.0 L362.0,1612.7 L362.4,1616.5 L362.9,1620.4 L363.3,1624.4 L363.8,1628.3 L364.3,1632.2 L364.8,1636.1 L365.3,1639.8 L365.9,1643.3 L366.5,1646.6 L366.9,1649.0 L367.4,1651.4 L367.8,1653.7 L368.2,1656.1 L368.6,1658.3 L369.1,1660.4 L369.6,1662.4 L370.3,1664.1 L371.1,1665.7 L372.0,1667.0 L372.7,1667.8 L373.5,1668.4 L374.4,1669.0 L375.3,1669.5 L376.2,1669.9 L377.2,1670.2 L378.1,1670.5 L379.1,1670.7 L380.1,1670.9 L381.0,1671.0 L381.9,1671.1 L382.9,1671.1 L383.8,1671.1 L384.8,1671.0 L385.8,1670.9 L386.7,1670.7 L387.6,1670.4 L388.5,1670.0 L389.3,1669.6 L390.0,1669.0 L390.9,1668.0 L391.6,1666.8 L392.2,1665.4 L392.7,1663.9 L393.2,1662.1 L393.6,1660.4 L394.0,1658.5 L394.4,1656.6 L394.8,1654.7 L395.3,1652.9 L395.9,1650.6 L396.6,1648.3 L397.2,1645.9 L397.8,1643.4 L398.4,1640.9 L399.1,1638.3 L399.7,1635.7 L400.3,1633.1 L401.0,1630.4 L401.6,1627.8 L402.3,1624.8 L403.1,1621.7 L403.8,1618.6 L404.6,1615.4 L405.4,1612.2 L406.1,1608.9 L406.9,1605.7 L407.6,1602.6 L408.4,1599.5 L409.1,1596.5 L409.8,1593.9 L410.4,1591.3 L411.0,1588.7 L411.7,1586.2 L412.3,1583.7 L413.0,1581.2 L413.6,1578.7 L414.2,1576.3 L414.8,1573.8 L415.4,1571.4 L415.9,1569.1 L416.4,1566.8 L416.9,1564.5 L417.4,1562.2 L417.8,1559.9 L418.3,1557.7 L418.8,1555.6 L419.3,1553.6 L419.8,1551.7 L420.4,1550.0 L420.8,1549.0 L421.2,1547.9 L421.6,1546.8 L422.0,1545.8 L422.4,1544.8 L422.9,1543.9 L423.3,1543.2 L423.8,1542.6 L424.2,1542.2 L424.7,1542.0 L425.1,1542.0 L425.5,1542.1 L426.0,1542.4 L426.4,1542.8 L426.9,1543.2 L427.3,1543.7 L427.8,1544.2 L428.2,1544.8 L428.6,1545.4 L429.0,1546.0 L429.5,1546.9 L430.0,1548.0 L430.4,1549.1 L430.8,1550.3 L431.2,1551.6 L431.6,1553.0 L431.9,1554.4 L432.3,1555.8 L432.6,1557.3 L433.0,1558.8 L433.5,1560.9 L434.0,1563.2 L434.5,1565.6 L435.0,1568.1 L435.5,1570.6 L436.0,1573.2 L436.5,1575.9 L437.0,1578.6 L437.5,1581.2 L438.0,1583.9 L438.6,1586.9 L439.2,1590.1 L439.8,1593.3 L440.4,1596.6 L441.0,1599.9 L441.6,1603.2 L442.3,1606.4 L442.9,1609.5 L443.6,1612.5 L444.3,1615.3 L444.9,1617.4 L445.4,1619.4 L446.0,1621.4 L446.5,1623.3 L447.1,1625.2 L447.7,1627.0 L448.3,1628.8 L449.0,1630.6 L449.7,1632.3 L450.5,1634.1 L451.3,1635.8 L452.2,1637.6 L453.1,1639.3 L454.1,1641.0 L455.1,1642.6 L456.2,1644.2 L457.2,1645.8 L458.3,1647.4 L459.4,1648.9 L460.6,1650.4 L461.7,1651.8 L462.9,1653.4 L464.2,1655.0 L465.4,1656.6 L466.7,1658.1 L468.0,1659.5 L469.3,1660.7 L470.6,1661.6 L471.8,1662.2 L473.0,1662.5 L473.9,1662.4 L474.8,1662.1 L475.7,1661.6 L476.6,1661.0 L477.5,1660.2 L478.4,1659.3 L479.2,1658.4 L480.1,1657.4 L481.0,1656.4 L481.9,1655.4 L483.2,1654.0 L484.4,1652.4 L485.8,1650.8 L487.1,1649.0 L488.4,1647.1 L489.7,1645.2 L491.0,1643.3 L492.2,1641.4 L493.4,1639.6 L494.5,1637.9 L495.4,1636.5 L496.3,1635.1 L497.1,1633.8 L497.9,1632.5 L498.7,1631.2 L499.4,1629.9 L500.2,1628.5 L501.0,1627.2 L501.7,1625.8 L502.5,1624.4 L503.4,1622.8 L504.2,1621.1 L505.1,1619.4 L505.9,1617.7 L506.7,1615.9 L507.6,1614.2 L508.4,1612.5 L509.2,1610.8 L510.1,1609.2 L510.9,1607.7 L511.6,1606.5 L512.2,1605.2 L512.9,1603.9 L513.5,1602.7 L514.1,1601.5 L514.8,1600.3 L515.4,1599.3 L516.1,1598.3 L516.8,1597.5 L517.6,1596.8 L518.2,1596.4 L518.7,1596.1 L519.3,1595.7 L519.9,1595.5 L520.5,1595.3 L521.1,1595.1 L521.7,1595.0 L522.3,1595.0 L522.9,1595.0 L523.5,1595.1 L524.2,1595.4 L524.9,1595.8 L525.6,1596.3 L526.3,1596.9 L526.9,1597.6 L527.6,1598.4 L528.2,1599.2 L528.9,1600.0 L529.5,1600.9 L530.1,1601.8 L530.9,1603.0 L531.6,1604.4 L532.2,1605.8 L532.9,1607.4 L533.5,1609.0 L534.2,1610.6 L534.8,1612.2 L535.4,1613.8 L536.1,1615.4 L536.8,1616.9 L537.5,1618.4 L538.2,1619.8 L538.9,1621.3 L539.6,1622.8 L540.3,1624.3 L541.1,1625.7 L541.9,1627.1 L542.7,1628.5 L543.5,1629.8 L544.4,1631.1 L545.3,1632.3 L546.3,1633.6 L547.3,1635.0 L548.3,1636.3 L549.4,1637.6 L550.4,1638.8 L551.5,1639.7 L552.5,1640.5 L553.5,1641.0 L554.4,1641.1 L555.2,1640.9 L555.9,1640.5 L556.6,1639.9 L557.3,1639.1 L558.0,1638.2 L558.6,1637.2 L559.3,1636.1 L559.9,1635.0 L560.5,1633.9 L561.1,1632.8 L561.8,1631.5 L562.4,1630.0 L563.1,1628.5 L563.6,1626.8 L564.2,1625.2 L564.7,1623.5 L565.3,1621.8 L565.8,1620.1 L566.4,1618.5 L567.0,1616.9 L567.6,1615.3 L568.2,1613.7 L568.8,1612.0 L569.4,1610.4 L570.0,1608.7 L570.6,1607.1 L571.2,1605.6 L572.0,1604.2 L572.7,1602.9 L573.6,1601.8 L574.3,1601.0 L575.1,1600.2 L575.9,1599.5 L576.7,1598.8 L577.6,1598.2 L578.5,1597.7 L579.4,1597.2 L580.3,1596.9 L581.1,1596.6 L582.0,1596.5 L582.8,1596.5 L583.7,1596.6 L584.6,1596.8 L585.5,1597.1 L586.3,1597.5 L587.2,1597.9 L588.0,1598.4 L588.9,1598.9 L589.7,1599.5 L590.4,1600.1 L591.2,1600.8 L591.9,1601.7 L592.6,1602.6 L593.3,1603.6 L593.9,1604.7 L594.5,1605.8 L595.1,1606.9 L595.8,1608.0 L596.4,1609.1 L597.1,1610.2 L597.9,1611.4 L598.7,1612.6 L599.5,1613.9 L600.3,1615.1 L601.1,1616.4 L601.9,1617.7 L602.8,1618.9 L603.6,1620.2 L604.5,1621.5 L605.4,1622.7 L606.4,1624.0 L607.3,1625.3 L608.4,1626.5 L609.4,1627.8 L610.4,1629.1 L611.5,1630.3 L612.5,1631.6 L613.5,1632.8 L614.5,1634.1 L615.5,1635.3 L616.4,1636.4 L617.2,1637.6 L618.0,1638.7 L618.8,1639.8 L619.6,1640.9 L620.4,1642.0 L621.2,1643.1 L622.0,1644.1 L622.9,1645.1 L623.8,1646.1 L624.7,1647.0 L625.6,1648.0 L626.6,1649.0 L627.5,1650.0 L628.5,1650.9 L629.5,1651.8 L630.5,1652.5 L631.5,1653.0 L632.6,1653.4 L633.6,1653.5 L634.8,1653.3 L636.1,1652.8 L637.4,1652.0 L638.7,1651.0 L640.1,1649.8 L641.4,1648.5 L642.6,1647.2 L643.9,1645.7 L645.0,1644.3 L646.1,1643.0 L647.2,1641.6 L648.1,1640.1 L649.0,1638.5 L649.9,1636.8 L650.7,1635.2 L651.5,1633.4 L652.3,1631.7 L653.0,1629.9 L653.7,1628.1 L654.5,1626.3 L655.3,1624.3 L656.1,1622.3 L656.9,1620.2 L657.6,1618.2 L658.3,1616.0 L659.0,1613.9 L659.7,1611.8 L660.4,1609.6 L661.1,1607.5 L661.8,1605.4 L662.5,1603.3 L663.1,1601.2 L663.7,1599.1 L664.4,1597.0 L665.0,1594.9 L665.6,1592.8 L666.2,1590.7 L666.8,1588.6 L667.5,1586.5 L668.1,1584.5 L668.7,1582.6 L669.3,1580.6 L670.0,1578.7 L670.6,1576.7 L671.2,1574.8 L671.9,1572.9 L672.5,1571.0 L673.1,1569.2 L673.8,1567.4 L674.4,1565.7 L674.9,1564.3 L675.4,1563.0 L676.0,1561.8 L676.5,1560.6 L677.0,1559.4 L677.5,1558.2 L678.1,1556.9 L678.6,1555.7 L679.1,1554.5 L679.6,1553.2 L680.1,1551.7 L680.6,1550.2 L681.0,1548.6 L681.5,1547.1 L681.9,1545.5 L682.4,1543.9 L682.9,1542.4 L683.5,1541.0 L684.1,1539.7 L684.8,1538.5 L685.4,1537.6 L686.1,1536.7 L686.8,1535.9 L687.6,1535.0 L688.3,1534.2 L689.1,1533.5 L689.9,1533.0 L690.7,1532.6 L691.4,1532.3 L692.1,1532.3 L692.9,1532.6 L693.7,1533.1 L694.5,1533.9 L695.2,1534.9 L696.0,1536.0 L696.7,1537.3 L697.5,1538.6 L698.1,1540.0 L698.8,1541.4 L699.4,1542.7 L700.1,1544.5 L700.8,1546.3 L701.4,1548.4 L701.9,1550.5 L702.4,1552.6 L702.9,1554.8 L703.3,1557.1 L703.8,1559.3 L704.2,1561.5 L704.7,1563.6 L705.2,1565.7 L705.6,1567.7 L706.0,1569.8 L706.4,1571.8 L706.8,1573.9 L707.2,1576.0 L707.6,1578.1 L708.0,1580.2 L708.4,1582.3 L708.8,1584.5 L709.3,1587.0 L709.8,1589.6 L710.3,1592.2 L710.8,1594.9 L711.3,1597.6 L711.8,1600.3 L712.4,1603.0 L712.9,1605.6 L713.5,1608.2 L714.1,1610.7 L714.6,1612.9 L715.2,1615.1 L715.7,1617.3 L716.3,1619.4 L716.8,1621.6 L717.4,1623.7 L718.1,1625.7 L718.8,1627.7 L719.5,1629.7 L720.3,1631.6 L721.1,1633.3 L722.0,1634.9 L722.9,1636.6 L723.8,1638.1 L724.8,1639.7 L725.8,1641.2 L726.8,1642.7 L727.8,1644.2 L728.8,1645.7 L729.8,1647.2 L730.8,1648.7 L731.8,1650.3 L732.8,1652.0 L733.8,1653.6 L734.8,1655.2 L735.8,1656.7 L736.8,1658.2 L737.9,1659.6 L739.0,1660.8 L740.2,1661.9 L741.2,1662.7 L742.1,1663.4 L743.1,1664.1 L744.1,1664.8 L745.2,1665.3 L746.2,1665.8 L747.3,1666.3 L748.4,1666.6 L749.5,1666.9 L750.7,1667.1 L752.1,1667.2 L753.6,1667.1 L755.1,1666.9 L756.7,1666.6 L758.3,1666.2 L759.9,1665.8 L761.5,1665.3 L763.1,1664.8 L764.7,1664.4 L766.3,1664.0 L767.9,1663.6 L769.4,1663.2 L770.9,1662.7 L772.5,1662.2 L774.0,1661.7 L775.5,1661.2 L777.1,1660.8 L778.7,1660.4 L780.3,1660.1 L782.0,1659.8 L784.0,1659.7 L786.2,1659.7 L788.4,1659.9 L790.7,1660.1 L793.0,1660.4 L795.2,1660.6 L797.4,1660.8 L799.4,1660.7 L801.3,1660.4 L803.0,1659.9 L804.2,1659.2 L805.3,1658.4 L806.3,1657.5 L807.2,1656.5 L808.1,1655.4 L808.9,1654.2 L809.7,1653.0 L810.5,1651.8 L811.4,1650.6 L812.2,1649.5 L813.1,1648.4 L813.9,1647.3 L814.8,1646.2 L815.7,1645.1 L816.5,1644.0 L817.3,1642.9 L818.1,1641.7 L818.9,1640.5 L819.6,1639.3 L820.3,1638.0 L821.0,1636.5 L821.7,1634.9 L822.3,1633.2 L822.9,1631.5 L823.4,1629.8 L823.9,1628.0 L824.4,1626.2 L824.9,1624.4 L825.5,1622.6 L826.0,1620.8 L826.6,1618.9 L827.1,1616.9 L827.7,1614.8 L828.2,1612.7 L828.8,1610.7 L829.4,1608.6 L829.9,1606.6 L830.5,1604.7 L831.1,1602.9 L831.8,1601.2 L832.3,1600.0 L832.8,1598.8 L833.3,1597.7 L833.9,1596.5 L834.4,1595.5 L835.0,1594.5 L835.6,1593.5 L836.2,1592.6 L836.8,1591.7 L837.5,1590.9 L838.1,1590.3 L838.7,1589.6 L839.4,1589.0 L840.1,1588.5 L840.8,1587.9 L841.5,1587.5 L842.2,1587.1 L842.9,1586.7 L843.7,1586.5 L844.4,1586.3 L845.2,1586.3 L846.0,1586.4 L846.8,1586.6 L847.6,1586.9 L848.5,1587.3 L849.3,1587.6 L850.1,1588.0 L850.9,1588.3 L851.7,1588.5 L852.5,1588.6 L853.1,1588.6 L853.7,1588.6 L854.3,1588.6 L854.9,1588.6 L855.4,1588.5 L856.0,1588.4 L856.6,1588.2 L857.1,1588.0 L857.7,1587.7 L858.2,1587.4 L859.1,1586.7 L859.9,1585.7 L860.8,1584.6 L861.6,1583.3 L862.4,1581.9 L863.2,1580.4 L864.0,1579.0 L864.8,1577.5 L865.5,1576.1 L866.3,1574.8 L867.0,1573.6 L867.8,1572.5 L868.5,1571.3 L869.2,1570.2 L869.9,1569.1 L870.6,1567.9 L871.3,1566.8 L872.0,1565.6 L872.6,1564.5 L873.2,1563.3 L873.7,1562.1 L874.2,1561.0 L874.6,1559.7 L875.0,1558.5 L875.4,1557.3 L875.8,1556.1 L876.2,1554.9 L876.7,1553.8 L877.2,1552.8 L877.8,1551.8 L878.4,1551.0 L879.0,1550.1 L879.7,1549.2 L880.4,1548.4 L881.2,1547.6 L881.9,1546.9 L882.7,1546.3 L883.4,1545.9 L884.2,1545.6 L885.0,1545.5 L886.0,1545.7 L887.0,1546.1 L888.0,1546.8 L889.1,1547.7 L890.2,1548.8 L891.3,1550.0 L892.3,1551.3 L893.3,1552.6 L894.2,1553.9 L895.0,1555.2 L895.9,1556.8 L896.6,1558.6 L897.2,1560.5 L897.8,1562.5 L898.3,1564.5 L898.8,1566.6 L899.3,1568.7 L899.7,1570.8 L900.2,1572.9 L900.8,1574.8 L901.3,1576.6 L901.9,1578.4 L902.4,1580.3 L902.9,1582.1 L903.5,1583.9 L904.0,1585.7 L904.6,1587.4 L905.2,1589.0 L905.8,1590.6 L906.5,1592.0 L907.0,1593.0 L907.6,1593.8 L908.2,1594.6 L908.8,1595.4 L909.4,1596.1 L910.0,1596.8 L910.6,1597.6 L911.2,1598.3 L911.8,1599.2 L912.3,1600.1 L912.9,1601.4 L913.5,1602.8 L914.1,1604.3 L914.6,1605.9 L915.1,1607.5 L915.6,1609.1 L916.2,1610.7 L916.7,1612.2 L917.3,1613.7 L918.0,1615.0 L918.6,1616.1 L919.2,1617.1 L919.8,1618.2 L920.5,1619.2 L921.1,1620.1 L921.8,1621.1 L922.5,1622.0 L923.3,1622.8 L924.1,1623.5 L924.9,1624.2 L925.7,1624.8 L926.6,1625.3 L927.5,1625.9 L928.4,1626.4 L929.4,1626.8 L930.3,1627.2 L931.3,1627.4 L932.2,1627.6 L933.2,1627.7 L934.1,1627.7 L935.0,1627.5 L936.0,1627.2 L937.0,1626.7 L937.9,1626.2 L938.9,1625.5 L939.8,1624.8 L940.7,1624.1 L941.6,1623.3 L942.5,1622.6 L943.3,1621.9 L944.1,1621.2 L944.8,1620.5 L945.4,1619.7 L946.1,1619.0 L946.7,1618.2 L947.4,1617.4 L948.0,1616.7 L948.7,1616.0 L949.4,1615.5 L950.2,1615.0 L950.9,1614.7 L951.7,1614.4 L952.5,1614.1 L953.4,1613.9 L954.2,1613.8 L955.0,1613.7 L955.9,1613.6 L956.7,1613.7 L957.5,1613.7 L958.3,1613.9 L959.1,1614.2 L960.0,1614.5 L960.8,1615.0 L961.6,1615.5 L962.4,1616.1 L963.2,1616.8 L963.9,1617.5 L964.7,1618.2 L965.5,1618.9 L966.3,1619.6 L967.2,1620.5 L968.1,1621.4 L969.1,1622.4 L970.0,1623.4 L970.9,1624.5 L971.8,1625.5 L972.7,1626.6 L973.6,1627.8 L974.5,1628.9 L975.5,1630.0 L976.6,1631.3 L977.7,1632.7 L978.7,1634.0 L979.8,1635.5 L980.9,1636.9 L982.0,1638.3 L983.2,1639.7 L984.4,1641.1 L985.7,1642.5 L987.0,1643.8 L988.6,1645.3 L990.4,1646.7 L992.2,1648.2 L994.1,1649.6 L996.0,1651.0 L998.0,1652.4 L1000.0,1653.7 L1001.9,1655.0 L1003.8,1656.2 L1005.7,1657.4 L1007.3,1658.4 L1008.9,1659.3 L1010.4,1660.2 L1012.0,1661.0 L1013.5,1661.8 L1015.1,1662.6 L1016.7,1663.3 L1018.2,1664.0 L1019.8,1664.7 L1021.4,1665.3 L1022.9,1665.8 L1024.3,1666.3 L1025.8,1666.8 L1027.2,1667.2 L1028.6,1667.6 L1030.1,1668.0 L1031.7,1668.3 L1033.3,1668.6 L1035.1,1668.9 L1037.0,1669.2 L1040.7,1669.6 L1044.8,1669.9 L1049.2,1670.0 L1054.0,1670.1 L1058.9,1670.2 L1064.0,1670.2 L1069.2,1670.1 L1074.3,1670.1 L1079.3,1670.0 L1084.1,1670.0 L1088.9,1670.0 L1093.9,1670.0 L1099.0,1670.0 L1104.1,1670.0 L1109.2,1670.0 L1114.1,1669.9 L1118.9,1669.8 L1123.3,1669.7 L1127.4,1669.5 L1131.1,1669.2 L1133.0,1669.0 L1134.7,1668.8 L1136.3,1668.5 L1137.8,1668.3 L1139.3,1668.0 L1140.7,1667.7 L1142.1,1667.5 L1143.6,1667.2 L1145.1,1667.0 L1146.8,1666.8 L1149.0,1666.6 L1151.2,1666.4 L1153.5,1666.2 L1155.9,1666.0 L1158.2,1665.8 L1160.7,1665.7 L1163.1,1665.6 L1165.5,1665.5 L1167.9,1665.5 L1170.3,1665.5 L1172.6,1665.6 L1175.0,1665.7 L1177.3,1665.9 L1179.6,1666.1 L1181.9,1666.3 L1184.2,1666.6 L1186.6,1666.8 L1189.0,1667.1 L1191.4,1667.3 L1193.9,1667.6 L1196.9,1667.9 L1199.9,1668.3 L1203.0,1668.6 L1206.1,1669.0 L1209.3,1669.4 L1212.5,1669.8 L1215.7,1670.1 L1218.9,1670.4 L1222.0,1670.6 L1225.2,1670.8 L1228.3,1670.9 L1231.3,1670.9 L1234.2,1670.8 L1237.2,1670.7 L1240.1,1670.6 L1243.1,1670.5 L1246.3,1670.3 L1249.5,1670.2 L1253.0,1670.1 L1256.6,1670.0 L1262.7,1670.0 L1269.5,1670.0 L1276.8,1670.1 L1284.6,1670.2 L1292.4,1670.3 L1300.2,1670.4 L1307.8,1670.5 L1314.9,1670.4 L1321.4,1670.3 L1327.0,1670.0 L1329.9,1669.8 L1332.6,1669.6 L1335.2,1669.4 L1337.6,1669.2 L1340.0,1668.9 L1342.2,1668.7 L1344.3,1668.3 L1346.5,1667.9 L1348.5,1667.4 L1350.6,1666.8 L1352.3,1666.2 L1354.0,1665.6 L1355.7,1664.8 L1357.3,1664.1 L1358.9,1663.3 L1360.4,1662.4 L1361.9,1661.6 L1363.4,1660.7 L1364.8,1659.8 L1366.2,1659.0 L1367.4,1658.2 L1368.5,1657.4 L1369.6,1656.6 L1370.6,1655.8 L1371.7,1654.9 L1372.7,1654.1 L1373.7,1653.3 L1374.8,1652.5 L1376.0,1651.8 L1377.2,1651.2 L1378.6,1650.6 L1380.1,1649.9 L1381.6,1649.4 L1383.1,1648.8 L1384.7,1648.4 L1386.3,1647.9 L1387.9,1647.6 L1389.6,1647.3 L1391.2,1647.1 L1392.9,1647.0 L1394.8,1647.0 L1396.8,1647.2 L1398.8,1647.5 L1400.8,1647.9 L1402.9,1648.3 L1404.9,1648.9 L1407.0,1649.4 L1409.1,1650.0 L1411.2,1650.6 L1413.3,1651.2 L1415.6,1651.9 L1418.0,1652.6 L1420.5,1653.4 L1423.0,1654.2 L1425.4,1655.1 L1427.9,1655.9 L1430.2,1656.8 L1432.5,1657.6 L1434.7,1658.3 L1436.8,1659.0 L1438.2,1659.5 L1439.5,1659.9 L1440.7,1660.4 L1441.8,1660.9 L1442.9,1661.3 L1444.1,1661.7 L1445.3,1662.1 L1446.5,1662.4 L1447.9,1662.7 L1449.4,1662.9 L1452.1,1663.1 L1455.1,1663.1 L1458.4,1662.9 L1461.8,1662.7 L1465.4,1662.3 L1469.1,1661.9 L1472.8,1661.5 L1476.6,1661.1 L1480.3,1660.8 L1483.9,1660.6 L1487.8,1660.4 L1491.7,1660.3 L1495.8,1660.1 L1499.9,1660.0 L1504.0,1659.8 L1508.0,1659.7 L1512.0,1659.7 L1515.9,1659.7 L1519.6,1659.7 L1523.1,1659.8 L1525.7,1659.9 L1528.1,1660.1 L1530.5,1660.3 L1532.7,1660.5 L1535.0,1660.7 L1537.2,1661.0 L1539.4,1661.3 L1541.7,1661.5 L1544.1,1661.8 L1546.6,1662.1 L1549.7,1662.5 L1553.0,1662.9 L1556.4,1663.3 L1559.8,1663.7 L1563.3,1664.2 L1566.8,1664.6 L1570.2,1665.1 L1573.6,1665.5 L1576.9,1665.8 L1580.0,1666.1 L1582.5,1666.3 L1584.9,1666.5 L1587.2,1666.6 L1589.5,1666.7 L1591.7,1666.8 L1594.0,1666.9 L1596.3,1667.0 L1598.6,1667.1 L1601.0,1667.2 L1603.5,1667.3 L1606.6,1667.5 L1609.6,1667.6 L1612.7,1667.8 L1615.9,1668.0 L1619.1,1668.2 L1622.4,1668.3 L1625.8,1668.5 L1629.4,1668.7 L1633.1,1668.8 L1636.9,1669.0 L1642.7,1669.2 L1648.8,1669.4 L1655.3,1669.6 L1662.0,1669.8 L1668.9,1670.0 L1675.9,1670.2 L1683.0,1670.3 L1690.1,1670.4 L1697.0,1670.5 L1703.8,1670.6 L1710.5,1670.6 L1717.3,1670.7 L1724.2,1670.7 L1731.0,1670.7 L1737.9,1670.6 L1744.6,1670.5 L1751.3,1670.4 L1757.9,1670.3 L1764.4,1670.1 L1770.7,1669.8 L1776.1,1669.5 L1781.4,1669.1 L1786.6,1668.7 L1791.8,1668.3 L1796.9,1667.8 L1801.9,1667.3 L1806.8,1666.9 L1811.6,1666.4 L1816.3,1666.0 L1820.9,1665.6 L1824.6,1665.3 L1828.2,1665.0 L1831.7,1664.7 L1835.2,1664.5 L1838.6,1664.2 L1841.9,1663.9 L1845.2,1663.7 L1848.4,1663.5 L1851.4,1663.3 L1854.4,1663.1 L1856.6,1663.0 L1858.7,1662.9 L1860.8,1662.8 L1862.8,1662.7 L1864.8,1662.6 L1866.7,1662.6 L1868.6,1662.5 L1870.6,1662.4 L1872.5,1662.4 L1874.5,1662.3" stroke="#ff0000" stroke-width="12" stroke-linecap="round" stroke-linejoin="round" fill="none"/>
<path d="M1117.7,860.2 H1236.4" stroke="#ff0000" stroke-width="12" stroke-linecap="round"/>
<path d="M1116.7,974.1 H1238.4" stroke="#c99633" stroke-width="10" stroke-linecap="round"/>
<path d="M1118,1087.5 H1237" stroke="#1281ff" stroke-width="3"/>
<rect x="1145.0" y="1083.1" width="11" height="8.8" stroke="#1281ff" stroke-width="2.1" fill="none"/>
<rect x="1208.5" y="1083.1" width="11" height="8.8" stroke="#1281ff" stroke-width="2.1" fill="none"/>
<path d="M1118,1201 H1237 M1138.5,1195.1 V1206.8 M1179.5,1195.1 V1206.8 M1221,1195.1 V1206.8" stroke="#00ff00" stroke-width="3.3"/>
<text x="199" y="1693.0" font-family="'TeX Gyre Termes', 'Liberation Serif', 'Times New Roman', serif" font-weight="bold" font-size="67" text-anchor="end">0</text>
<text x="199" y="1368.6" font-family="'TeX Gyre Termes', 'Liberation Serif', 'Times New Roman', serif" font-weight="bold" font-size="67" text-anchor="end">0.1</text>
<text x="199" y="1044.2" font-family="'TeX Gyre Termes', 'Liberation Serif', 'Times New Roman', serif" font-weight="bold" font-size="67" text-anchor="end">0.2</text>
<text x="199" y="719.8" font-family="'TeX Gyre Termes', 'Liberation Serif', 'Times New Roman', serif" font-weight="bold" font-size="67" text-anchor="end">0.3</text>
<text x="199" y="395.4" font-family="'TeX Gyre Termes', 'Liberation Serif', 'Times New Roman', serif" font-weight="bold" font-size="67" text-anchor="end">0.4</text>
<text x="199" y="71.0" font-family="'TeX Gyre Termes', 'Liberation Serif', 'Times New Roman', serif" font-weight="bold" font-size="67" text-anchor="end">0.5</text>
<text x="253.5" y="1785" font-family="'TeX Gyre Termes', 'Liberation Serif', 'Times New Roman', serif" font-weight="bold" font-size="67" text-anchor="middle">2</text>
<text x="522.7" y="1785" font-family="'TeX Gyre Termes', 'Liberation Serif', 'Times New Roman', serif" font-weight="bold" font-size="67" text-anchor="middle">3</text>
<text x="794.2" y="1785" font-family="'TeX Gyre Termes', 'Liberation Serif', 'Times New Roman', serif" font-weight="bold" font-size="67" text-anchor="middle">4</text>
<text x="1064.4" y="1785" font-family="'TeX Gyre Termes', 'Liberation Serif', 'Times New Roman', serif" font-weight="bold" font-size="67" text-anchor="middle">5</text>
<text x="1333.1" y="1785" font-family="'TeX Gyre Termes', 'Liberation Serif', 'Times New Roman', serif" font-weight="bold" font-size="67" text-anchor="middle">6</text>
<text x="1605.0" y="1785" font-family="'TeX Gyre Termes', 'Liberation Serif', 'Times New Roman', serif" font-weight="bold" font-size="67" text-anchor="middle">7</text>
<text x="1874.7" y="1785" font-family="'TeX Gyre Termes', 'Liberation Serif', 'Times New Roman', serif" font-weight="bold" font-size="67" text-anchor="middle">8</text>
<text x="727.9" y="1880" font-family="'TeX Gyre Termes', 'Liberation Serif', 'Times New Roman', serif" font-weight="bold" font-size="87.5" textLength="673.4" lengthAdjust="spacingAndGlyphs">Frequency (GHz)</text>
<text transform="translate(81.6,1633.3) rotate(-90)" x="0" y="0" font-family="'TeX Gyre Termes', 'Liberation Serif', 'Times New Roman', serif" font-weight="bold" font-size="87.5" textLength="1543.5" lengthAdjust="spacingAndGlyphs">Envelope Correlation Coefficient (ECC)</text>
<text x="1282.2" y="885" font-family="Carlito, Calibri, 'Liberation Sans', Arial, sans-serif" font-size="75" textLength="413.9" lengthAdjust="spacingAndGlyphs">measured w/</text>
<text x="1282.2" y="999" font-family="Carlito, Calibri, 'Liberation Sans', Arial, sans-serif" font-size="75" textLength="453.6" lengthAdjust="spacingAndGlyphs">measured w/o</text>
<text x="1282.2" y="1112" font-family="Carlito, Calibri, 'Liberation Sans', Arial, sans-serif" font-size="75" textLength="408.3" lengthAdjust="spacingAndGlyphs">simulated w/</text>
<text x="1282.2" y="1226" font-family="Carlito, Calibri, 'Liberation Sans', Arial, sans-serif" font-size="75" textLength="448.4" lengthAdjust="spacingAndGlyphs">simulated w/o</text>
</svg></body></html>
